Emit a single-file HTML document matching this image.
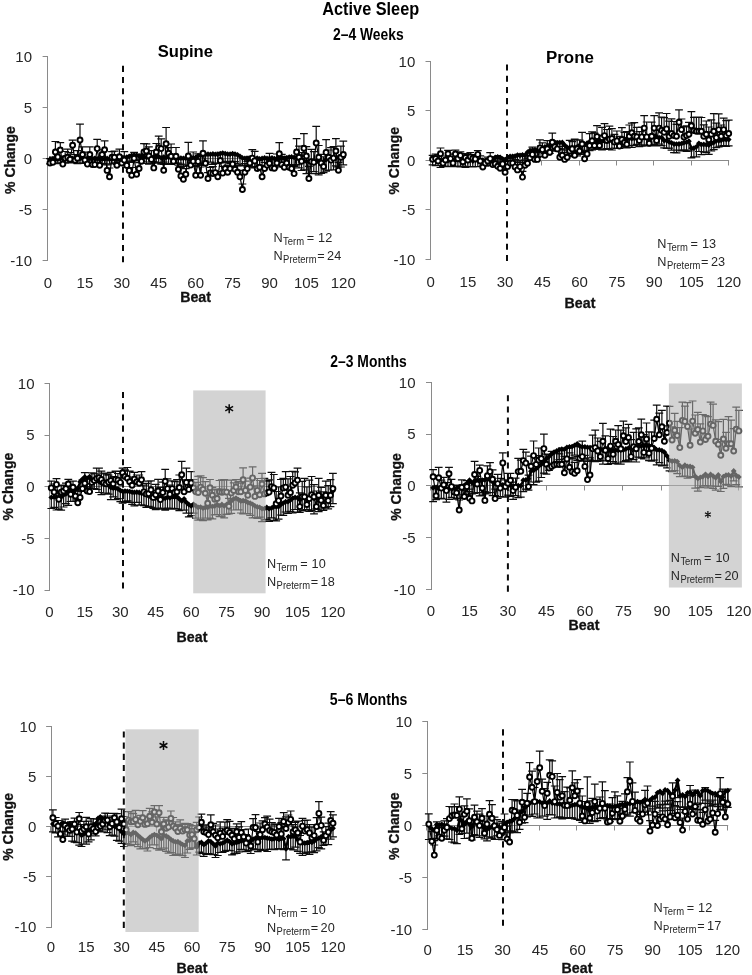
<!DOCTYPE html>
<html><head><meta charset="utf-8"><title>Active Sleep</title>
<style>html,body{margin:0;padding:0;background:#fff;}body{width:752px;height:975px;overflow:hidden;font-family:"Liberation Sans", sans-serif;}</style>
</head><body>
<div style="filter:grayscale(1);width:752px;height:975px">
<svg width="752" height="975" viewBox="0 0 752 975" style="display:block;font-family:'Liberation Sans',sans-serif">
<rect x="0" y="0" width="752" height="975" fill="#fff"/>
<g id="p1">
<path d="M47.5 56.0V261.0" stroke="#8a8a8a" stroke-width="1" fill="none"/>
<path d="M42.6 56.5H48.0" stroke="#8a8a8a" stroke-width="1"/>
<text x="32.0" y="61.5" font-size="15" text-anchor="end" fill="#262626">10</text>
<path d="M42.6 107.5H48.0" stroke="#8a8a8a" stroke-width="1"/>
<text x="32.0" y="112.5" font-size="15" text-anchor="end" fill="#262626">5</text>
<path d="M42.6 158.5H48.0" stroke="#8a8a8a" stroke-width="1"/>
<text x="32.0" y="163.5" font-size="15" text-anchor="end" fill="#262626">0</text>
<path d="M42.6 209.5H48.0" stroke="#8a8a8a" stroke-width="1"/>
<text x="32.0" y="214.5" font-size="15" text-anchor="end" fill="#262626">-5</text>
<path d="M42.6 260.5H48.0" stroke="#8a8a8a" stroke-width="1"/>
<text x="32.0" y="265.5" font-size="15" text-anchor="end" fill="#262626">-10</text>
<path d="M47.6 158.5H343.7" stroke="#8a8a8a" stroke-width="1"/>
<path d="M47.5 158.5v5" stroke="#8a8a8a" stroke-width="1"/>
<text x="48.0" y="288.3" font-size="15" text-anchor="middle" fill="#262626">0</text>
<path d="M84.5 158.5v5" stroke="#8a8a8a" stroke-width="1"/>
<text x="84.9" y="288.3" font-size="15" text-anchor="middle" fill="#262626">15</text>
<path d="M121.5 158.5v5" stroke="#8a8a8a" stroke-width="1"/>
<text x="121.8" y="288.3" font-size="15" text-anchor="middle" fill="#262626">30</text>
<path d="M158.5 158.5v5" stroke="#8a8a8a" stroke-width="1"/>
<text x="158.7" y="288.3" font-size="15" text-anchor="middle" fill="#262626">45</text>
<path d="M195.5 158.5v5" stroke="#8a8a8a" stroke-width="1"/>
<text x="195.7" y="288.3" font-size="15" text-anchor="middle" fill="#262626">60</text>
<path d="M232.5 158.5v5" stroke="#8a8a8a" stroke-width="1"/>
<text x="232.6" y="288.3" font-size="15" text-anchor="middle" fill="#262626">75</text>
<path d="M269.5 158.5v5" stroke="#8a8a8a" stroke-width="1"/>
<text x="269.5" y="288.3" font-size="15" text-anchor="middle" fill="#262626">90</text>
<path d="M306.5 158.5v5" stroke="#8a8a8a" stroke-width="1"/>
<text x="306.4" y="288.3" font-size="15" text-anchor="middle" fill="#262626">105</text>
<path d="M342.5 158.5v5" stroke="#8a8a8a" stroke-width="1"/>
<text x="343.3" y="288.3" font-size="15" text-anchor="middle" fill="#262626">120</text>
<text x="195.6" y="302.4" font-size="14.2" font-weight="bold" text-anchor="middle" fill="#111" stroke="#111" stroke-width="0.3">Beat</text>
<text transform="translate(14.8 160.1) rotate(-90)" font-size="14" font-weight="bold" text-anchor="middle" fill="#111" stroke="#111" stroke-width="0.3">% Change</text>
<path d="M123.0 65.8V263.0" stroke="#0a0a0a" stroke-width="2" stroke-dasharray="6.1 5.1" fill="none"/>
<path d="M50.0 159.3V163.8M46.1 163.8h7.8M52.9 158.8V163.0M49.0 163.0h7.8M55.4 159.7V163.7M51.5 163.7h7.8M57.8 159.0V162.9M53.9 162.9h7.8M60.3 158.8V163.5M56.4 163.5h7.8M62.8 158.2V162.8M58.9 162.8h7.8M65.2 158.8V163.1M61.3 163.1h7.8M67.7 158.4V162.8M63.8 162.8h7.8M70.1 158.1V162.5M66.2 162.5h7.8M72.6 158.3V161.9M68.7 161.9h7.8M75.1 158.2V162.8M71.2 162.8h7.8M77.5 159.0V163.7M73.6 163.7h7.8M80.0 158.6V162.9M76.1 162.9h7.8M82.5 158.3V163.4M78.6 163.4h7.8M84.9 159.1V163.4M81.0 163.4h7.8M87.4 158.1V162.5M83.5 162.5h7.8M89.8 158.3V162.5M85.9 162.5h7.8M92.3 159.1V164.6M88.4 164.6h7.8M94.8 158.4V163.4M90.9 163.4h7.8M97.2 158.8V164.2M93.3 164.2h7.8M99.7 158.9V164.3M95.8 164.3h7.8M102.1 159.2V163.3M98.2 163.3h7.8M104.6 159.1V164.2M100.7 164.2h7.8M107.1 158.5V164.2M103.2 164.2h7.8M109.5 159.3V163.8M105.6 163.8h7.8M112.0 158.6V164.0M108.1 164.0h7.8M114.4 158.5V162.8M110.5 162.8h7.8M116.9 158.7V164.5M113.0 164.5h7.8M119.4 159.1V163.6M115.5 163.6h7.8M121.8 158.8V163.6M117.9 163.6h7.8M124.3 158.2V163.5M120.4 163.5h7.8M126.8 157.2V162.1M122.9 162.1h7.8M129.2 156.3V161.3M125.3 161.3h7.8M131.7 155.5V161.0M127.8 161.0h7.8M134.1 155.2V159.8M130.2 159.8h7.8M136.6 155.2V160.9M132.7 160.9h7.8M139.1 156.2V162.6M135.2 162.6h7.8M141.5 156.0V161.0M137.6 161.0h7.8M144.0 156.9V162.0M140.1 162.0h7.8M146.4 157.3V163.5M142.5 163.5h7.8M148.9 157.8V164.2M145.0 164.2h7.8M151.4 157.4V163.4M147.5 163.4h7.8M153.8 156.7V161.6M149.9 161.6h7.8M156.3 156.7V162.6M152.4 162.6h7.8M158.7 156.7V163.2M154.8 163.2h7.8M161.2 157.8V164.2M157.3 164.2h7.8M163.7 157.1V162.2M159.8 162.2h7.8M166.1 157.7V163.6M162.2 163.6h7.8M168.6 157.2V164.3M164.7 164.3h7.8M171.1 157.3V164.3M167.2 164.3h7.8M173.5 157.0V163.3M169.6 163.3h7.8M176.0 157.2V163.3M172.1 163.3h7.8M178.4 158.4V165.1M174.5 165.1h7.8M180.9 158.1V164.0M177.0 164.0h7.8M183.4 158.3V166.5M179.5 166.5h7.8M185.8 158.2V165.0M181.9 165.0h7.8M188.3 158.2V165.3M184.4 165.3h7.8M190.7 157.3V165.4M186.8 165.4h7.8M193.2 158.0V166.2M189.3 166.2h7.8M195.7 157.3V165.5M191.8 165.5h7.8M198.1 155.7V163.4M194.2 163.4h7.8M200.6 155.5V165.4M196.7 165.4h7.8M203.0 154.2V164.4M199.1 164.4h7.8M205.5 154.5V162.3M201.6 162.3h7.8M208.0 154.2V164.1M204.1 164.1h7.8M210.4 154.4V162.2M206.5 162.2h7.8M212.9 153.9V164.5M209.0 164.5h7.8M215.3 154.3V163.3M211.4 163.3h7.8M217.8 154.4V163.0M213.9 163.0h7.8M220.3 153.7V162.9M216.4 162.9h7.8M222.7 153.1V161.7M218.8 161.7h7.8M225.2 153.6V162.1M221.3 162.1h7.8M227.7 154.2V161.3M223.8 161.3h7.8M230.1 154.2V163.4M226.2 163.4h7.8M232.6 153.7V161.7M228.7 161.7h7.8M235.0 154.1V161.7M231.1 161.7h7.8M237.5 154.8V164.1M233.6 164.1h7.8M240.0 156.3V166.0M236.1 166.0h7.8M242.4 157.9V165.4M238.5 165.4h7.8M244.9 158.3V165.2M241.0 165.2h7.8M247.3 158.9V167.1M243.4 167.1h7.8M249.8 158.5V166.3M245.9 166.3h7.8M252.3 158.0V166.7M248.4 166.7h7.8M254.7 159.0V167.9M250.8 167.9h7.8M257.2 158.1V166.7M253.3 166.7h7.8M259.6 159.0V167.4M255.7 167.4h7.8M262.1 158.5V165.6M258.2 165.6h7.8M264.6 158.0V166.0M260.7 166.0h7.8M267.0 158.5V166.9M263.1 166.9h7.8M269.5 158.3V165.5M265.6 165.5h7.8M272.0 158.0V165.5M268.1 165.5h7.8M274.4 158.7V168.1M270.5 168.1h7.8M276.9 158.4V166.9M273.0 166.9h7.8M279.3 158.1V166.8M275.4 166.8h7.8M281.8 157.8V167.0M277.9 167.0h7.8M284.3 158.3V166.1M280.4 166.1h7.8M286.7 157.8V166.9M282.8 166.9h7.8M289.2 157.1V165.1M285.3 165.1h7.8M291.6 157.0V164.5M287.7 164.5h7.8M294.1 157.3V165.7M290.2 165.7h7.8M296.6 157.4V164.6M292.7 164.6h7.8M299.0 159.2V167.9M295.1 167.9h7.8M301.5 159.4V170.5M297.6 170.5h7.8M303.9 160.9V169.9M300.0 169.9h7.8M306.4 161.4V173.6M302.5 173.6h7.8M308.9 161.4V173.3M305.0 173.3h7.8M311.3 161.3V173.6M307.4 173.6h7.8M313.8 162.0V171.5M309.9 171.5h7.8M316.2 161.5V173.4M312.3 173.4h7.8M318.7 161.8V174.8M314.8 174.8h7.8M321.2 161.8V173.4M317.3 173.4h7.8M323.6 161.4V172.7M319.7 172.7h7.8M326.1 159.7V171.1M322.2 171.1h7.8M328.6 159.2V170.1M324.7 170.1h7.8M331.0 158.3V170.0M327.1 170.0h7.8M333.5 158.8V169.9M329.6 169.9h7.8M335.9 158.2V165.9M332.0 165.9h7.8M338.4 157.2V167.2M334.5 167.2h7.8M340.9 157.2V167.0M337.0 167.0h7.8M343.3 157.3V164.9M339.4 164.9h7.8" stroke="#0c0c0c" stroke-width="1.2" fill="none"/>
<path d="M50.0 163.0V158.7M46.1 158.7h7.8M52.9 162.3V157.2M49.0 157.2h7.8M55.4 152.0V141.5M51.5 141.5h7.8M57.8 156.9V149.4M53.9 149.4h7.8M60.3 150.0V142.6M56.4 142.6h7.8M62.8 164.1V157.8M58.9 157.8h7.8M65.2 158.3V151.5M61.3 151.5h7.8M67.7 157.3V149.1M63.8 149.1h7.8M70.1 159.3V152.6M66.2 152.6h7.8M72.6 145.3V140.1M68.7 140.1h7.8M75.1 160.3V154.5M71.2 154.5h7.8M77.5 158.3V150.7M73.6 150.7h7.8M80.0 140.0V124.2M76.1 124.2h7.8M82.5 154.5V146.9M78.6 146.9h7.8M84.9 160.1V152.2M81.0 152.2h7.8M87.4 164.1V157.7M83.5 157.7h7.8M89.8 154.5V146.8M85.9 146.8h7.8M92.3 164.6V157.0M88.4 157.0h7.8M94.8 164.6V157.8M90.9 157.8h7.8M97.2 148.6V139.3M93.3 139.3h7.8M99.7 165.3V158.2M95.8 158.2h7.8M102.1 154.5V149.8M98.2 149.8h7.8M104.6 149.8V140.8M100.7 140.8h7.8M107.1 170.4V164.8M103.2 164.8h7.8M109.5 176.7V168.0M105.6 168.0h7.8M112.0 157.3V151.7M108.1 151.7h7.8M114.4 157.3V151.2M110.5 151.2h7.8M116.9 165.3V159.4M113.0 159.4h7.8M119.4 156.7V149.2M115.5 149.2h7.8M121.8 163.0V156.2M117.9 156.2h7.8M124.3 160.1V151.7M120.4 151.7h7.8M126.8 165.4V156.6M122.9 156.6h7.8M129.2 170.4V162.5M125.3 162.5h7.8M131.7 175.3V167.5M127.8 167.5h7.8M134.1 158.3V152.3M130.2 152.3h7.8M136.6 174.2V167.5M132.7 167.5h7.8M139.1 168.5V159.8M135.2 159.8h7.8M141.5 161.3V154.0M137.6 154.0h7.8M144.0 152.0V143.7M140.1 143.7h7.8M146.4 151.0V143.9M142.5 143.9h7.8M148.9 156.0V146.9M145.0 146.9h7.8M151.4 159.4V150.6M147.5 150.6h7.8M153.8 167.9V158.7M149.9 158.7h7.8M156.3 152.0V143.5M152.4 143.5h7.8M158.7 147.8V136.2M154.8 136.2h7.8M161.2 148.6V138.9M157.3 138.9h7.8M163.7 170.3V164.3M159.8 164.3h7.8M166.1 143.7V127.5M162.2 127.5h7.8M168.6 153.2V147.7M164.7 147.7h7.8M171.1 156.3V144.0M167.2 144.0h7.8M173.5 161.3V155.1M169.6 155.1h7.8M176.0 156.3V147.5M172.1 147.5h7.8M178.4 169.3V163.2M174.5 163.2h7.8M180.9 175.9V167.7M177.0 167.7h7.8M183.4 179.2V174.1M179.5 174.1h7.8M185.8 174.2V168.6M181.9 168.6h7.8M188.3 156.0V142.3M184.4 142.3h7.8M190.7 165.1V159.6M186.8 159.6h7.8M193.2 161.2V152.0M189.3 152.0h7.8M195.7 175.3V166.4M191.8 166.4h7.8M198.1 161.4V153.9M194.2 153.9h7.8M200.6 175.2V167.0M196.7 167.0h7.8M203.0 153.2V140.8M199.1 140.8h7.8M205.5 163.3V155.4M201.6 155.4h7.8M208.0 178.5V172.6M204.1 172.6h7.8M210.4 172.9V167.3M206.5 167.3h7.8M212.9 173.6V166.6M209.0 166.6h7.8M215.3 172.6V163.6M211.4 163.6h7.8M217.8 176.7V171.7M213.9 171.7h7.8M220.3 160.5V152.4M216.4 152.4h7.8M222.7 173.1V166.4M218.8 166.4h7.8M225.2 168.5V162.5M221.3 162.5h7.8M227.7 172.2V165.1M223.8 165.1h7.8M230.1 168.5V161.6M226.2 161.6h7.8M232.6 164.0V154.9M228.7 154.9h7.8M235.0 169.3V163.4M231.1 163.4h7.8M237.5 172.2V165.6M233.6 165.6h7.8M240.0 176.7V170.4M236.1 170.4h7.8M242.4 189.5V184.0M238.5 184.0h7.8M244.9 172.2V163.5M241.0 163.5h7.8M247.3 168.5V161.3M243.4 161.3h7.8M249.8 163.0V156.3M245.9 156.3h7.8M252.3 158.1V149.6M248.4 149.6h7.8M254.7 160.9V151.4M250.8 151.4h7.8M257.2 168.5V158.8M253.3 158.8h7.8M259.6 167.2V159.8M255.7 159.8h7.8M262.1 176.7V166.5M258.2 166.5h7.8M264.6 168.5V162.4M260.7 162.4h7.8M267.0 165.1V158.7M263.1 158.7h7.8M269.5 163.3V153.4M265.6 153.4h7.8M272.0 167.9V159.2M268.1 159.2h7.8M274.4 168.2V159.1M270.5 159.1h7.8M276.9 163.0V154.0M273.0 154.0h7.8M279.3 153.8V142.6M275.4 142.6h7.8M281.8 164.6V154.4M277.9 154.4h7.8M284.3 167.2V158.9M280.4 158.9h7.8M286.7 163.0V156.4M282.8 156.4h7.8M289.2 167.2V157.7M285.3 157.7h7.8M291.6 168.5V158.1M287.7 158.1h7.8M294.1 173.6V166.3M290.2 166.3h7.8M296.6 152.0V138.6M292.7 138.6h7.8M299.0 157.3V146.2M295.1 146.2h7.8M301.5 161.3V152.6M297.6 152.6h7.8M303.9 148.2V133.7M300.0 133.7h7.8M306.4 156.0V146.6M302.5 146.6h7.8M308.9 178.5V166.3M305.0 166.3h7.8M311.3 161.6V149.3M307.4 149.3h7.8M313.8 162.3V151.6M309.9 151.6h7.8M316.2 143.0V126.4M312.3 126.4h7.8M318.7 157.3V145.5M314.8 145.5h7.8M321.2 163.0V154.4M317.3 154.4h7.8M323.6 166.5V156.8M319.7 156.8h7.8M326.1 152.4V139.7M322.2 139.7h7.8M328.6 157.3V150.0M324.7 150.0h7.8M331.0 160.1V147.7M327.1 147.7h7.8M333.5 158.1V146.7M329.6 146.7h7.8M335.9 151.0V138.6M332.0 138.6h7.8M338.4 170.3V162.4M334.5 162.4h7.8M340.9 157.3V146.2M337.0 146.2h7.8M343.3 154.5V141.2M339.4 141.2h7.8" stroke="#0c0c0c" stroke-width="1.2" fill="none"/>
<polyline points="50.0,159.3 52.9,158.8 55.4,159.7 57.8,159.0 60.3,158.8 62.8,158.2 65.2,158.8 67.7,158.4 70.1,158.1 72.6,158.3 75.1,158.2 77.5,159.0 80.0,158.6 82.5,158.3 84.9,159.1 87.4,158.1 89.8,158.3 92.3,159.1 94.8,158.4 97.2,158.8 99.7,158.9 102.1,159.2 104.6,159.1 107.1,158.5 109.5,159.3 112.0,158.6 114.4,158.5 116.9,158.7 119.4,159.1 121.8,158.8 124.3,158.2 126.8,157.2 129.2,156.3 131.7,155.5 134.1,155.2 136.6,155.2 139.1,156.2 141.5,156.0 144.0,156.9 146.4,157.3 148.9,157.8 151.4,157.4 153.8,156.7 156.3,156.7 158.7,156.7 161.2,157.8 163.7,157.1 166.1,157.7 168.6,157.2 171.1,157.3 173.5,157.0 176.0,157.2 178.4,158.4 180.9,158.1 183.4,158.3 185.8,158.2 188.3,158.2 190.7,157.3 193.2,158.0 195.7,157.3 198.1,155.7 200.6,155.5 203.0,154.2 205.5,154.5 208.0,154.2 210.4,154.4 212.9,153.9 215.3,154.3 217.8,154.4 220.3,153.7 222.7,153.1 225.2,153.6 227.7,154.2 230.1,154.2 232.6,153.7 235.0,154.1 237.5,154.8 240.0,156.3 242.4,157.9 244.9,158.3 247.3,158.9 249.8,158.5 252.3,158.0 254.7,159.0 257.2,158.1 259.6,159.0 262.1,158.5 264.6,158.0 267.0,158.5 269.5,158.3 272.0,158.0 274.4,158.7 276.9,158.4 279.3,158.1 281.8,157.8 284.3,158.3 286.7,157.8 289.2,157.1 291.6,157.0 294.1,157.3 296.6,157.4 299.0,159.2 301.5,159.4 303.9,160.9 306.4,161.4 308.9,161.4 311.3,161.3 313.8,162.0 316.2,161.5 318.7,161.8 321.2,161.8 323.6,161.4 326.1,159.7 328.6,159.2 331.0,158.3 333.5,158.8 335.9,158.2 338.4,157.2 340.9,157.2 343.3,157.3" stroke="#000" stroke-width="2.2" fill="none" stroke-linejoin="round"/>
<path d="M47.1 159.3L50.0 156.4L52.9 159.3L50.0 162.2ZM50.0 158.8L52.9 155.9L55.8 158.8L52.9 161.7ZM52.5 159.7L55.4 156.8L58.3 159.7L55.4 162.6ZM54.9 159.0L57.8 156.1L60.7 159.0L57.8 161.9ZM57.4 158.8L60.3 155.9L63.2 158.8L60.3 161.7ZM59.9 158.2L62.8 155.3L65.7 158.2L62.8 161.1ZM62.3 158.8L65.2 155.9L68.1 158.8L65.2 161.7ZM64.8 158.4L67.7 155.5L70.6 158.4L67.7 161.3ZM67.2 158.1L70.1 155.2L73.0 158.1L70.1 161.0ZM69.7 158.3L72.6 155.4L75.5 158.3L72.6 161.2ZM72.2 158.2L75.1 155.3L78.0 158.2L75.1 161.1ZM74.6 159.0L77.5 156.1L80.4 159.0L77.5 161.9ZM77.1 158.6L80.0 155.7L82.9 158.6L80.0 161.5ZM79.6 158.3L82.5 155.4L85.4 158.3L82.5 161.2ZM82.0 159.1L84.9 156.2L87.8 159.1L84.9 162.0ZM84.5 158.1L87.4 155.2L90.3 158.1L87.4 161.0ZM86.9 158.3L89.8 155.4L92.7 158.3L89.8 161.2ZM89.4 159.1L92.3 156.2L95.2 159.1L92.3 162.0ZM91.9 158.4L94.8 155.5L97.7 158.4L94.8 161.3ZM94.3 158.8L97.2 155.9L100.1 158.8L97.2 161.7ZM96.8 158.9L99.7 156.0L102.6 158.9L99.7 161.8ZM99.2 159.2L102.1 156.3L105.0 159.2L102.1 162.1ZM101.7 159.1L104.6 156.2L107.5 159.1L104.6 162.0ZM104.2 158.5L107.1 155.6L110.0 158.5L107.1 161.4ZM106.6 159.3L109.5 156.4L112.4 159.3L109.5 162.2ZM109.1 158.6L112.0 155.7L114.9 158.6L112.0 161.5ZM111.5 158.5L114.4 155.6L117.3 158.5L114.4 161.4ZM114.0 158.7L116.9 155.8L119.8 158.7L116.9 161.6ZM116.5 159.1L119.4 156.2L122.3 159.1L119.4 162.0ZM118.9 158.8L121.8 155.9L124.7 158.8L121.8 161.7ZM121.4 158.2L124.3 155.3L127.2 158.2L124.3 161.1ZM123.9 157.2L126.8 154.3L129.7 157.2L126.8 160.1ZM126.3 156.3L129.2 153.4L132.1 156.3L129.2 159.2ZM128.8 155.5L131.7 152.6L134.6 155.5L131.7 158.4ZM131.2 155.2L134.1 152.3L137.0 155.2L134.1 158.1ZM133.7 155.2L136.6 152.3L139.5 155.2L136.6 158.1ZM136.2 156.2L139.1 153.3L142.0 156.2L139.1 159.1ZM138.6 156.0L141.5 153.1L144.4 156.0L141.5 158.9ZM141.1 156.9L144.0 154.0L146.9 156.9L144.0 159.8ZM143.5 157.3L146.4 154.4L149.3 157.3L146.4 160.2ZM146.0 157.8L148.9 154.9L151.8 157.8L148.9 160.7ZM148.5 157.4L151.4 154.5L154.3 157.4L151.4 160.3ZM150.9 156.7L153.8 153.8L156.7 156.7L153.8 159.6ZM153.4 156.7L156.3 153.8L159.2 156.7L156.3 159.6ZM155.8 156.7L158.7 153.8L161.6 156.7L158.7 159.6ZM158.3 157.8L161.2 154.9L164.1 157.8L161.2 160.7ZM160.8 157.1L163.7 154.2L166.6 157.1L163.7 160.0ZM163.2 157.7L166.1 154.8L169.0 157.7L166.1 160.6ZM165.7 157.2L168.6 154.3L171.5 157.2L168.6 160.1ZM168.2 157.3L171.1 154.4L174.0 157.3L171.1 160.2ZM170.6 157.0L173.5 154.1L176.4 157.0L173.5 159.9ZM173.1 157.2L176.0 154.3L178.9 157.2L176.0 160.1ZM175.5 158.4L178.4 155.5L181.3 158.4L178.4 161.3ZM178.0 158.1L180.9 155.2L183.8 158.1L180.9 161.0ZM180.5 158.3L183.4 155.4L186.3 158.3L183.4 161.2ZM182.9 158.2L185.8 155.3L188.7 158.2L185.8 161.1ZM185.4 158.2L188.3 155.3L191.2 158.2L188.3 161.1ZM187.8 157.3L190.7 154.4L193.6 157.3L190.7 160.2ZM190.3 158.0L193.2 155.1L196.1 158.0L193.2 160.9ZM192.8 157.3L195.7 154.4L198.6 157.3L195.7 160.2ZM195.2 155.7L198.1 152.8L201.0 155.7L198.1 158.6ZM197.7 155.5L200.6 152.6L203.5 155.5L200.6 158.4ZM200.1 154.2L203.0 151.3L205.9 154.2L203.0 157.1ZM202.6 154.5L205.5 151.6L208.4 154.5L205.5 157.4ZM205.1 154.2L208.0 151.3L210.9 154.2L208.0 157.1ZM207.5 154.4L210.4 151.5L213.3 154.4L210.4 157.3ZM210.0 153.9L212.9 151.0L215.8 153.9L212.9 156.8ZM212.4 154.3L215.3 151.4L218.2 154.3L215.3 157.2ZM214.9 154.4L217.8 151.5L220.7 154.4L217.8 157.3ZM217.4 153.7L220.3 150.8L223.2 153.7L220.3 156.6ZM219.8 153.1L222.7 150.2L225.6 153.1L222.7 156.0ZM222.3 153.6L225.2 150.7L228.1 153.6L225.2 156.5ZM224.8 154.2L227.7 151.3L230.6 154.2L227.7 157.1ZM227.2 154.2L230.1 151.3L233.0 154.2L230.1 157.1ZM229.7 153.7L232.6 150.8L235.5 153.7L232.6 156.6ZM232.1 154.1L235.0 151.2L237.9 154.1L235.0 157.0ZM234.6 154.8L237.5 151.9L240.4 154.8L237.5 157.7ZM237.1 156.3L240.0 153.4L242.9 156.3L240.0 159.2ZM239.5 157.9L242.4 155.0L245.3 157.9L242.4 160.8ZM242.0 158.3L244.9 155.4L247.8 158.3L244.9 161.2ZM244.4 158.9L247.3 156.0L250.2 158.9L247.3 161.8ZM246.9 158.5L249.8 155.6L252.7 158.5L249.8 161.4ZM249.4 158.0L252.3 155.1L255.2 158.0L252.3 160.9ZM251.8 159.0L254.7 156.1L257.6 159.0L254.7 161.9ZM254.3 158.1L257.2 155.2L260.1 158.1L257.2 161.0ZM256.7 159.0L259.6 156.1L262.5 159.0L259.6 161.9ZM259.2 158.5L262.1 155.6L265.0 158.5L262.1 161.4ZM261.7 158.0L264.6 155.1L267.5 158.0L264.6 160.9ZM264.1 158.5L267.0 155.6L269.9 158.5L267.0 161.4ZM266.6 158.3L269.5 155.4L272.4 158.3L269.5 161.2ZM269.1 158.0L272.0 155.1L274.9 158.0L272.0 160.9ZM271.5 158.7L274.4 155.8L277.3 158.7L274.4 161.6ZM274.0 158.4L276.9 155.5L279.8 158.4L276.9 161.3ZM276.4 158.1L279.3 155.2L282.2 158.1L279.3 161.0ZM278.9 157.8L281.8 154.9L284.7 157.8L281.8 160.7ZM281.4 158.3L284.3 155.4L287.2 158.3L284.3 161.2ZM283.8 157.8L286.7 154.9L289.6 157.8L286.7 160.7ZM286.3 157.1L289.2 154.2L292.1 157.1L289.2 160.0ZM288.7 157.0L291.6 154.1L294.5 157.0L291.6 159.9ZM291.2 157.3L294.1 154.4L297.0 157.3L294.1 160.2ZM293.7 157.4L296.6 154.5L299.5 157.4L296.6 160.3ZM296.1 159.2L299.0 156.3L301.9 159.2L299.0 162.1ZM298.6 159.4L301.5 156.5L304.4 159.4L301.5 162.3ZM301.0 160.9L303.9 158.0L306.8 160.9L303.9 163.8ZM303.5 161.4L306.4 158.5L309.3 161.4L306.4 164.3ZM306.0 161.4L308.9 158.5L311.8 161.4L308.9 164.3ZM308.4 161.3L311.3 158.4L314.2 161.3L311.3 164.2ZM310.9 162.0L313.8 159.1L316.7 162.0L313.8 164.9ZM313.3 161.5L316.2 158.6L319.1 161.5L316.2 164.4ZM315.8 161.8L318.7 158.9L321.6 161.8L318.7 164.7ZM318.3 161.8L321.2 158.9L324.1 161.8L321.2 164.7ZM320.7 161.4L323.6 158.5L326.5 161.4L323.6 164.3ZM323.2 159.7L326.1 156.8L329.0 159.7L326.1 162.6ZM325.7 159.2L328.6 156.3L331.5 159.2L328.6 162.1ZM328.1 158.3L331.0 155.4L333.9 158.3L331.0 161.2ZM330.6 158.8L333.5 155.9L336.4 158.8L333.5 161.7ZM333.0 158.2L335.9 155.3L338.8 158.2L335.9 161.1ZM335.5 157.2L338.4 154.3L341.3 157.2L338.4 160.1ZM338.0 157.2L340.9 154.3L343.8 157.2L340.9 160.1ZM340.4 157.3L343.3 154.4L346.2 157.3L343.3 160.2Z" fill="#000"/>
<polyline points="50.0,163.0 52.9,162.3 55.4,152.0 57.8,156.9 60.3,150.0 62.8,164.1 65.2,158.3 67.7,157.3 70.1,159.3 72.6,145.3 75.1,160.3 77.5,158.3 80.0,140.0 82.5,154.5 84.9,160.1 87.4,164.1 89.8,154.5 92.3,164.6 94.8,164.6 97.2,148.6 99.7,165.3 102.1,154.5 104.6,149.8 107.1,170.4 109.5,176.7 112.0,157.3 114.4,157.3 116.9,165.3 119.4,156.7 121.8,163.0 124.3,160.1 126.8,165.4 129.2,170.4 131.7,175.3 134.1,158.3 136.6,174.2 139.1,168.5 141.5,161.3 144.0,152.0 146.4,151.0 148.9,156.0 151.4,159.4 153.8,167.9 156.3,152.0 158.7,147.8 161.2,148.6 163.7,170.3 166.1,143.7 168.6,153.2 171.1,156.3 173.5,161.3 176.0,156.3 178.4,169.3 180.9,175.9 183.4,179.2 185.8,174.2 188.3,156.0 190.7,165.1 193.2,161.2 195.7,175.3 198.1,161.4 200.6,175.2 203.0,153.2 205.5,163.3 208.0,178.5 210.4,172.9 212.9,173.6 215.3,172.6 217.8,176.7 220.3,160.5 222.7,173.1 225.2,168.5 227.7,172.2 230.1,168.5 232.6,164.0 235.0,169.3 237.5,172.2 240.0,176.7 242.4,189.5 244.9,172.2 247.3,168.5 249.8,163.0 252.3,158.1 254.7,160.9 257.2,168.5 259.6,167.2 262.1,176.7 264.6,168.5 267.0,165.1 269.5,163.3 272.0,167.9 274.4,168.2 276.9,163.0 279.3,153.8 281.8,164.6 284.3,167.2 286.7,163.0 289.2,167.2 291.6,168.5 294.1,173.6 296.6,152.0 299.0,157.3 301.5,161.3 303.9,148.2 306.4,156.0 308.9,178.5 311.3,161.6 313.8,162.3 316.2,143.0 318.7,157.3 321.2,163.0 323.6,166.5 326.1,152.4 328.6,157.3 331.0,160.1 333.5,158.1 335.9,151.0 338.4,170.3 340.9,157.3 343.3,154.5" stroke="#000" stroke-width="1.2" fill="none"/>
<circle cx="50.0" cy="163.0" r="2.5" fill="#fff" stroke="#000" stroke-width="1.9"/>
<circle cx="52.9" cy="162.3" r="2.5" fill="#fff" stroke="#000" stroke-width="1.9"/>
<circle cx="55.4" cy="152.0" r="2.5" fill="#fff" stroke="#000" stroke-width="1.9"/>
<circle cx="57.8" cy="156.9" r="2.5" fill="#fff" stroke="#000" stroke-width="1.9"/>
<circle cx="60.3" cy="150.0" r="2.5" fill="#fff" stroke="#000" stroke-width="1.9"/>
<circle cx="62.8" cy="164.1" r="2.5" fill="#fff" stroke="#000" stroke-width="1.9"/>
<circle cx="65.2" cy="158.3" r="2.5" fill="#fff" stroke="#000" stroke-width="1.9"/>
<circle cx="67.7" cy="157.3" r="2.5" fill="#fff" stroke="#000" stroke-width="1.9"/>
<circle cx="70.1" cy="159.3" r="2.5" fill="#fff" stroke="#000" stroke-width="1.9"/>
<circle cx="72.6" cy="145.3" r="2.5" fill="#fff" stroke="#000" stroke-width="1.9"/>
<circle cx="75.1" cy="160.3" r="2.5" fill="#fff" stroke="#000" stroke-width="1.9"/>
<circle cx="77.5" cy="158.3" r="2.5" fill="#fff" stroke="#000" stroke-width="1.9"/>
<circle cx="80.0" cy="140.0" r="2.5" fill="#fff" stroke="#000" stroke-width="1.9"/>
<circle cx="82.5" cy="154.5" r="2.5" fill="#fff" stroke="#000" stroke-width="1.9"/>
<circle cx="84.9" cy="160.1" r="2.5" fill="#fff" stroke="#000" stroke-width="1.9"/>
<circle cx="87.4" cy="164.1" r="2.5" fill="#fff" stroke="#000" stroke-width="1.9"/>
<circle cx="89.8" cy="154.5" r="2.5" fill="#fff" stroke="#000" stroke-width="1.9"/>
<circle cx="92.3" cy="164.6" r="2.5" fill="#fff" stroke="#000" stroke-width="1.9"/>
<circle cx="94.8" cy="164.6" r="2.5" fill="#fff" stroke="#000" stroke-width="1.9"/>
<circle cx="97.2" cy="148.6" r="2.5" fill="#fff" stroke="#000" stroke-width="1.9"/>
<circle cx="99.7" cy="165.3" r="2.5" fill="#fff" stroke="#000" stroke-width="1.9"/>
<circle cx="102.1" cy="154.5" r="2.5" fill="#fff" stroke="#000" stroke-width="1.9"/>
<circle cx="104.6" cy="149.8" r="2.5" fill="#fff" stroke="#000" stroke-width="1.9"/>
<circle cx="107.1" cy="170.4" r="2.5" fill="#fff" stroke="#000" stroke-width="1.9"/>
<circle cx="109.5" cy="176.7" r="2.5" fill="#fff" stroke="#000" stroke-width="1.9"/>
<circle cx="112.0" cy="157.3" r="2.5" fill="#fff" stroke="#000" stroke-width="1.9"/>
<circle cx="114.4" cy="157.3" r="2.5" fill="#fff" stroke="#000" stroke-width="1.9"/>
<circle cx="116.9" cy="165.3" r="2.5" fill="#fff" stroke="#000" stroke-width="1.9"/>
<circle cx="119.4" cy="156.7" r="2.5" fill="#fff" stroke="#000" stroke-width="1.9"/>
<circle cx="121.8" cy="163.0" r="2.5" fill="#fff" stroke="#000" stroke-width="1.9"/>
<circle cx="124.3" cy="160.1" r="2.5" fill="#fff" stroke="#000" stroke-width="1.9"/>
<circle cx="126.8" cy="165.4" r="2.5" fill="#fff" stroke="#000" stroke-width="1.9"/>
<circle cx="129.2" cy="170.4" r="2.5" fill="#fff" stroke="#000" stroke-width="1.9"/>
<circle cx="131.7" cy="175.3" r="2.5" fill="#fff" stroke="#000" stroke-width="1.9"/>
<circle cx="134.1" cy="158.3" r="2.5" fill="#fff" stroke="#000" stroke-width="1.9"/>
<circle cx="136.6" cy="174.2" r="2.5" fill="#fff" stroke="#000" stroke-width="1.9"/>
<circle cx="139.1" cy="168.5" r="2.5" fill="#fff" stroke="#000" stroke-width="1.9"/>
<circle cx="141.5" cy="161.3" r="2.5" fill="#fff" stroke="#000" stroke-width="1.9"/>
<circle cx="144.0" cy="152.0" r="2.5" fill="#fff" stroke="#000" stroke-width="1.9"/>
<circle cx="146.4" cy="151.0" r="2.5" fill="#fff" stroke="#000" stroke-width="1.9"/>
<circle cx="148.9" cy="156.0" r="2.5" fill="#fff" stroke="#000" stroke-width="1.9"/>
<circle cx="151.4" cy="159.4" r="2.5" fill="#fff" stroke="#000" stroke-width="1.9"/>
<circle cx="153.8" cy="167.9" r="2.5" fill="#fff" stroke="#000" stroke-width="1.9"/>
<circle cx="156.3" cy="152.0" r="2.5" fill="#fff" stroke="#000" stroke-width="1.9"/>
<circle cx="158.7" cy="147.8" r="2.5" fill="#fff" stroke="#000" stroke-width="1.9"/>
<circle cx="161.2" cy="148.6" r="2.5" fill="#fff" stroke="#000" stroke-width="1.9"/>
<circle cx="163.7" cy="170.3" r="2.5" fill="#fff" stroke="#000" stroke-width="1.9"/>
<circle cx="166.1" cy="143.7" r="2.5" fill="#fff" stroke="#000" stroke-width="1.9"/>
<circle cx="168.6" cy="153.2" r="2.5" fill="#fff" stroke="#000" stroke-width="1.9"/>
<circle cx="171.1" cy="156.3" r="2.5" fill="#fff" stroke="#000" stroke-width="1.9"/>
<circle cx="173.5" cy="161.3" r="2.5" fill="#fff" stroke="#000" stroke-width="1.9"/>
<circle cx="176.0" cy="156.3" r="2.5" fill="#fff" stroke="#000" stroke-width="1.9"/>
<circle cx="178.4" cy="169.3" r="2.5" fill="#fff" stroke="#000" stroke-width="1.9"/>
<circle cx="180.9" cy="175.9" r="2.5" fill="#fff" stroke="#000" stroke-width="1.9"/>
<circle cx="183.4" cy="179.2" r="2.5" fill="#fff" stroke="#000" stroke-width="1.9"/>
<circle cx="185.8" cy="174.2" r="2.5" fill="#fff" stroke="#000" stroke-width="1.9"/>
<circle cx="188.3" cy="156.0" r="2.5" fill="#fff" stroke="#000" stroke-width="1.9"/>
<circle cx="190.7" cy="165.1" r="2.5" fill="#fff" stroke="#000" stroke-width="1.9"/>
<circle cx="193.2" cy="161.2" r="2.5" fill="#fff" stroke="#000" stroke-width="1.9"/>
<circle cx="195.7" cy="175.3" r="2.5" fill="#fff" stroke="#000" stroke-width="1.9"/>
<circle cx="198.1" cy="161.4" r="2.5" fill="#fff" stroke="#000" stroke-width="1.9"/>
<circle cx="200.6" cy="175.2" r="2.5" fill="#fff" stroke="#000" stroke-width="1.9"/>
<circle cx="203.0" cy="153.2" r="2.5" fill="#fff" stroke="#000" stroke-width="1.9"/>
<circle cx="205.5" cy="163.3" r="2.5" fill="#fff" stroke="#000" stroke-width="1.9"/>
<circle cx="208.0" cy="178.5" r="2.5" fill="#fff" stroke="#000" stroke-width="1.9"/>
<circle cx="210.4" cy="172.9" r="2.5" fill="#fff" stroke="#000" stroke-width="1.9"/>
<circle cx="212.9" cy="173.6" r="2.5" fill="#fff" stroke="#000" stroke-width="1.9"/>
<circle cx="215.3" cy="172.6" r="2.5" fill="#fff" stroke="#000" stroke-width="1.9"/>
<circle cx="217.8" cy="176.7" r="2.5" fill="#fff" stroke="#000" stroke-width="1.9"/>
<circle cx="220.3" cy="160.5" r="2.5" fill="#fff" stroke="#000" stroke-width="1.9"/>
<circle cx="222.7" cy="173.1" r="2.5" fill="#fff" stroke="#000" stroke-width="1.9"/>
<circle cx="225.2" cy="168.5" r="2.5" fill="#fff" stroke="#000" stroke-width="1.9"/>
<circle cx="227.7" cy="172.2" r="2.5" fill="#fff" stroke="#000" stroke-width="1.9"/>
<circle cx="230.1" cy="168.5" r="2.5" fill="#fff" stroke="#000" stroke-width="1.9"/>
<circle cx="232.6" cy="164.0" r="2.5" fill="#fff" stroke="#000" stroke-width="1.9"/>
<circle cx="235.0" cy="169.3" r="2.5" fill="#fff" stroke="#000" stroke-width="1.9"/>
<circle cx="237.5" cy="172.2" r="2.5" fill="#fff" stroke="#000" stroke-width="1.9"/>
<circle cx="240.0" cy="176.7" r="2.5" fill="#fff" stroke="#000" stroke-width="1.9"/>
<circle cx="242.4" cy="189.5" r="2.5" fill="#fff" stroke="#000" stroke-width="1.9"/>
<circle cx="244.9" cy="172.2" r="2.5" fill="#fff" stroke="#000" stroke-width="1.9"/>
<circle cx="247.3" cy="168.5" r="2.5" fill="#fff" stroke="#000" stroke-width="1.9"/>
<circle cx="249.8" cy="163.0" r="2.5" fill="#fff" stroke="#000" stroke-width="1.9"/>
<circle cx="252.3" cy="158.1" r="2.5" fill="#fff" stroke="#000" stroke-width="1.9"/>
<circle cx="254.7" cy="160.9" r="2.5" fill="#fff" stroke="#000" stroke-width="1.9"/>
<circle cx="257.2" cy="168.5" r="2.5" fill="#fff" stroke="#000" stroke-width="1.9"/>
<circle cx="259.6" cy="167.2" r="2.5" fill="#fff" stroke="#000" stroke-width="1.9"/>
<circle cx="262.1" cy="176.7" r="2.5" fill="#fff" stroke="#000" stroke-width="1.9"/>
<circle cx="264.6" cy="168.5" r="2.5" fill="#fff" stroke="#000" stroke-width="1.9"/>
<circle cx="267.0" cy="165.1" r="2.5" fill="#fff" stroke="#000" stroke-width="1.9"/>
<circle cx="269.5" cy="163.3" r="2.5" fill="#fff" stroke="#000" stroke-width="1.9"/>
<circle cx="272.0" cy="167.9" r="2.5" fill="#fff" stroke="#000" stroke-width="1.9"/>
<circle cx="274.4" cy="168.2" r="2.5" fill="#fff" stroke="#000" stroke-width="1.9"/>
<circle cx="276.9" cy="163.0" r="2.5" fill="#fff" stroke="#000" stroke-width="1.9"/>
<circle cx="279.3" cy="153.8" r="2.5" fill="#fff" stroke="#000" stroke-width="1.9"/>
<circle cx="281.8" cy="164.6" r="2.5" fill="#fff" stroke="#000" stroke-width="1.9"/>
<circle cx="284.3" cy="167.2" r="2.5" fill="#fff" stroke="#000" stroke-width="1.9"/>
<circle cx="286.7" cy="163.0" r="2.5" fill="#fff" stroke="#000" stroke-width="1.9"/>
<circle cx="289.2" cy="167.2" r="2.5" fill="#fff" stroke="#000" stroke-width="1.9"/>
<circle cx="291.6" cy="168.5" r="2.5" fill="#fff" stroke="#000" stroke-width="1.9"/>
<circle cx="294.1" cy="173.6" r="2.5" fill="#fff" stroke="#000" stroke-width="1.9"/>
<circle cx="296.6" cy="152.0" r="2.5" fill="#fff" stroke="#000" stroke-width="1.9"/>
<circle cx="299.0" cy="157.3" r="2.5" fill="#fff" stroke="#000" stroke-width="1.9"/>
<circle cx="301.5" cy="161.3" r="2.5" fill="#fff" stroke="#000" stroke-width="1.9"/>
<circle cx="303.9" cy="148.2" r="2.5" fill="#fff" stroke="#000" stroke-width="1.9"/>
<circle cx="306.4" cy="156.0" r="2.5" fill="#fff" stroke="#000" stroke-width="1.9"/>
<circle cx="308.9" cy="178.5" r="2.5" fill="#fff" stroke="#000" stroke-width="1.9"/>
<circle cx="311.3" cy="161.6" r="2.5" fill="#fff" stroke="#000" stroke-width="1.9"/>
<circle cx="313.8" cy="162.3" r="2.5" fill="#fff" stroke="#000" stroke-width="1.9"/>
<circle cx="316.2" cy="143.0" r="2.5" fill="#fff" stroke="#000" stroke-width="1.9"/>
<circle cx="318.7" cy="157.3" r="2.5" fill="#fff" stroke="#000" stroke-width="1.9"/>
<circle cx="321.2" cy="163.0" r="2.5" fill="#fff" stroke="#000" stroke-width="1.9"/>
<circle cx="323.6" cy="166.5" r="2.5" fill="#fff" stroke="#000" stroke-width="1.9"/>
<circle cx="326.1" cy="152.4" r="2.5" fill="#fff" stroke="#000" stroke-width="1.9"/>
<circle cx="328.6" cy="157.3" r="2.5" fill="#fff" stroke="#000" stroke-width="1.9"/>
<circle cx="331.0" cy="160.1" r="2.5" fill="#fff" stroke="#000" stroke-width="1.9"/>
<circle cx="333.5" cy="158.1" r="2.5" fill="#fff" stroke="#000" stroke-width="1.9"/>
<circle cx="335.9" cy="151.0" r="2.5" fill="#fff" stroke="#000" stroke-width="1.9"/>
<circle cx="338.4" cy="170.3" r="2.5" fill="#fff" stroke="#000" stroke-width="1.9"/>
<circle cx="340.9" cy="157.3" r="2.5" fill="#fff" stroke="#000" stroke-width="1.9"/>
<circle cx="343.3" cy="154.5" r="2.5" fill="#fff" stroke="#000" stroke-width="1.9"/>
<text x="273.5" y="241.5" font-size="12.7" fill="#262626">N</text>
<text x="283.1" y="244.5" font-size="10.4" fill="#262626" textLength="21" lengthAdjust="spacingAndGlyphs">Term</text>
<text x="306.8" y="241.5" font-size="12.7" fill="#262626">=</text>
<text x="318.1" y="241.5" font-size="12.7" fill="#262626">12</text>
<text x="273.5" y="259.9" font-size="12.7" fill="#262626">N</text>
<text x="283.1" y="262.9" font-size="10.4" fill="#262626" textLength="33.5" lengthAdjust="spacingAndGlyphs">Preterm</text>
<text x="317.2" y="259.9" font-size="12.7" fill="#262626">=</text>
<text x="327.1" y="259.9" font-size="12.7" fill="#262626">24</text>
</g>
<g id="p2">
<path d="M430.5 61.0V260.0" stroke="#8a8a8a" stroke-width="1" fill="none"/>
<path d="M425.5 61.5H430.9" stroke="#8a8a8a" stroke-width="1"/>
<text x="415.3" y="66.5" font-size="15" text-anchor="end" fill="#262626">10</text>
<path d="M425.5 110.5H430.9" stroke="#8a8a8a" stroke-width="1"/>
<text x="415.3" y="116.0" font-size="15" text-anchor="end" fill="#262626">5</text>
<path d="M425.5 160.5H430.9" stroke="#8a8a8a" stroke-width="1"/>
<text x="415.3" y="165.5" font-size="15" text-anchor="end" fill="#262626">0</text>
<path d="M425.5 209.5H430.9" stroke="#8a8a8a" stroke-width="1"/>
<text x="415.3" y="215.0" font-size="15" text-anchor="end" fill="#262626">-5</text>
<path d="M425.5 259.5H430.9" stroke="#8a8a8a" stroke-width="1"/>
<text x="415.3" y="264.5" font-size="15" text-anchor="end" fill="#262626">-10</text>
<path d="M430.5 160.5H729.1" stroke="#8a8a8a" stroke-width="1"/>
<path d="M430.5 160.5v5" stroke="#8a8a8a" stroke-width="1"/>
<text x="430.6" y="286.8" font-size="15" text-anchor="middle" fill="#262626">0</text>
<path d="M467.5 160.5v5" stroke="#8a8a8a" stroke-width="1"/>
<text x="467.9" y="286.8" font-size="15" text-anchor="middle" fill="#262626">15</text>
<path d="M504.5 160.5v5" stroke="#8a8a8a" stroke-width="1"/>
<text x="505.1" y="286.8" font-size="15" text-anchor="middle" fill="#262626">30</text>
<path d="M541.5 160.5v5" stroke="#8a8a8a" stroke-width="1"/>
<text x="542.4" y="286.8" font-size="15" text-anchor="middle" fill="#262626">45</text>
<path d="M579.5 160.5v5" stroke="#8a8a8a" stroke-width="1"/>
<text x="579.6" y="286.8" font-size="15" text-anchor="middle" fill="#262626">60</text>
<path d="M616.5 160.5v5" stroke="#8a8a8a" stroke-width="1"/>
<text x="616.9" y="286.8" font-size="15" text-anchor="middle" fill="#262626">75</text>
<path d="M653.5 160.5v5" stroke="#8a8a8a" stroke-width="1"/>
<text x="654.2" y="286.8" font-size="15" text-anchor="middle" fill="#262626">90</text>
<path d="M691.5 160.5v5" stroke="#8a8a8a" stroke-width="1"/>
<text x="691.4" y="286.8" font-size="15" text-anchor="middle" fill="#262626">105</text>
<path d="M728.5 160.5v5" stroke="#8a8a8a" stroke-width="1"/>
<text x="728.7" y="286.8" font-size="15" text-anchor="middle" fill="#262626">120</text>
<text x="580.0" y="308.2" font-size="14.2" font-weight="bold" text-anchor="middle" fill="#111" stroke="#111" stroke-width="0.3">Beat</text>
<text transform="translate(398.9 160.7) rotate(-90)" font-size="14" font-weight="bold" text-anchor="middle" fill="#111" stroke="#111" stroke-width="0.3">% Change</text>
<path d="M507.0 64.5V261.6" stroke="#0a0a0a" stroke-width="2" stroke-dasharray="6.1 5.1" fill="none"/>
<path d="M432.6 159.8V164.8M428.7 164.8h7.8M435.6 160.0V165.7M431.7 165.7h7.8M438.1 160.1V165.6M434.2 165.6h7.8M440.5 160.6V167.5M436.6 167.5h7.8M443.0 160.6V166.6M439.1 166.6h7.8M445.5 160.1V166.2M441.6 166.2h7.8M448.0 160.5V166.6M444.1 166.6h7.8M450.5 160.6V166.7M446.6 166.7h7.8M453.0 160.3V166.4M449.1 166.4h7.8M455.4 160.3V166.0M451.5 166.0h7.8M457.9 159.8V166.7M454.0 166.7h7.8M460.4 160.4V167.0M456.5 167.0h7.8M462.9 160.9V166.2M459.0 166.2h7.8M465.4 161.0V167.4M461.5 167.4h7.8M467.9 160.5V166.8M464.0 166.8h7.8M470.3 159.7V166.6M466.4 166.6h7.8M472.8 161.0V166.8M468.9 166.8h7.8M475.3 159.9V166.7M471.4 166.7h7.8M477.8 160.7V166.6M473.9 166.6h7.8M480.3 160.6V166.6M476.4 166.6h7.8M482.8 160.2V166.2M478.9 166.2h7.8M485.2 161.0V166.1M481.3 166.1h7.8M487.7 160.3V165.4M483.8 165.4h7.8M490.2 159.4V165.1M486.3 165.1h7.8M492.7 158.8V165.6M488.8 165.6h7.8M495.2 157.3V163.4M491.3 163.4h7.8M497.7 156.9V162.1M493.8 162.1h7.8M500.2 157.3V163.4M496.3 163.4h7.8M502.6 158.9V165.4M498.7 165.4h7.8M505.1 160.3V165.2M501.2 165.2h7.8M507.6 157.7V164.1M503.7 164.1h7.8M510.1 156.3V161.5M506.2 161.5h7.8M512.6 156.5V162.5M508.7 162.5h7.8M515.1 156.1V161.8M511.2 161.8h7.8M517.5 155.1V162.0M513.6 162.0h7.8M520.0 155.4V162.4M516.1 162.4h7.8M522.5 155.0V162.3M518.6 162.3h7.8M525.0 155.4V162.0M521.1 162.0h7.8M527.5 152.2V158.9M523.6 158.9h7.8M530.0 150.4V157.1M526.1 157.1h7.8M532.4 150.4V157.2M528.5 157.2h7.8M534.9 149.9V155.9M531.0 155.9h7.8M537.4 150.4V157.5M533.5 157.5h7.8M539.9 149.6V156.7M536.0 156.7h7.8M542.4 148.2V156.5M538.5 156.5h7.8M544.9 146.8V153.4M541.0 153.4h7.8M547.3 146.4V155.0M543.4 155.0h7.8M549.8 145.7V153.5M545.9 153.5h7.8M552.3 143.1V151.2M548.4 151.2h7.8M554.8 142.5V150.3M550.9 150.3h7.8M557.3 142.8V150.0M553.4 150.0h7.8M559.8 142.6V149.9M555.9 149.9h7.8M562.3 142.5V149.0M558.4 149.0h7.8M564.7 145.2V152.5M560.8 152.5h7.8M567.2 147.4V155.5M563.3 155.5h7.8M569.7 147.7V156.6M565.8 156.6h7.8M572.2 147.3V155.5M568.3 155.5h7.8M574.7 147.4V154.4M570.8 154.4h7.8M577.2 146.8V155.8M573.3 155.8h7.8M579.6 145.5V154.5M575.7 154.5h7.8M582.1 145.1V154.1M578.2 154.1h7.8M584.6 144.3V152.2M580.7 152.2h7.8M587.1 143.1V150.4M583.2 150.4h7.8M589.6 141.8V150.6M585.7 150.6h7.8M592.1 141.5V149.9M588.2 149.9h7.8M594.5 141.3V149.3M590.6 149.3h7.8M597.0 141.4V148.6M593.1 148.6h7.8M599.5 140.9V149.4M595.6 149.4h7.8M602.0 141.2V149.9M598.1 149.9h7.8M604.5 141.0V149.2M600.6 149.2h7.8M607.0 140.3V148.7M603.1 148.7h7.8M609.4 140.5V149.3M605.5 149.3h7.8M611.9 140.9V150.0M608.0 150.0h7.8M614.4 140.6V148.0M610.5 148.0h7.8M616.9 139.3V148.4M613.0 148.4h7.8M619.4 140.1V148.5M615.5 148.5h7.8M621.9 139.3V146.3M618.0 146.3h7.8M624.4 138.9V147.1M620.5 147.1h7.8M626.8 138.9V147.9M622.9 147.9h7.8M629.3 138.5V145.7M625.4 145.7h7.8M631.8 138.5V147.4M627.9 147.4h7.8M634.3 138.3V145.3M630.4 145.3h7.8M636.8 137.9V144.4M632.9 144.4h7.8M639.3 137.5V146.7M635.4 146.7h7.8M641.7 137.5V146.2M637.8 146.2h7.8M644.2 137.0V144.8M640.3 144.8h7.8M646.7 136.6V144.8M642.8 144.8h7.8M649.2 136.9V145.9M645.3 145.9h7.8M651.7 137.2V144.4M647.8 144.4h7.8M654.2 136.5V144.9M650.3 144.9h7.8M656.6 137.4V145.8M652.7 145.8h7.8M659.1 137.6V144.2M655.2 144.2h7.8M661.6 137.5V145.6M657.7 145.6h7.8M664.1 140.5V147.9M660.2 147.9h7.8M666.6 140.6V148.5M662.7 148.5h7.8M669.1 141.9V148.1M665.2 148.1h7.8M671.5 142.8V150.2M667.6 150.2h7.8M674.0 144.0V152.6M670.1 152.6h7.8M676.5 144.1V152.8M672.6 152.8h7.8M679.0 144.0V150.1M675.1 150.1h7.8M681.5 143.7V150.8M677.6 150.8h7.8M684.0 142.5V149.9M680.1 149.9h7.8M686.5 142.3V151.5M682.6 151.5h7.8M688.9 141.2V150.9M685.0 150.9h7.8M691.4 148.2V157.9M687.5 157.9h7.8M693.9 148.2V156.9M690.0 156.9h7.8M696.4 146.8V156.8M692.5 156.8h7.8M698.9 143.3V151.5M695.0 151.5h7.8M701.4 144.7V154.7M697.5 154.7h7.8M703.8 144.4V151.8M699.9 151.8h7.8M706.3 144.7V152.6M702.4 152.6h7.8M708.8 145.0V154.3M704.9 154.3h7.8M711.3 143.5V151.0M707.4 151.0h7.8M713.8 142.4V149.6M709.9 149.6h7.8M716.3 140.5V147.7M712.4 147.7h7.8M718.7 140.8V147.0M714.8 147.0h7.8M721.2 140.3V146.1M717.3 146.1h7.8M723.7 139.3V145.5M719.8 145.5h7.8M726.2 139.6V146.4M722.3 146.4h7.8M728.7 139.5V145.8M724.8 145.8h7.8" stroke="#0c0c0c" stroke-width="1.2" fill="none"/>
<path d="M432.6 159.2V155.4M428.7 155.4h7.8M435.6 158.6V154.0M431.7 154.0h7.8M438.1 161.0V155.1M434.2 155.1h7.8M440.5 153.7V148.0M436.6 148.0h7.8M443.0 163.1V159.1M439.1 159.1h7.8M445.5 160.0V156.0M441.6 156.0h7.8M448.0 153.7V150.3M444.1 150.3h7.8M450.5 158.6V154.2M446.6 154.2h7.8M453.0 163.1V159.2M449.1 159.2h7.8M455.4 154.0V150.2M451.5 150.2h7.8M457.9 158.6V153.0M454.0 153.0h7.8M460.4 155.4V151.8M456.5 151.8h7.8M462.9 161.7V156.6M459.0 156.6h7.8M465.4 157.5V153.6M461.5 153.6h7.8M467.9 160.0V154.7M464.0 154.7h7.8M470.3 156.8V152.5M466.4 152.5h7.8M472.8 158.3V154.5M468.9 154.5h7.8M475.3 158.9V154.8M471.4 154.8h7.8M477.8 154.4V150.7M473.9 150.7h7.8M480.3 161.0V155.8M476.4 155.8h7.8M482.8 167.0V160.6M478.9 160.6h7.8M485.2 163.1V159.0M481.3 159.0h7.8M487.7 161.0V157.2M483.8 157.2h7.8M490.2 158.6V152.7M486.3 152.7h7.8M492.7 164.6V160.6M488.8 160.6h7.8M495.2 163.9V157.2M491.3 157.2h7.8M497.7 166.2V159.8M493.8 159.8h7.8M500.2 168.3V161.9M496.3 161.9h7.8M502.6 163.9V157.8M498.7 157.8h7.8M505.1 172.2V168.0M501.2 168.0h7.8M507.6 166.6V161.4M503.7 161.4h7.8M510.1 163.1V158.3M506.2 158.3h7.8M512.6 163.1V158.0M508.7 158.0h7.8M515.1 166.9V159.7M511.2 159.7h7.8M517.5 169.9V162.5M513.6 162.5h7.8M520.0 166.6V160.7M516.1 160.7h7.8M522.5 177.1V171.4M518.6 171.4h7.8M525.0 165.2V159.9M521.1 159.9h7.8M527.5 163.3V158.3M523.6 158.3h7.8M530.0 157.8V152.0M526.1 152.0h7.8M532.4 154.4V147.2M528.5 147.2h7.8M534.9 159.4V151.8M531.0 151.8h7.8M537.4 159.4V152.7M533.5 152.7h7.8M539.9 147.9V139.8M536.0 139.8h7.8M542.4 149.6V142.9M538.5 142.9h7.8M544.9 155.3V148.2M541.0 148.2h7.8M547.3 148.9V140.7M543.4 140.7h7.8M549.8 152.2V143.8M545.9 143.8h7.8M552.3 142.3V133.2M548.4 133.2h7.8M554.8 146.8V141.0M550.9 141.0h7.8M557.3 148.9V142.8M553.4 142.8h7.8M559.8 157.3V148.7M555.9 148.7h7.8M562.3 155.3V146.4M558.4 146.4h7.8M564.7 159.4V152.4M560.8 152.4h7.8M567.2 157.3V150.1M563.3 150.1h7.8M569.7 151.0V140.4M565.8 140.4h7.8M572.2 148.9V141.7M568.3 141.7h7.8M574.7 155.3V139.1M570.8 139.1h7.8M577.2 148.9V139.9M573.3 139.9h7.8M579.6 151.0V140.1M575.7 140.1h7.8M582.1 144.0V132.3M578.2 132.3h7.8M584.6 158.7V151.9M580.7 151.9h7.8M587.1 153.9V146.4M583.2 146.4h7.8M589.6 145.6V133.6M585.7 133.6h7.8M592.1 140.8V131.8M588.2 131.8h7.8M594.5 145.5V133.2M590.6 133.2h7.8M597.0 136.6V125.7M593.1 125.7h7.8M599.5 145.5V136.9M595.6 136.9h7.8M602.0 137.6V127.3M598.1 127.3h7.8M604.5 135.6V123.7M600.6 123.7h7.8M607.0 140.5V129.5M603.1 129.5h7.8M609.4 139.1V126.2M605.5 126.2h7.8M611.9 138.5V128.6M608.0 128.6h7.8M614.4 141.9V134.3M610.5 134.3h7.8M616.9 140.9V131.0M613.0 131.0h7.8M619.4 146.1V136.4M615.5 136.4h7.8M621.9 139.5V127.6M618.0 127.6h7.8M624.4 142.5V132.4M620.5 132.4h7.8M626.8 144.3V131.6M622.9 131.6h7.8M629.3 136.2V125.0M625.4 125.0h7.8M631.8 132.8V123.1M627.9 123.1h7.8M634.3 136.2V122.7M630.4 122.7h7.8M636.8 136.9V127.4M632.9 127.4h7.8M639.3 140.5V131.6M635.4 131.6h7.8M641.7 136.9V127.1M637.8 127.1h7.8M644.2 128.1V115.6M640.3 115.6h7.8M646.7 136.9V122.0M642.8 122.0h7.8M649.2 143.3V134.8M645.3 134.8h7.8M651.7 136.2V122.2M647.8 122.2h7.8M654.2 128.1V115.6M650.3 115.6h7.8M656.6 140.5V128.2M652.7 128.2h7.8M659.1 128.1V112.8M655.2 112.8h7.8M661.6 130.3V117.2M657.7 117.2h7.8M664.1 132.3V117.6M660.2 117.6h7.8M666.6 128.9V113.5M662.7 113.5h7.8M669.1 136.2V121.1M665.2 121.1h7.8M671.5 133.5V118.8M667.6 118.8h7.8M674.0 135.6V121.5M670.1 121.5h7.8M676.5 136.2V124.4M672.6 124.4h7.8M679.0 122.2V109.9M675.1 109.9h7.8M681.5 129.6V119.0M677.6 119.0h7.8M684.0 136.9V126.8M680.1 126.8h7.8M686.5 135.6V125.9M682.6 125.9h7.8M688.9 134.2V122.4M685.0 122.4h7.8M691.4 125.7V111.7M687.5 111.7h7.8M693.9 130.6V117.4M690.0 117.4h7.8M696.4 131.3V117.1M692.5 117.1h7.8M698.9 131.3V117.2M695.0 117.2h7.8M701.4 131.3V117.5M697.5 117.5h7.8M703.8 136.2V124.9M699.9 124.9h7.8M706.3 134.2V121.0M702.4 121.0h7.8M708.8 139.8V127.0M704.9 127.0h7.8M711.3 134.2V119.8M707.4 119.8h7.8M713.8 131.3V113.6M709.9 113.6h7.8M716.3 137.6V123.1M712.4 123.1h7.8M718.7 129.6V113.8M714.8 113.8h7.8M721.2 136.2V125.0M717.3 125.0h7.8M723.7 129.6V118.1M719.8 118.1h7.8M726.2 135.6V120.7M722.3 120.7h7.8M728.7 133.5V120.2M724.8 120.2h7.8" stroke="#0c0c0c" stroke-width="1.2" fill="none"/>
<polyline points="432.6,159.8 435.6,160.0 438.1,160.1 440.5,160.6 443.0,160.6 445.5,160.1 448.0,160.5 450.5,160.6 453.0,160.3 455.4,160.3 457.9,159.8 460.4,160.4 462.9,160.9 465.4,161.0 467.9,160.5 470.3,159.7 472.8,161.0 475.3,159.9 477.8,160.7 480.3,160.6 482.8,160.2 485.2,161.0 487.7,160.3 490.2,159.4 492.7,158.8 495.2,157.3 497.7,156.9 500.2,157.3 502.6,158.9 505.1,160.3 507.6,157.7 510.1,156.3 512.6,156.5 515.1,156.1 517.5,155.1 520.0,155.4 522.5,155.0 525.0,155.4 527.5,152.2 530.0,150.4 532.4,150.4 534.9,149.9 537.4,150.4 539.9,149.6 542.4,148.2 544.9,146.8 547.3,146.4 549.8,145.7 552.3,143.1 554.8,142.5 557.3,142.8 559.8,142.6 562.3,142.5 564.7,145.2 567.2,147.4 569.7,147.7 572.2,147.3 574.7,147.4 577.2,146.8 579.6,145.5 582.1,145.1 584.6,144.3 587.1,143.1 589.6,141.8 592.1,141.5 594.5,141.3 597.0,141.4 599.5,140.9 602.0,141.2 604.5,141.0 607.0,140.3 609.4,140.5 611.9,140.9 614.4,140.6 616.9,139.3 619.4,140.1 621.9,139.3 624.4,138.9 626.8,138.9 629.3,138.5 631.8,138.5 634.3,138.3 636.8,137.9 639.3,137.5 641.7,137.5 644.2,137.0 646.7,136.6 649.2,136.9 651.7,137.2 654.2,136.5 656.6,137.4 659.1,137.6 661.6,137.5 664.1,140.5 666.6,140.6 669.1,141.9 671.5,142.8 674.0,144.0 676.5,144.1 679.0,144.0 681.5,143.7 684.0,142.5 686.5,142.3 688.9,141.2 691.4,148.2 693.9,148.2 696.4,146.8 698.9,143.3 701.4,144.7 703.8,144.4 706.3,144.7 708.8,145.0 711.3,143.5 713.8,142.4 716.3,140.5 718.7,140.8 721.2,140.3 723.7,139.3 726.2,139.6 728.7,139.5" stroke="#000" stroke-width="2.2" fill="none" stroke-linejoin="round"/>
<path d="M429.7 159.8L432.6 156.9L435.5 159.8L432.6 162.7ZM432.7 160.0L435.6 157.1L438.5 160.0L435.6 162.9ZM435.2 160.1L438.1 157.2L441.0 160.1L438.1 163.0ZM437.6 160.6L440.5 157.7L443.4 160.6L440.5 163.5ZM440.1 160.6L443.0 157.7L445.9 160.6L443.0 163.5ZM442.6 160.1L445.5 157.2L448.4 160.1L445.5 163.0ZM445.1 160.5L448.0 157.6L450.9 160.5L448.0 163.4ZM447.6 160.6L450.5 157.7L453.4 160.6L450.5 163.5ZM450.1 160.3L453.0 157.4L455.9 160.3L453.0 163.2ZM452.5 160.3L455.4 157.4L458.3 160.3L455.4 163.2ZM455.0 159.8L457.9 156.9L460.8 159.8L457.9 162.7ZM457.5 160.4L460.4 157.5L463.3 160.4L460.4 163.3ZM460.0 160.9L462.9 158.0L465.8 160.9L462.9 163.8ZM462.5 161.0L465.4 158.1L468.3 161.0L465.4 163.9ZM465.0 160.5L467.9 157.6L470.8 160.5L467.9 163.4ZM467.4 159.7L470.3 156.8L473.2 159.7L470.3 162.6ZM469.9 161.0L472.8 158.1L475.7 161.0L472.8 163.9ZM472.4 159.9L475.3 157.0L478.2 159.9L475.3 162.8ZM474.9 160.7L477.8 157.8L480.7 160.7L477.8 163.6ZM477.4 160.6L480.3 157.7L483.2 160.6L480.3 163.5ZM479.9 160.2L482.8 157.3L485.7 160.2L482.8 163.1ZM482.3 161.0L485.2 158.1L488.1 161.0L485.2 163.9ZM484.8 160.3L487.7 157.4L490.6 160.3L487.7 163.2ZM487.3 159.4L490.2 156.5L493.1 159.4L490.2 162.3ZM489.8 158.8L492.7 155.9L495.6 158.8L492.7 161.7ZM492.3 157.3L495.2 154.4L498.1 157.3L495.2 160.2ZM494.8 156.9L497.7 154.0L500.6 156.9L497.7 159.8ZM497.3 157.3L500.2 154.4L503.1 157.3L500.2 160.2ZM499.7 158.9L502.6 156.0L505.5 158.9L502.6 161.8ZM502.2 160.3L505.1 157.4L508.0 160.3L505.1 163.2ZM504.7 157.7L507.6 154.8L510.5 157.7L507.6 160.6ZM507.2 156.3L510.1 153.4L513.0 156.3L510.1 159.2ZM509.7 156.5L512.6 153.6L515.5 156.5L512.6 159.4ZM512.2 156.1L515.1 153.2L518.0 156.1L515.1 159.0ZM514.6 155.1L517.5 152.2L520.4 155.1L517.5 158.0ZM517.1 155.4L520.0 152.5L522.9 155.4L520.0 158.3ZM519.6 155.0L522.5 152.1L525.4 155.0L522.5 157.9ZM522.1 155.4L525.0 152.5L527.9 155.4L525.0 158.3ZM524.6 152.2L527.5 149.3L530.4 152.2L527.5 155.1ZM527.1 150.4L530.0 147.5L532.9 150.4L530.0 153.3ZM529.5 150.4L532.4 147.5L535.3 150.4L532.4 153.3ZM532.0 149.9L534.9 147.0L537.8 149.9L534.9 152.8ZM534.5 150.4L537.4 147.5L540.3 150.4L537.4 153.3ZM537.0 149.6L539.9 146.7L542.8 149.6L539.9 152.5ZM539.5 148.2L542.4 145.3L545.3 148.2L542.4 151.1ZM542.0 146.8L544.9 143.9L547.8 146.8L544.9 149.7ZM544.4 146.4L547.3 143.5L550.2 146.4L547.3 149.3ZM546.9 145.7L549.8 142.8L552.7 145.7L549.8 148.6ZM549.4 143.1L552.3 140.2L555.2 143.1L552.3 146.0ZM551.9 142.5L554.8 139.6L557.7 142.5L554.8 145.4ZM554.4 142.8L557.3 139.9L560.2 142.8L557.3 145.7ZM556.9 142.6L559.8 139.7L562.7 142.6L559.8 145.5ZM559.4 142.5L562.3 139.6L565.2 142.5L562.3 145.4ZM561.8 145.2L564.7 142.3L567.6 145.2L564.7 148.1ZM564.3 147.4L567.2 144.5L570.1 147.4L567.2 150.3ZM566.8 147.7L569.7 144.8L572.6 147.7L569.7 150.6ZM569.3 147.3L572.2 144.4L575.1 147.3L572.2 150.2ZM571.8 147.4L574.7 144.5L577.6 147.4L574.7 150.3ZM574.3 146.8L577.2 143.9L580.1 146.8L577.2 149.7ZM576.7 145.5L579.6 142.6L582.5 145.5L579.6 148.4ZM579.2 145.1L582.1 142.2L585.0 145.1L582.1 148.0ZM581.7 144.3L584.6 141.4L587.5 144.3L584.6 147.2ZM584.2 143.1L587.1 140.2L590.0 143.1L587.1 146.0ZM586.7 141.8L589.6 138.9L592.5 141.8L589.6 144.7ZM589.2 141.5L592.1 138.6L595.0 141.5L592.1 144.4ZM591.6 141.3L594.5 138.4L597.4 141.3L594.5 144.2ZM594.1 141.4L597.0 138.5L599.9 141.4L597.0 144.3ZM596.6 140.9L599.5 138.0L602.4 140.9L599.5 143.8ZM599.1 141.2L602.0 138.3L604.9 141.2L602.0 144.1ZM601.6 141.0L604.5 138.1L607.4 141.0L604.5 143.9ZM604.1 140.3L607.0 137.4L609.9 140.3L607.0 143.2ZM606.5 140.5L609.4 137.6L612.3 140.5L609.4 143.4ZM609.0 140.9L611.9 138.0L614.8 140.9L611.9 143.8ZM611.5 140.6L614.4 137.7L617.3 140.6L614.4 143.5ZM614.0 139.3L616.9 136.4L619.8 139.3L616.9 142.2ZM616.5 140.1L619.4 137.2L622.3 140.1L619.4 143.0ZM619.0 139.3L621.9 136.4L624.8 139.3L621.9 142.2ZM621.5 138.9L624.4 136.0L627.3 138.9L624.4 141.8ZM623.9 138.9L626.8 136.0L629.7 138.9L626.8 141.8ZM626.4 138.5L629.3 135.6L632.2 138.5L629.3 141.4ZM628.9 138.5L631.8 135.6L634.7 138.5L631.8 141.4ZM631.4 138.3L634.3 135.4L637.2 138.3L634.3 141.2ZM633.9 137.9L636.8 135.0L639.7 137.9L636.8 140.8ZM636.4 137.5L639.3 134.6L642.2 137.5L639.3 140.4ZM638.8 137.5L641.7 134.6L644.6 137.5L641.7 140.4ZM641.3 137.0L644.2 134.1L647.1 137.0L644.2 139.9ZM643.8 136.6L646.7 133.7L649.6 136.6L646.7 139.5ZM646.3 136.9L649.2 134.0L652.1 136.9L649.2 139.8ZM648.8 137.2L651.7 134.3L654.6 137.2L651.7 140.1ZM651.3 136.5L654.2 133.6L657.1 136.5L654.2 139.4ZM653.7 137.4L656.6 134.5L659.5 137.4L656.6 140.3ZM656.2 137.6L659.1 134.7L662.0 137.6L659.1 140.5ZM658.7 137.5L661.6 134.6L664.5 137.5L661.6 140.4ZM661.2 140.5L664.1 137.6L667.0 140.5L664.1 143.4ZM663.7 140.6L666.6 137.7L669.5 140.6L666.6 143.5ZM666.2 141.9L669.1 139.0L672.0 141.9L669.1 144.8ZM668.6 142.8L671.5 139.9L674.4 142.8L671.5 145.7ZM671.1 144.0L674.0 141.1L676.9 144.0L674.0 146.9ZM673.6 144.1L676.5 141.2L679.4 144.1L676.5 147.0ZM676.1 144.0L679.0 141.1L681.9 144.0L679.0 146.9ZM678.6 143.7L681.5 140.8L684.4 143.7L681.5 146.6ZM681.1 142.5L684.0 139.6L686.9 142.5L684.0 145.4ZM683.6 142.3L686.5 139.4L689.4 142.3L686.5 145.2ZM686.0 141.2L688.9 138.3L691.8 141.2L688.9 144.1ZM688.5 148.2L691.4 145.3L694.3 148.2L691.4 151.1ZM691.0 148.2L693.9 145.3L696.8 148.2L693.9 151.1ZM693.5 146.8L696.4 143.9L699.3 146.8L696.4 149.7ZM696.0 143.3L698.9 140.4L701.8 143.3L698.9 146.2ZM698.5 144.7L701.4 141.8L704.3 144.7L701.4 147.6ZM700.9 144.4L703.8 141.5L706.7 144.4L703.8 147.3ZM703.4 144.7L706.3 141.8L709.2 144.7L706.3 147.6ZM705.9 145.0L708.8 142.1L711.7 145.0L708.8 147.9ZM708.4 143.5L711.3 140.6L714.2 143.5L711.3 146.4ZM710.9 142.4L713.8 139.5L716.7 142.4L713.8 145.3ZM713.4 140.5L716.3 137.6L719.2 140.5L716.3 143.4ZM715.8 140.8L718.7 137.9L721.6 140.8L718.7 143.7ZM718.3 140.3L721.2 137.4L724.1 140.3L721.2 143.2ZM720.8 139.3L723.7 136.4L726.6 139.3L723.7 142.2ZM723.3 139.6L726.2 136.7L729.1 139.6L726.2 142.5ZM725.8 139.5L728.7 136.6L731.6 139.5L728.7 142.4Z" fill="#000"/>
<polyline points="432.6,159.2 435.6,158.6 438.1,161.0 440.5,153.7 443.0,163.1 445.5,160.0 448.0,153.7 450.5,158.6 453.0,163.1 455.4,154.0 457.9,158.6 460.4,155.4 462.9,161.7 465.4,157.5 467.9,160.0 470.3,156.8 472.8,158.3 475.3,158.9 477.8,154.4 480.3,161.0 482.8,167.0 485.2,163.1 487.7,161.0 490.2,158.6 492.7,164.6 495.2,163.9 497.7,166.2 500.2,168.3 502.6,163.9 505.1,172.2 507.6,166.6 510.1,163.1 512.6,163.1 515.1,166.9 517.5,169.9 520.0,166.6 522.5,177.1 525.0,165.2 527.5,163.3 530.0,157.8 532.4,154.4 534.9,159.4 537.4,159.4 539.9,147.9 542.4,149.6 544.9,155.3 547.3,148.9 549.8,152.2 552.3,142.3 554.8,146.8 557.3,148.9 559.8,157.3 562.3,155.3 564.7,159.4 567.2,157.3 569.7,151.0 572.2,148.9 574.7,155.3 577.2,148.9 579.6,151.0 582.1,144.0 584.6,158.7 587.1,153.9 589.6,145.6 592.1,140.8 594.5,145.5 597.0,136.6 599.5,145.5 602.0,137.6 604.5,135.6 607.0,140.5 609.4,139.1 611.9,138.5 614.4,141.9 616.9,140.9 619.4,146.1 621.9,139.5 624.4,142.5 626.8,144.3 629.3,136.2 631.8,132.8 634.3,136.2 636.8,136.9 639.3,140.5 641.7,136.9 644.2,128.1 646.7,136.9 649.2,143.3 651.7,136.2 654.2,128.1 656.6,140.5 659.1,128.1 661.6,130.3 664.1,132.3 666.6,128.9 669.1,136.2 671.5,133.5 674.0,135.6 676.5,136.2 679.0,122.2 681.5,129.6 684.0,136.9 686.5,135.6 688.9,134.2 691.4,125.7 693.9,130.6 696.4,131.3 698.9,131.3 701.4,131.3 703.8,136.2 706.3,134.2 708.8,139.8 711.3,134.2 713.8,131.3 716.3,137.6 718.7,129.6 721.2,136.2 723.7,129.6 726.2,135.6 728.7,133.5" stroke="#000" stroke-width="1.2" fill="none"/>
<circle cx="432.6" cy="159.2" r="2.5" fill="#fff" stroke="#000" stroke-width="1.9"/>
<circle cx="435.6" cy="158.6" r="2.5" fill="#fff" stroke="#000" stroke-width="1.9"/>
<circle cx="438.1" cy="161.0" r="2.5" fill="#fff" stroke="#000" stroke-width="1.9"/>
<circle cx="440.5" cy="153.7" r="2.5" fill="#fff" stroke="#000" stroke-width="1.9"/>
<circle cx="443.0" cy="163.1" r="2.5" fill="#fff" stroke="#000" stroke-width="1.9"/>
<circle cx="445.5" cy="160.0" r="2.5" fill="#fff" stroke="#000" stroke-width="1.9"/>
<circle cx="448.0" cy="153.7" r="2.5" fill="#fff" stroke="#000" stroke-width="1.9"/>
<circle cx="450.5" cy="158.6" r="2.5" fill="#fff" stroke="#000" stroke-width="1.9"/>
<circle cx="453.0" cy="163.1" r="2.5" fill="#fff" stroke="#000" stroke-width="1.9"/>
<circle cx="455.4" cy="154.0" r="2.5" fill="#fff" stroke="#000" stroke-width="1.9"/>
<circle cx="457.9" cy="158.6" r="2.5" fill="#fff" stroke="#000" stroke-width="1.9"/>
<circle cx="460.4" cy="155.4" r="2.5" fill="#fff" stroke="#000" stroke-width="1.9"/>
<circle cx="462.9" cy="161.7" r="2.5" fill="#fff" stroke="#000" stroke-width="1.9"/>
<circle cx="465.4" cy="157.5" r="2.5" fill="#fff" stroke="#000" stroke-width="1.9"/>
<circle cx="467.9" cy="160.0" r="2.5" fill="#fff" stroke="#000" stroke-width="1.9"/>
<circle cx="470.3" cy="156.8" r="2.5" fill="#fff" stroke="#000" stroke-width="1.9"/>
<circle cx="472.8" cy="158.3" r="2.5" fill="#fff" stroke="#000" stroke-width="1.9"/>
<circle cx="475.3" cy="158.9" r="2.5" fill="#fff" stroke="#000" stroke-width="1.9"/>
<circle cx="477.8" cy="154.4" r="2.5" fill="#fff" stroke="#000" stroke-width="1.9"/>
<circle cx="480.3" cy="161.0" r="2.5" fill="#fff" stroke="#000" stroke-width="1.9"/>
<circle cx="482.8" cy="167.0" r="2.5" fill="#fff" stroke="#000" stroke-width="1.9"/>
<circle cx="485.2" cy="163.1" r="2.5" fill="#fff" stroke="#000" stroke-width="1.9"/>
<circle cx="487.7" cy="161.0" r="2.5" fill="#fff" stroke="#000" stroke-width="1.9"/>
<circle cx="490.2" cy="158.6" r="2.5" fill="#fff" stroke="#000" stroke-width="1.9"/>
<circle cx="492.7" cy="164.6" r="2.5" fill="#fff" stroke="#000" stroke-width="1.9"/>
<circle cx="495.2" cy="163.9" r="2.5" fill="#fff" stroke="#000" stroke-width="1.9"/>
<circle cx="497.7" cy="166.2" r="2.5" fill="#fff" stroke="#000" stroke-width="1.9"/>
<circle cx="500.2" cy="168.3" r="2.5" fill="#fff" stroke="#000" stroke-width="1.9"/>
<circle cx="502.6" cy="163.9" r="2.5" fill="#fff" stroke="#000" stroke-width="1.9"/>
<circle cx="505.1" cy="172.2" r="2.5" fill="#fff" stroke="#000" stroke-width="1.9"/>
<circle cx="507.6" cy="166.6" r="2.5" fill="#fff" stroke="#000" stroke-width="1.9"/>
<circle cx="510.1" cy="163.1" r="2.5" fill="#fff" stroke="#000" stroke-width="1.9"/>
<circle cx="512.6" cy="163.1" r="2.5" fill="#fff" stroke="#000" stroke-width="1.9"/>
<circle cx="515.1" cy="166.9" r="2.5" fill="#fff" stroke="#000" stroke-width="1.9"/>
<circle cx="517.5" cy="169.9" r="2.5" fill="#fff" stroke="#000" stroke-width="1.9"/>
<circle cx="520.0" cy="166.6" r="2.5" fill="#fff" stroke="#000" stroke-width="1.9"/>
<circle cx="522.5" cy="177.1" r="2.5" fill="#fff" stroke="#000" stroke-width="1.9"/>
<circle cx="525.0" cy="165.2" r="2.5" fill="#fff" stroke="#000" stroke-width="1.9"/>
<circle cx="527.5" cy="163.3" r="2.5" fill="#fff" stroke="#000" stroke-width="1.9"/>
<circle cx="530.0" cy="157.8" r="2.5" fill="#fff" stroke="#000" stroke-width="1.9"/>
<circle cx="532.4" cy="154.4" r="2.5" fill="#fff" stroke="#000" stroke-width="1.9"/>
<circle cx="534.9" cy="159.4" r="2.5" fill="#fff" stroke="#000" stroke-width="1.9"/>
<circle cx="537.4" cy="159.4" r="2.5" fill="#fff" stroke="#000" stroke-width="1.9"/>
<circle cx="539.9" cy="147.9" r="2.5" fill="#fff" stroke="#000" stroke-width="1.9"/>
<circle cx="542.4" cy="149.6" r="2.5" fill="#fff" stroke="#000" stroke-width="1.9"/>
<circle cx="544.9" cy="155.3" r="2.5" fill="#fff" stroke="#000" stroke-width="1.9"/>
<circle cx="547.3" cy="148.9" r="2.5" fill="#fff" stroke="#000" stroke-width="1.9"/>
<circle cx="549.8" cy="152.2" r="2.5" fill="#fff" stroke="#000" stroke-width="1.9"/>
<circle cx="552.3" cy="142.3" r="2.5" fill="#fff" stroke="#000" stroke-width="1.9"/>
<circle cx="554.8" cy="146.8" r="2.5" fill="#fff" stroke="#000" stroke-width="1.9"/>
<circle cx="557.3" cy="148.9" r="2.5" fill="#fff" stroke="#000" stroke-width="1.9"/>
<circle cx="559.8" cy="157.3" r="2.5" fill="#fff" stroke="#000" stroke-width="1.9"/>
<circle cx="562.3" cy="155.3" r="2.5" fill="#fff" stroke="#000" stroke-width="1.9"/>
<circle cx="564.7" cy="159.4" r="2.5" fill="#fff" stroke="#000" stroke-width="1.9"/>
<circle cx="567.2" cy="157.3" r="2.5" fill="#fff" stroke="#000" stroke-width="1.9"/>
<circle cx="569.7" cy="151.0" r="2.5" fill="#fff" stroke="#000" stroke-width="1.9"/>
<circle cx="572.2" cy="148.9" r="2.5" fill="#fff" stroke="#000" stroke-width="1.9"/>
<circle cx="574.7" cy="155.3" r="2.5" fill="#fff" stroke="#000" stroke-width="1.9"/>
<circle cx="577.2" cy="148.9" r="2.5" fill="#fff" stroke="#000" stroke-width="1.9"/>
<circle cx="579.6" cy="151.0" r="2.5" fill="#fff" stroke="#000" stroke-width="1.9"/>
<circle cx="582.1" cy="144.0" r="2.5" fill="#fff" stroke="#000" stroke-width="1.9"/>
<circle cx="584.6" cy="158.7" r="2.5" fill="#fff" stroke="#000" stroke-width="1.9"/>
<circle cx="587.1" cy="153.9" r="2.5" fill="#fff" stroke="#000" stroke-width="1.9"/>
<circle cx="589.6" cy="145.6" r="2.5" fill="#fff" stroke="#000" stroke-width="1.9"/>
<circle cx="592.1" cy="140.8" r="2.5" fill="#fff" stroke="#000" stroke-width="1.9"/>
<circle cx="594.5" cy="145.5" r="2.5" fill="#fff" stroke="#000" stroke-width="1.9"/>
<circle cx="597.0" cy="136.6" r="2.5" fill="#fff" stroke="#000" stroke-width="1.9"/>
<circle cx="599.5" cy="145.5" r="2.5" fill="#fff" stroke="#000" stroke-width="1.9"/>
<circle cx="602.0" cy="137.6" r="2.5" fill="#fff" stroke="#000" stroke-width="1.9"/>
<circle cx="604.5" cy="135.6" r="2.5" fill="#fff" stroke="#000" stroke-width="1.9"/>
<circle cx="607.0" cy="140.5" r="2.5" fill="#fff" stroke="#000" stroke-width="1.9"/>
<circle cx="609.4" cy="139.1" r="2.5" fill="#fff" stroke="#000" stroke-width="1.9"/>
<circle cx="611.9" cy="138.5" r="2.5" fill="#fff" stroke="#000" stroke-width="1.9"/>
<circle cx="614.4" cy="141.9" r="2.5" fill="#fff" stroke="#000" stroke-width="1.9"/>
<circle cx="616.9" cy="140.9" r="2.5" fill="#fff" stroke="#000" stroke-width="1.9"/>
<circle cx="619.4" cy="146.1" r="2.5" fill="#fff" stroke="#000" stroke-width="1.9"/>
<circle cx="621.9" cy="139.5" r="2.5" fill="#fff" stroke="#000" stroke-width="1.9"/>
<circle cx="624.4" cy="142.5" r="2.5" fill="#fff" stroke="#000" stroke-width="1.9"/>
<circle cx="626.8" cy="144.3" r="2.5" fill="#fff" stroke="#000" stroke-width="1.9"/>
<circle cx="629.3" cy="136.2" r="2.5" fill="#fff" stroke="#000" stroke-width="1.9"/>
<circle cx="631.8" cy="132.8" r="2.5" fill="#fff" stroke="#000" stroke-width="1.9"/>
<circle cx="634.3" cy="136.2" r="2.5" fill="#fff" stroke="#000" stroke-width="1.9"/>
<circle cx="636.8" cy="136.9" r="2.5" fill="#fff" stroke="#000" stroke-width="1.9"/>
<circle cx="639.3" cy="140.5" r="2.5" fill="#fff" stroke="#000" stroke-width="1.9"/>
<circle cx="641.7" cy="136.9" r="2.5" fill="#fff" stroke="#000" stroke-width="1.9"/>
<circle cx="644.2" cy="128.1" r="2.5" fill="#fff" stroke="#000" stroke-width="1.9"/>
<circle cx="646.7" cy="136.9" r="2.5" fill="#fff" stroke="#000" stroke-width="1.9"/>
<circle cx="649.2" cy="143.3" r="2.5" fill="#fff" stroke="#000" stroke-width="1.9"/>
<circle cx="651.7" cy="136.2" r="2.5" fill="#fff" stroke="#000" stroke-width="1.9"/>
<circle cx="654.2" cy="128.1" r="2.5" fill="#fff" stroke="#000" stroke-width="1.9"/>
<circle cx="656.6" cy="140.5" r="2.5" fill="#fff" stroke="#000" stroke-width="1.9"/>
<circle cx="659.1" cy="128.1" r="2.5" fill="#fff" stroke="#000" stroke-width="1.9"/>
<circle cx="661.6" cy="130.3" r="2.5" fill="#fff" stroke="#000" stroke-width="1.9"/>
<circle cx="664.1" cy="132.3" r="2.5" fill="#fff" stroke="#000" stroke-width="1.9"/>
<circle cx="666.6" cy="128.9" r="2.5" fill="#fff" stroke="#000" stroke-width="1.9"/>
<circle cx="669.1" cy="136.2" r="2.5" fill="#fff" stroke="#000" stroke-width="1.9"/>
<circle cx="671.5" cy="133.5" r="2.5" fill="#fff" stroke="#000" stroke-width="1.9"/>
<circle cx="674.0" cy="135.6" r="2.5" fill="#fff" stroke="#000" stroke-width="1.9"/>
<circle cx="676.5" cy="136.2" r="2.5" fill="#fff" stroke="#000" stroke-width="1.9"/>
<circle cx="679.0" cy="122.2" r="2.5" fill="#fff" stroke="#000" stroke-width="1.9"/>
<circle cx="681.5" cy="129.6" r="2.5" fill="#fff" stroke="#000" stroke-width="1.9"/>
<circle cx="684.0" cy="136.9" r="2.5" fill="#fff" stroke="#000" stroke-width="1.9"/>
<circle cx="686.5" cy="135.6" r="2.5" fill="#fff" stroke="#000" stroke-width="1.9"/>
<circle cx="688.9" cy="134.2" r="2.5" fill="#fff" stroke="#000" stroke-width="1.9"/>
<circle cx="691.4" cy="125.7" r="2.5" fill="#fff" stroke="#000" stroke-width="1.9"/>
<circle cx="693.9" cy="130.6" r="2.5" fill="#fff" stroke="#000" stroke-width="1.9"/>
<circle cx="696.4" cy="131.3" r="2.5" fill="#fff" stroke="#000" stroke-width="1.9"/>
<circle cx="698.9" cy="131.3" r="2.5" fill="#fff" stroke="#000" stroke-width="1.9"/>
<circle cx="701.4" cy="131.3" r="2.5" fill="#fff" stroke="#000" stroke-width="1.9"/>
<circle cx="703.8" cy="136.2" r="2.5" fill="#fff" stroke="#000" stroke-width="1.9"/>
<circle cx="706.3" cy="134.2" r="2.5" fill="#fff" stroke="#000" stroke-width="1.9"/>
<circle cx="708.8" cy="139.8" r="2.5" fill="#fff" stroke="#000" stroke-width="1.9"/>
<circle cx="711.3" cy="134.2" r="2.5" fill="#fff" stroke="#000" stroke-width="1.9"/>
<circle cx="713.8" cy="131.3" r="2.5" fill="#fff" stroke="#000" stroke-width="1.9"/>
<circle cx="716.3" cy="137.6" r="2.5" fill="#fff" stroke="#000" stroke-width="1.9"/>
<circle cx="718.7" cy="129.6" r="2.5" fill="#fff" stroke="#000" stroke-width="1.9"/>
<circle cx="721.2" cy="136.2" r="2.5" fill="#fff" stroke="#000" stroke-width="1.9"/>
<circle cx="723.7" cy="129.6" r="2.5" fill="#fff" stroke="#000" stroke-width="1.9"/>
<circle cx="726.2" cy="135.6" r="2.5" fill="#fff" stroke="#000" stroke-width="1.9"/>
<circle cx="728.7" cy="133.5" r="2.5" fill="#fff" stroke="#000" stroke-width="1.9"/>
<text x="657.3" y="247.7" font-size="12.7" fill="#262626">N</text>
<text x="666.9" y="250.7" font-size="10.4" fill="#262626" textLength="21" lengthAdjust="spacingAndGlyphs">Term</text>
<text x="690.6" y="247.7" font-size="12.7" fill="#262626">=</text>
<text x="701.9" y="247.7" font-size="12.7" fill="#262626">13</text>
<text x="657.3" y="266.3" font-size="12.7" fill="#262626">N</text>
<text x="666.9" y="269.3" font-size="10.4" fill="#262626" textLength="33.5" lengthAdjust="spacingAndGlyphs">Preterm</text>
<text x="701.0" y="266.3" font-size="12.7" fill="#262626">=</text>
<text x="710.9" y="266.3" font-size="12.7" fill="#262626">23</text>
</g>
<g id="p3">
<path d="M49.5 383.0V591.0" stroke="#8a8a8a" stroke-width="1" fill="none"/>
<path d="M44.5 383.5H49.9" stroke="#8a8a8a" stroke-width="1"/>
<text x="34.5" y="388.6" font-size="15" text-anchor="end" fill="#262626">10</text>
<path d="M44.5 435.5H49.9" stroke="#8a8a8a" stroke-width="1"/>
<text x="34.5" y="440.2" font-size="15" text-anchor="end" fill="#262626">5</text>
<path d="M44.5 486.5H49.9" stroke="#8a8a8a" stroke-width="1"/>
<text x="34.5" y="491.9" font-size="15" text-anchor="end" fill="#262626">0</text>
<path d="M44.5 538.5H49.9" stroke="#8a8a8a" stroke-width="1"/>
<text x="34.5" y="543.6" font-size="15" text-anchor="end" fill="#262626">-5</text>
<path d="M44.5 590.5H49.9" stroke="#8a8a8a" stroke-width="1"/>
<text x="34.5" y="595.2" font-size="15" text-anchor="end" fill="#262626">-10</text>
<path d="M49.5 486.5H333.3" stroke="#8a8a8a" stroke-width="1"/>
<path d="M49.5 486.5v5" stroke="#8a8a8a" stroke-width="1"/>
<text x="49.4" y="617.0" font-size="15" text-anchor="middle" fill="#262626">0</text>
<path d="M84.5 486.5v5" stroke="#8a8a8a" stroke-width="1"/>
<text x="84.8" y="617.0" font-size="15" text-anchor="middle" fill="#262626">15</text>
<path d="M119.5 486.5v5" stroke="#8a8a8a" stroke-width="1"/>
<text x="120.3" y="617.0" font-size="15" text-anchor="middle" fill="#262626">30</text>
<path d="M155.5 486.5v5" stroke="#8a8a8a" stroke-width="1"/>
<text x="155.7" y="617.0" font-size="15" text-anchor="middle" fill="#262626">45</text>
<path d="M190.5 486.5v5" stroke="#8a8a8a" stroke-width="1"/>
<text x="191.2" y="617.0" font-size="15" text-anchor="middle" fill="#262626">60</text>
<path d="M226.5 486.5v5" stroke="#8a8a8a" stroke-width="1"/>
<text x="226.6" y="617.0" font-size="15" text-anchor="middle" fill="#262626">75</text>
<path d="M261.5 486.5v5" stroke="#8a8a8a" stroke-width="1"/>
<text x="262.0" y="617.0" font-size="15" text-anchor="middle" fill="#262626">90</text>
<path d="M297.5 486.5v5" stroke="#8a8a8a" stroke-width="1"/>
<text x="297.5" y="617.0" font-size="15" text-anchor="middle" fill="#262626">105</text>
<path d="M332.5 486.5v5" stroke="#8a8a8a" stroke-width="1"/>
<text x="332.9" y="617.0" font-size="15" text-anchor="middle" fill="#262626">120</text>
<text x="192.0" y="641.6" font-size="14.2" font-weight="bold" text-anchor="middle" fill="#111" stroke="#111" stroke-width="0.3">Beat</text>
<text transform="translate(12.5 486.6) rotate(-90)" font-size="14" font-weight="bold" text-anchor="middle" fill="#111" stroke="#111" stroke-width="0.3">% Change</text>
<path d="M123.0 392.0V589.6" stroke="#0a0a0a" stroke-width="2" stroke-dasharray="6.1 5.1" fill="none"/>
<path d="M51.3 497.4V508.5M47.4 508.5h7.8M54.1 496.9V507.4M50.2 507.4h7.8M56.5 497.0V510.0M52.6 510.0h7.8M58.8 497.4V509.2M54.9 509.2h7.8M61.2 497.0V510.1M57.3 510.1h7.8M63.6 494.9V507.0M59.7 507.0h7.8M65.9 493.9V503.7M62.0 503.7h7.8M68.3 492.6V505.4M64.4 505.4h7.8M70.7 492.0V501.5M66.8 501.5h7.8M73.0 490.8V501.3M69.1 501.3h7.8M75.4 489.0V501.3M71.5 501.3h7.8M77.8 488.2V499.9M73.8 499.9h7.8M80.1 481.8V491.4M76.2 491.4h7.8M82.5 479.1V488.3M78.6 488.3h7.8M84.8 477.0V486.7M80.9 486.7h7.8M87.2 478.4V489.1M83.3 489.1h7.8M89.6 476.7V487.1M85.7 487.1h7.8M91.9 479.8V489.0M88.0 489.0h7.8M94.3 480.0V488.6M90.4 488.6h7.8M96.7 480.5V489.5M92.8 489.5h7.8M99.0 481.7V492.5M95.1 492.5h7.8M101.4 483.3V494.7M97.5 494.7h7.8M103.7 483.8V493.0M99.8 493.0h7.8M106.1 484.0V493.1M102.2 493.1h7.8M108.5 485.3V494.1M104.6 494.1h7.8M110.8 487.5V499.7M106.9 499.7h7.8M113.2 488.1V496.8M109.3 496.8h7.8M115.5 488.2V499.7M111.6 499.7h7.8M117.9 488.8V498.7M114.0 498.7h7.8M120.3 490.4V501.7M116.4 501.7h7.8M122.6 491.4V503.2M118.7 503.2h7.8M125.0 491.1V501.9M121.1 501.9h7.8M127.4 491.3V500.8M123.5 500.8h7.8M129.7 491.6V502.3M125.8 502.3h7.8M132.1 492.1V504.3M128.2 504.3h7.8M134.4 492.5V505.9M130.5 505.9h7.8M136.8 492.1V502.3M132.9 502.3h7.8M139.2 492.5V505.2M135.3 505.2h7.8M141.5 493.3V504.9M137.6 504.9h7.8M143.9 493.9V505.7M140.0 505.7h7.8M146.3 494.3V507.4M142.4 507.4h7.8M148.6 496.0V506.3M144.7 506.3h7.8M151.0 497.2V507.3M147.1 507.3h7.8M153.3 497.4V508.3M149.4 508.3h7.8M155.7 498.1V509.6M151.8 509.6h7.8M158.1 497.2V508.2M154.2 508.2h7.8M160.4 497.5V508.7M156.5 508.7h7.8M162.8 498.1V509.2M158.9 509.2h7.8M165.2 498.3V510.2M161.3 510.2h7.8M167.5 497.4V508.0M163.6 508.0h7.8M169.9 497.8V509.1M166.0 509.1h7.8M172.2 496.7V508.3M168.3 508.3h7.8M174.6 497.1V508.5M170.7 508.5h7.8M177.0 496.7V509.1M173.1 509.1h7.8M179.3 498.9V510.6M175.4 510.6h7.8M181.7 501.0V510.2M177.8 510.2h7.8M184.1 498.9V510.0M180.2 510.0h7.8M186.4 502.4V513.1M182.5 513.1h7.8M188.8 504.5V516.8M184.9 516.8h7.8M191.2 505.9V515.7M187.2 515.7h7.8M193.5 504.3V513.1M189.6 513.1h7.8M195.9 505.9V518.2M192.0 518.2h7.8M198.2 507.4V520.1M194.3 520.1h7.8M200.6 507.1V519.7M196.7 519.7h7.8M203.0 508.1V520.6M199.1 520.6h7.8M205.3 507.5V518.1M201.4 518.1h7.8M207.7 507.4V519.9M203.8 519.9h7.8M210.0 505.9V518.0M206.1 518.0h7.8M212.4 506.6V518.8M208.5 518.8h7.8M214.8 505.9V514.9M210.9 514.9h7.8M217.1 504.5V514.5M213.2 514.5h7.8M219.5 505.9V516.6M215.6 516.6h7.8M221.9 504.5V516.2M218.0 516.2h7.8M224.2 505.9V517.9M220.3 517.9h7.8M226.6 504.5V514.4M222.7 514.4h7.8M228.9 503.1V514.0M225.0 514.0h7.8M231.3 501.0V513.3M227.4 513.3h7.8M233.7 498.9V510.0M229.8 510.0h7.8M236.0 498.1V510.0M232.1 510.0h7.8M238.4 499.6V509.9M234.5 509.9h7.8M240.8 501.0V513.0M236.9 513.0h7.8M243.1 500.6V514.0M239.2 514.0h7.8M245.5 501.0V513.5M241.6 513.5h7.8M247.8 502.5V513.7M243.9 513.7h7.8M250.2 503.1V515.4M246.3 515.4h7.8M252.6 504.3V517.9M248.7 517.9h7.8M254.9 505.9V517.5M251.0 517.5h7.8M257.3 506.9V518.3M253.4 518.3h7.8M259.7 507.4V517.1M255.8 517.1h7.8M262.0 508.7V521.7M258.1 521.7h7.8M264.4 508.7V519.8M260.5 519.8h7.8M266.8 507.4V519.3M262.9 519.3h7.8M269.1 508.7V521.3M265.2 521.3h7.8M271.5 508.1V517.9M267.6 517.9h7.8M273.8 506.6V520.3M269.9 520.3h7.8M276.2 506.6V520.8M272.3 520.8h7.8M278.6 506.6V519.2M274.7 519.2h7.8M280.9 504.5V515.0M277.0 515.0h7.8M283.3 503.1V515.4M279.4 515.4h7.8M285.6 501.7V512.0M281.8 512.0h7.8M288.0 501.7V513.4M284.1 513.4h7.8M290.4 500.2V511.3M286.5 511.3h7.8M292.7 498.2V512.8M288.8 512.8h7.8M295.1 497.4V509.5M291.2 509.5h7.8M297.5 497.9V512.0M293.6 512.0h7.8M299.8 499.6V512.5M295.9 512.5h7.8M302.2 497.4V510.9M298.3 510.9h7.8M304.5 497.5V510.0M300.6 510.0h7.8M306.9 497.5V509.6M303.0 509.6h7.8M309.3 498.1V511.4M305.4 511.4h7.8M311.6 498.1V510.3M307.7 510.3h7.8M314.0 498.4V513.9M310.1 513.9h7.8M316.4 497.7V508.8M312.5 508.8h7.8M318.7 498.1V511.6M314.8 511.6h7.8M321.1 496.6V510.0M317.2 510.0h7.8M323.4 496.0V510.3M319.5 510.3h7.8M325.8 495.9V507.5M321.9 507.5h7.8M328.2 495.1V508.9M324.3 508.9h7.8M330.5 493.9V506.7M326.6 506.7h7.8M332.9 491.0V503.7M329.0 503.7h7.8" stroke="#0c0c0c" stroke-width="1.2" fill="none"/>
<path d="M51.3 487.9V481.2M47.4 481.2h7.8M54.1 492.1V484.0M50.2 484.0h7.8M56.5 484.4V478.7M52.6 478.7h7.8M58.8 499.3V493.1M54.9 493.1h7.8M61.2 492.1V485.4M57.3 485.4h7.8M63.6 491.0V485.2M59.7 485.2h7.8M65.9 488.6V483.1M62.0 483.1h7.8M68.3 484.0V479.4M64.4 479.4h7.8M70.7 494.3V488.7M66.8 488.7h7.8M73.0 487.2V481.2M69.1 481.2h7.8M75.4 496.0V490.3M71.5 490.3h7.8M77.8 502.7V496.2M73.8 496.2h7.8M80.1 497.4V490.9M76.2 490.9h7.8M82.5 488.6V479.8M78.6 479.8h7.8M84.8 483.3V472.6M80.9 472.6h7.8M87.2 491.0V484.1M83.3 484.1h7.8M89.6 491.6V483.6M85.7 483.6h7.8M91.9 482.4V472.8M88.0 472.8h7.8M94.3 480.5V473.8M90.4 473.8h7.8M96.7 478.4V468.1M92.8 468.1h7.8M99.0 477.6V468.1M95.1 468.1h7.8M101.4 479.5V471.2M97.5 471.2h7.8M103.7 482.6V473.1M99.8 473.1h7.8M106.1 483.7V473.9M102.2 473.9h7.8M108.5 482.1V475.1M104.6 475.1h7.8M110.8 480.5V472.3M106.9 472.3h7.8M113.2 483.7V476.6M109.3 476.6h7.8M115.5 479.4V471.2M111.6 471.2h7.8M117.9 480.1V473.5M114.0 473.5h7.8M120.3 482.4V471.3M116.4 471.3h7.8M122.6 472.8V468.1M118.7 468.1h7.8M125.0 476.4V469.8M121.1 469.8h7.8M127.4 478.3V467.5M123.5 467.5h7.8M129.7 481.8V471.2M125.8 471.2h7.8M132.1 485.2V477.0M128.2 477.0h7.8M134.4 479.1V472.4M130.5 472.4h7.8M136.8 481.8V475.0M132.9 475.0h7.8M139.2 483.3V475.0M135.3 475.0h7.8M141.5 479.8V471.6M137.6 471.6h7.8M143.9 491.9V485.1M140.0 485.1h7.8M146.3 493.9V483.4M142.4 483.4h7.8M148.6 493.6V481.2M144.7 481.2h7.8M151.0 489.7V480.8M147.1 480.8h7.8M153.3 497.4V490.3M149.4 490.3h7.8M155.7 494.7V484.4M151.8 484.4h7.8M158.1 491.0V479.3M154.2 479.3h7.8M160.4 499.6V487.4M156.5 487.4h7.8M162.8 492.5V482.1M158.9 482.1h7.8M165.2 481.2V469.4M161.3 469.4h7.8M167.5 488.6V478.8M163.6 478.8h7.8M169.9 494.3V485.0M166.0 485.0h7.8M172.2 488.6V480.9M168.3 480.9h7.8M174.6 492.5V481.7M170.7 481.7h7.8M177.0 491.8V479.5M173.1 479.5h7.8M179.3 487.5V475.0M175.4 475.0h7.8M181.7 474.8V461.4M177.8 461.4h7.8M184.1 491.8V479.8M180.2 479.8h7.8M186.4 482.4V468.1M182.5 468.1h7.8M188.8 489.4V479.7M184.9 479.7h7.8M191.2 482.9V471.6M187.2 471.6h7.8M193.5 487.9V479.5M189.6 479.5h7.8M195.9 491.8V482.3M192.0 482.3h7.8M198.2 492.5V476.4M194.3 476.4h7.8M200.6 487.1V475.8M196.7 475.8h7.8M203.0 489.4V477.7M199.1 477.7h7.8M205.3 493.2V481.7M201.4 481.7h7.8M207.7 503.3V495.3M203.8 495.3h7.8M210.0 487.8V479.5M206.1 479.5h7.8M212.4 495.3V487.3M208.5 487.3h7.8M214.8 499.3V490.0M210.9 490.0h7.8M217.1 498.5V489.2M213.2 489.2h7.8M219.5 491.8V480.5M215.6 480.5h7.8M221.9 492.2V479.8M218.0 479.8h7.8M224.2 491.9V479.5M220.3 479.5h7.8M226.6 492.1V480.1M222.7 480.1h7.8M228.9 506.3V498.4M225.0 498.4h7.8M231.3 492.9V480.1M227.4 480.1h7.8M233.7 490.4V482.9M229.8 482.9h7.8M236.0 487.1V479.6M232.1 479.6h7.8M238.4 491.8V481.6M234.5 481.6h7.8M240.8 491.8V483.1M236.9 483.1h7.8M243.1 479.8V467.8M239.2 467.8h7.8M245.5 490.4V481.2M241.6 481.2h7.8M247.8 495.3V487.2M243.9 487.2h7.8M250.2 487.1V478.2M246.3 478.2h7.8M252.6 477.9V466.8M248.7 466.8h7.8M254.9 496.4V485.8M251.0 485.8h7.8M257.3 490.4V478.5M253.4 478.5h7.8M259.7 494.7V480.5M255.8 480.5h7.8M262.0 484.0V473.4M258.1 473.4h7.8M264.4 493.9V478.4M260.5 478.4h7.8M266.8 492.9V481.2M262.9 481.2h7.8M269.1 492.1V479.8M265.2 479.8h7.8M271.5 486.6V472.4M267.6 472.4h7.8M273.8 487.9V474.5M269.9 474.5h7.8M276.2 503.8V491.5M272.3 491.5h7.8M278.6 500.6V487.0M274.7 487.0h7.8M280.9 496.0V479.5M277.0 479.5h7.8M283.3 487.9V478.3M279.4 478.3h7.8M285.6 487.1V471.6M281.8 471.6h7.8M288.0 495.3V478.8M284.1 478.8h7.8M290.4 492.5V476.5M286.5 476.5h7.8M292.7 485.2V471.3M288.8 471.3h7.8M295.1 482.9V471.9M291.2 471.9h7.8M297.5 480.1V468.1M293.6 468.1h7.8M299.8 506.6V492.8M295.9 492.8h7.8M302.2 496.7V481.3M298.3 481.3h7.8M304.5 496.7V478.3M300.6 478.3h7.8M306.9 504.5V487.0M303.0 487.0h7.8M309.3 498.6V480.1M305.4 480.1h7.8M311.6 494.7V476.5M307.7 476.5h7.8M314.0 496.7V484.6M310.1 484.6h7.8M316.4 506.6V491.0M312.5 491.0h7.8M318.7 495.3V478.4M314.8 478.4h7.8M321.1 500.2V487.4M317.2 487.4h7.8M323.4 505.5V491.9M319.5 491.9h7.8M325.8 495.3V481.2M321.9 481.2h7.8M328.2 500.6V485.5M324.3 485.5h7.8M330.5 495.3V479.6M326.6 479.6h7.8M332.9 488.6V473.4M329.0 473.4h7.8" stroke="#0c0c0c" stroke-width="1.2" fill="none"/>
<polyline points="51.3,497.4 54.1,496.9 56.5,497.0 58.8,497.4 61.2,497.0 63.6,494.9 65.9,493.9 68.3,492.6 70.7,492.0 73.0,490.8 75.4,489.0 77.8,488.2 80.1,481.8 82.5,479.1 84.8,477.0 87.2,478.4 89.6,476.7 91.9,479.8 94.3,480.0 96.7,480.5 99.0,481.7 101.4,483.3 103.7,483.8 106.1,484.0 108.5,485.3 110.8,487.5 113.2,488.1 115.5,488.2 117.9,488.8 120.3,490.4 122.6,491.4 125.0,491.1 127.4,491.3 129.7,491.6 132.1,492.1 134.4,492.5 136.8,492.1 139.2,492.5 141.5,493.3 143.9,493.9 146.3,494.3 148.6,496.0 151.0,497.2 153.3,497.4 155.7,498.1 158.1,497.2 160.4,497.5 162.8,498.1 165.2,498.3 167.5,497.4 169.9,497.8 172.2,496.7 174.6,497.1 177.0,496.7 179.3,498.9 181.7,501.0 184.1,498.9 186.4,502.4 188.8,504.5 191.2,505.9 193.5,504.3 195.9,505.9 198.2,507.4 200.6,507.1 203.0,508.1 205.3,507.5 207.7,507.4 210.0,505.9 212.4,506.6 214.8,505.9 217.1,504.5 219.5,505.9 221.9,504.5 224.2,505.9 226.6,504.5 228.9,503.1 231.3,501.0 233.7,498.9 236.0,498.1 238.4,499.6 240.8,501.0 243.1,500.6 245.5,501.0 247.8,502.5 250.2,503.1 252.6,504.3 254.9,505.9 257.3,506.9 259.7,507.4 262.0,508.7 264.4,508.7 266.8,507.4 269.1,508.7 271.5,508.1 273.8,506.6 276.2,506.6 278.6,506.6 280.9,504.5 283.3,503.1 285.6,501.7 288.0,501.7 290.4,500.2 292.7,498.2 295.1,497.4 297.5,497.9 299.8,499.6 302.2,497.4 304.5,497.5 306.9,497.5 309.3,498.1 311.6,498.1 314.0,498.4 316.4,497.7 318.7,498.1 321.1,496.6 323.4,496.0 325.8,495.9 328.2,495.1 330.5,493.9 332.9,491.0" stroke="#000" stroke-width="2.2" fill="none" stroke-linejoin="round"/>
<path d="M48.4 497.4L51.3 494.5L54.2 497.4L51.3 500.3ZM51.2 496.9L54.1 494.0L57.0 496.9L54.1 499.8ZM53.6 497.0L56.5 494.1L59.4 497.0L56.5 499.9ZM55.9 497.4L58.8 494.5L61.7 497.4L58.8 500.3ZM58.3 497.0L61.2 494.1L64.1 497.0L61.2 499.9ZM60.7 494.9L63.6 492.0L66.5 494.9L63.6 497.8ZM63.0 493.9L65.9 491.0L68.8 493.9L65.9 496.8ZM65.4 492.6L68.3 489.7L71.2 492.6L68.3 495.5ZM67.8 492.0L70.7 489.1L73.6 492.0L70.7 494.9ZM70.1 490.8L73.0 487.9L75.9 490.8L73.0 493.7ZM72.5 489.0L75.4 486.1L78.3 489.0L75.4 491.9ZM74.8 488.2L77.8 485.3L80.7 488.2L77.8 491.1ZM77.2 481.8L80.1 478.9L83.0 481.8L80.1 484.7ZM79.6 479.1L82.5 476.2L85.4 479.1L82.5 482.0ZM81.9 477.0L84.8 474.1L87.7 477.0L84.8 479.9ZM84.3 478.4L87.2 475.5L90.1 478.4L87.2 481.3ZM86.7 476.7L89.6 473.8L92.5 476.7L89.6 479.6ZM89.0 479.8L91.9 476.9L94.8 479.8L91.9 482.7ZM91.4 480.0L94.3 477.1L97.2 480.0L94.3 482.9ZM93.8 480.5L96.7 477.6L99.6 480.5L96.7 483.4ZM96.1 481.7L99.0 478.8L101.9 481.7L99.0 484.6ZM98.5 483.3L101.4 480.4L104.3 483.3L101.4 486.2ZM100.8 483.8L103.7 480.9L106.6 483.8L103.7 486.7ZM103.2 484.0L106.1 481.1L109.0 484.0L106.1 486.9ZM105.6 485.3L108.5 482.4L111.4 485.3L108.5 488.2ZM107.9 487.5L110.8 484.6L113.7 487.5L110.8 490.4ZM110.3 488.1L113.2 485.2L116.1 488.1L113.2 491.0ZM112.6 488.2L115.5 485.3L118.4 488.2L115.5 491.1ZM115.0 488.8L117.9 485.9L120.8 488.8L117.9 491.7ZM117.4 490.4L120.3 487.5L123.2 490.4L120.3 493.3ZM119.7 491.4L122.6 488.5L125.5 491.4L122.6 494.3ZM122.1 491.1L125.0 488.2L127.9 491.1L125.0 494.0ZM124.5 491.3L127.4 488.4L130.3 491.3L127.4 494.2ZM126.8 491.6L129.7 488.7L132.6 491.6L129.7 494.5ZM129.2 492.1L132.1 489.2L135.0 492.1L132.1 495.0ZM131.5 492.5L134.4 489.6L137.3 492.5L134.4 495.4ZM133.9 492.1L136.8 489.2L139.7 492.1L136.8 495.0ZM136.3 492.5L139.2 489.6L142.1 492.5L139.2 495.4ZM138.6 493.3L141.5 490.4L144.4 493.3L141.5 496.2ZM141.0 493.9L143.9 491.0L146.8 493.9L143.9 496.8ZM143.4 494.3L146.3 491.4L149.2 494.3L146.3 497.2ZM145.7 496.0L148.6 493.1L151.5 496.0L148.6 498.9ZM148.1 497.2L151.0 494.3L153.9 497.2L151.0 500.1ZM150.4 497.4L153.3 494.5L156.2 497.4L153.3 500.3ZM152.8 498.1L155.7 495.2L158.6 498.1L155.7 501.0ZM155.2 497.2L158.1 494.3L161.0 497.2L158.1 500.1ZM157.5 497.5L160.4 494.6L163.3 497.5L160.4 500.4ZM159.9 498.1L162.8 495.2L165.7 498.1L162.8 501.0ZM162.3 498.3L165.2 495.4L168.1 498.3L165.2 501.2ZM164.6 497.4L167.5 494.5L170.4 497.4L167.5 500.3ZM167.0 497.8L169.9 494.9L172.8 497.8L169.9 500.7ZM169.3 496.7L172.2 493.8L175.2 496.7L172.2 499.6ZM171.7 497.1L174.6 494.2L177.5 497.1L174.6 500.0ZM174.1 496.7L177.0 493.8L179.9 496.7L177.0 499.6ZM176.4 498.9L179.3 496.0L182.2 498.9L179.3 501.8ZM178.8 501.0L181.7 498.1L184.6 501.0L181.7 503.9ZM181.2 498.9L184.1 496.0L187.0 498.9L184.1 501.8ZM183.5 502.4L186.4 499.5L189.3 502.4L186.4 505.3ZM185.9 504.5L188.8 501.6L191.7 504.5L188.8 507.4ZM188.2 505.9L191.2 503.0L194.1 505.9L191.2 508.8ZM190.6 504.3L193.5 501.4L196.4 504.3L193.5 507.2ZM193.0 505.9L195.9 503.0L198.8 505.9L195.9 508.8ZM195.3 507.4L198.2 504.5L201.1 507.4L198.2 510.3ZM197.7 507.1L200.6 504.2L203.5 507.1L200.6 510.0ZM200.1 508.1L203.0 505.2L205.9 508.1L203.0 511.0ZM202.4 507.5L205.3 504.6L208.2 507.5L205.3 510.4ZM204.8 507.4L207.7 504.5L210.6 507.4L207.7 510.3ZM207.1 505.9L210.0 503.0L212.9 505.9L210.0 508.8ZM209.5 506.6L212.4 503.7L215.3 506.6L212.4 509.5ZM211.9 505.9L214.8 503.0L217.7 505.9L214.8 508.8ZM214.2 504.5L217.1 501.6L220.0 504.5L217.1 507.4ZM216.6 505.9L219.5 503.0L222.4 505.9L219.5 508.8ZM219.0 504.5L221.9 501.6L224.8 504.5L221.9 507.4ZM221.3 505.9L224.2 503.0L227.1 505.9L224.2 508.8ZM223.7 504.5L226.6 501.6L229.5 504.5L226.6 507.4ZM226.0 503.1L228.9 500.2L231.8 503.1L228.9 506.0ZM228.4 501.0L231.3 498.1L234.2 501.0L231.3 503.9ZM230.8 498.9L233.7 496.0L236.6 498.9L233.7 501.8ZM233.1 498.1L236.0 495.2L238.9 498.1L236.0 501.0ZM235.5 499.6L238.4 496.7L241.3 499.6L238.4 502.5ZM237.9 501.0L240.8 498.1L243.7 501.0L240.8 503.9ZM240.2 500.6L243.1 497.7L246.0 500.6L243.1 503.5ZM242.6 501.0L245.5 498.1L248.4 501.0L245.5 503.9ZM244.9 502.5L247.8 499.6L250.8 502.5L247.8 505.4ZM247.3 503.1L250.2 500.2L253.1 503.1L250.2 506.0ZM249.7 504.3L252.6 501.4L255.5 504.3L252.6 507.2ZM252.0 505.9L254.9 503.0L257.8 505.9L254.9 508.8ZM254.4 506.9L257.3 504.0L260.2 506.9L257.3 509.8ZM256.8 507.4L259.7 504.5L262.6 507.4L259.7 510.3ZM259.1 508.7L262.0 505.8L264.9 508.7L262.0 511.6ZM261.5 508.7L264.4 505.8L267.3 508.7L264.4 511.6ZM263.9 507.4L266.8 504.5L269.6 507.4L266.8 510.3ZM266.2 508.7L269.1 505.8L272.0 508.7L269.1 511.6ZM268.6 508.1L271.5 505.2L274.4 508.1L271.5 511.0ZM270.9 506.6L273.8 503.7L276.7 506.6L273.8 509.5ZM273.3 506.6L276.2 503.7L279.1 506.6L276.2 509.5ZM275.7 506.6L278.6 503.7L281.5 506.6L278.6 509.5ZM278.0 504.5L280.9 501.6L283.8 504.5L280.9 507.4ZM280.4 503.1L283.3 500.2L286.2 503.1L283.3 506.0ZM282.8 501.7L285.6 498.8L288.5 501.7L285.6 504.6ZM285.1 501.7L288.0 498.8L290.9 501.7L288.0 504.6ZM287.5 500.2L290.4 497.3L293.3 500.2L290.4 503.1ZM289.8 498.2L292.7 495.3L295.6 498.2L292.7 501.1ZM292.2 497.4L295.1 494.5L298.0 497.4L295.1 500.3ZM294.6 497.9L297.5 495.0L300.4 497.9L297.5 500.8ZM296.9 499.6L299.8 496.7L302.7 499.6L299.8 502.5ZM299.3 497.4L302.2 494.5L305.1 497.4L302.2 500.3ZM301.6 497.5L304.5 494.6L307.4 497.5L304.5 500.4ZM304.0 497.5L306.9 494.6L309.8 497.5L306.9 500.4ZM306.4 498.1L309.3 495.2L312.2 498.1L309.3 501.0ZM308.7 498.1L311.6 495.2L314.5 498.1L311.6 501.0ZM311.1 498.4L314.0 495.5L316.9 498.4L314.0 501.3ZM313.5 497.7L316.4 494.8L319.3 497.7L316.4 500.6ZM315.8 498.1L318.7 495.2L321.6 498.1L318.7 501.0ZM318.2 496.6L321.1 493.7L324.0 496.6L321.1 499.5ZM320.5 496.0L323.4 493.1L326.3 496.0L323.4 498.9ZM322.9 495.9L325.8 493.0L328.7 495.9L325.8 498.8ZM325.3 495.1L328.2 492.2L331.1 495.1L328.2 498.0ZM327.6 493.9L330.5 491.0L333.4 493.9L330.5 496.8ZM330.0 491.0L332.9 488.1L335.8 491.0L332.9 493.9Z" fill="#000"/>
<polyline points="51.3,487.9 54.1,492.1 56.5,484.4 58.8,499.3 61.2,492.1 63.6,491.0 65.9,488.6 68.3,484.0 70.7,494.3 73.0,487.2 75.4,496.0 77.8,502.7 80.1,497.4 82.5,488.6 84.8,483.3 87.2,491.0 89.6,491.6 91.9,482.4 94.3,480.5 96.7,478.4 99.0,477.6 101.4,479.5 103.7,482.6 106.1,483.7 108.5,482.1 110.8,480.5 113.2,483.7 115.5,479.4 117.9,480.1 120.3,482.4 122.6,472.8 125.0,476.4 127.4,478.3 129.7,481.8 132.1,485.2 134.4,479.1 136.8,481.8 139.2,483.3 141.5,479.8 143.9,491.9 146.3,493.9 148.6,493.6 151.0,489.7 153.3,497.4 155.7,494.7 158.1,491.0 160.4,499.6 162.8,492.5 165.2,481.2 167.5,488.6 169.9,494.3 172.2,488.6 174.6,492.5 177.0,491.8 179.3,487.5 181.7,474.8 184.1,491.8 186.4,482.4 188.8,489.4 191.2,482.9 193.5,487.9 195.9,491.8 198.2,492.5 200.6,487.1 203.0,489.4 205.3,493.2 207.7,503.3 210.0,487.8 212.4,495.3 214.8,499.3 217.1,498.5 219.5,491.8 221.9,492.2 224.2,491.9 226.6,492.1 228.9,506.3 231.3,492.9 233.7,490.4 236.0,487.1 238.4,491.8 240.8,491.8 243.1,479.8 245.5,490.4 247.8,495.3 250.2,487.1 252.6,477.9 254.9,496.4 257.3,490.4 259.7,494.7 262.0,484.0 264.4,493.9 266.8,492.9 269.1,492.1 271.5,486.6 273.8,487.9 276.2,503.8 278.6,500.6 280.9,496.0 283.3,487.9 285.6,487.1 288.0,495.3 290.4,492.5 292.7,485.2 295.1,482.9 297.5,480.1 299.8,506.6 302.2,496.7 304.5,496.7 306.9,504.5 309.3,498.6 311.6,494.7 314.0,496.7 316.4,506.6 318.7,495.3 321.1,500.2 323.4,505.5 325.8,495.3 328.2,500.6 330.5,495.3 332.9,488.6" stroke="#000" stroke-width="1.2" fill="none"/>
<circle cx="51.3" cy="487.9" r="2.5" fill="#fff" stroke="#000" stroke-width="1.9"/>
<circle cx="54.1" cy="492.1" r="2.5" fill="#fff" stroke="#000" stroke-width="1.9"/>
<circle cx="56.5" cy="484.4" r="2.5" fill="#fff" stroke="#000" stroke-width="1.9"/>
<circle cx="58.8" cy="499.3" r="2.5" fill="#fff" stroke="#000" stroke-width="1.9"/>
<circle cx="61.2" cy="492.1" r="2.5" fill="#fff" stroke="#000" stroke-width="1.9"/>
<circle cx="63.6" cy="491.0" r="2.5" fill="#fff" stroke="#000" stroke-width="1.9"/>
<circle cx="65.9" cy="488.6" r="2.5" fill="#fff" stroke="#000" stroke-width="1.9"/>
<circle cx="68.3" cy="484.0" r="2.5" fill="#fff" stroke="#000" stroke-width="1.9"/>
<circle cx="70.7" cy="494.3" r="2.5" fill="#fff" stroke="#000" stroke-width="1.9"/>
<circle cx="73.0" cy="487.2" r="2.5" fill="#fff" stroke="#000" stroke-width="1.9"/>
<circle cx="75.4" cy="496.0" r="2.5" fill="#fff" stroke="#000" stroke-width="1.9"/>
<circle cx="77.8" cy="502.7" r="2.5" fill="#fff" stroke="#000" stroke-width="1.9"/>
<circle cx="80.1" cy="497.4" r="2.5" fill="#fff" stroke="#000" stroke-width="1.9"/>
<circle cx="82.5" cy="488.6" r="2.5" fill="#fff" stroke="#000" stroke-width="1.9"/>
<circle cx="84.8" cy="483.3" r="2.5" fill="#fff" stroke="#000" stroke-width="1.9"/>
<circle cx="87.2" cy="491.0" r="2.5" fill="#fff" stroke="#000" stroke-width="1.9"/>
<circle cx="89.6" cy="491.6" r="2.5" fill="#fff" stroke="#000" stroke-width="1.9"/>
<circle cx="91.9" cy="482.4" r="2.5" fill="#fff" stroke="#000" stroke-width="1.9"/>
<circle cx="94.3" cy="480.5" r="2.5" fill="#fff" stroke="#000" stroke-width="1.9"/>
<circle cx="96.7" cy="478.4" r="2.5" fill="#fff" stroke="#000" stroke-width="1.9"/>
<circle cx="99.0" cy="477.6" r="2.5" fill="#fff" stroke="#000" stroke-width="1.9"/>
<circle cx="101.4" cy="479.5" r="2.5" fill="#fff" stroke="#000" stroke-width="1.9"/>
<circle cx="103.7" cy="482.6" r="2.5" fill="#fff" stroke="#000" stroke-width="1.9"/>
<circle cx="106.1" cy="483.7" r="2.5" fill="#fff" stroke="#000" stroke-width="1.9"/>
<circle cx="108.5" cy="482.1" r="2.5" fill="#fff" stroke="#000" stroke-width="1.9"/>
<circle cx="110.8" cy="480.5" r="2.5" fill="#fff" stroke="#000" stroke-width="1.9"/>
<circle cx="113.2" cy="483.7" r="2.5" fill="#fff" stroke="#000" stroke-width="1.9"/>
<circle cx="115.5" cy="479.4" r="2.5" fill="#fff" stroke="#000" stroke-width="1.9"/>
<circle cx="117.9" cy="480.1" r="2.5" fill="#fff" stroke="#000" stroke-width="1.9"/>
<circle cx="120.3" cy="482.4" r="2.5" fill="#fff" stroke="#000" stroke-width="1.9"/>
<circle cx="122.6" cy="472.8" r="2.5" fill="#fff" stroke="#000" stroke-width="1.9"/>
<circle cx="125.0" cy="476.4" r="2.5" fill="#fff" stroke="#000" stroke-width="1.9"/>
<circle cx="127.4" cy="478.3" r="2.5" fill="#fff" stroke="#000" stroke-width="1.9"/>
<circle cx="129.7" cy="481.8" r="2.5" fill="#fff" stroke="#000" stroke-width="1.9"/>
<circle cx="132.1" cy="485.2" r="2.5" fill="#fff" stroke="#000" stroke-width="1.9"/>
<circle cx="134.4" cy="479.1" r="2.5" fill="#fff" stroke="#000" stroke-width="1.9"/>
<circle cx="136.8" cy="481.8" r="2.5" fill="#fff" stroke="#000" stroke-width="1.9"/>
<circle cx="139.2" cy="483.3" r="2.5" fill="#fff" stroke="#000" stroke-width="1.9"/>
<circle cx="141.5" cy="479.8" r="2.5" fill="#fff" stroke="#000" stroke-width="1.9"/>
<circle cx="143.9" cy="491.9" r="2.5" fill="#fff" stroke="#000" stroke-width="1.9"/>
<circle cx="146.3" cy="493.9" r="2.5" fill="#fff" stroke="#000" stroke-width="1.9"/>
<circle cx="148.6" cy="493.6" r="2.5" fill="#fff" stroke="#000" stroke-width="1.9"/>
<circle cx="151.0" cy="489.7" r="2.5" fill="#fff" stroke="#000" stroke-width="1.9"/>
<circle cx="153.3" cy="497.4" r="2.5" fill="#fff" stroke="#000" stroke-width="1.9"/>
<circle cx="155.7" cy="494.7" r="2.5" fill="#fff" stroke="#000" stroke-width="1.9"/>
<circle cx="158.1" cy="491.0" r="2.5" fill="#fff" stroke="#000" stroke-width="1.9"/>
<circle cx="160.4" cy="499.6" r="2.5" fill="#fff" stroke="#000" stroke-width="1.9"/>
<circle cx="162.8" cy="492.5" r="2.5" fill="#fff" stroke="#000" stroke-width="1.9"/>
<circle cx="165.2" cy="481.2" r="2.5" fill="#fff" stroke="#000" stroke-width="1.9"/>
<circle cx="167.5" cy="488.6" r="2.5" fill="#fff" stroke="#000" stroke-width="1.9"/>
<circle cx="169.9" cy="494.3" r="2.5" fill="#fff" stroke="#000" stroke-width="1.9"/>
<circle cx="172.2" cy="488.6" r="2.5" fill="#fff" stroke="#000" stroke-width="1.9"/>
<circle cx="174.6" cy="492.5" r="2.5" fill="#fff" stroke="#000" stroke-width="1.9"/>
<circle cx="177.0" cy="491.8" r="2.5" fill="#fff" stroke="#000" stroke-width="1.9"/>
<circle cx="179.3" cy="487.5" r="2.5" fill="#fff" stroke="#000" stroke-width="1.9"/>
<circle cx="181.7" cy="474.8" r="2.5" fill="#fff" stroke="#000" stroke-width="1.9"/>
<circle cx="184.1" cy="491.8" r="2.5" fill="#fff" stroke="#000" stroke-width="1.9"/>
<circle cx="186.4" cy="482.4" r="2.5" fill="#fff" stroke="#000" stroke-width="1.9"/>
<circle cx="188.8" cy="489.4" r="2.5" fill="#fff" stroke="#000" stroke-width="1.9"/>
<circle cx="191.2" cy="482.9" r="2.5" fill="#fff" stroke="#000" stroke-width="1.9"/>
<circle cx="193.5" cy="487.9" r="2.5" fill="#fff" stroke="#000" stroke-width="1.9"/>
<circle cx="195.9" cy="491.8" r="2.5" fill="#fff" stroke="#000" stroke-width="1.9"/>
<circle cx="198.2" cy="492.5" r="2.5" fill="#fff" stroke="#000" stroke-width="1.9"/>
<circle cx="200.6" cy="487.1" r="2.5" fill="#fff" stroke="#000" stroke-width="1.9"/>
<circle cx="203.0" cy="489.4" r="2.5" fill="#fff" stroke="#000" stroke-width="1.9"/>
<circle cx="205.3" cy="493.2" r="2.5" fill="#fff" stroke="#000" stroke-width="1.9"/>
<circle cx="207.7" cy="503.3" r="2.5" fill="#fff" stroke="#000" stroke-width="1.9"/>
<circle cx="210.0" cy="487.8" r="2.5" fill="#fff" stroke="#000" stroke-width="1.9"/>
<circle cx="212.4" cy="495.3" r="2.5" fill="#fff" stroke="#000" stroke-width="1.9"/>
<circle cx="214.8" cy="499.3" r="2.5" fill="#fff" stroke="#000" stroke-width="1.9"/>
<circle cx="217.1" cy="498.5" r="2.5" fill="#fff" stroke="#000" stroke-width="1.9"/>
<circle cx="219.5" cy="491.8" r="2.5" fill="#fff" stroke="#000" stroke-width="1.9"/>
<circle cx="221.9" cy="492.2" r="2.5" fill="#fff" stroke="#000" stroke-width="1.9"/>
<circle cx="224.2" cy="491.9" r="2.5" fill="#fff" stroke="#000" stroke-width="1.9"/>
<circle cx="226.6" cy="492.1" r="2.5" fill="#fff" stroke="#000" stroke-width="1.9"/>
<circle cx="228.9" cy="506.3" r="2.5" fill="#fff" stroke="#000" stroke-width="1.9"/>
<circle cx="231.3" cy="492.9" r="2.5" fill="#fff" stroke="#000" stroke-width="1.9"/>
<circle cx="233.7" cy="490.4" r="2.5" fill="#fff" stroke="#000" stroke-width="1.9"/>
<circle cx="236.0" cy="487.1" r="2.5" fill="#fff" stroke="#000" stroke-width="1.9"/>
<circle cx="238.4" cy="491.8" r="2.5" fill="#fff" stroke="#000" stroke-width="1.9"/>
<circle cx="240.8" cy="491.8" r="2.5" fill="#fff" stroke="#000" stroke-width="1.9"/>
<circle cx="243.1" cy="479.8" r="2.5" fill="#fff" stroke="#000" stroke-width="1.9"/>
<circle cx="245.5" cy="490.4" r="2.5" fill="#fff" stroke="#000" stroke-width="1.9"/>
<circle cx="247.8" cy="495.3" r="2.5" fill="#fff" stroke="#000" stroke-width="1.9"/>
<circle cx="250.2" cy="487.1" r="2.5" fill="#fff" stroke="#000" stroke-width="1.9"/>
<circle cx="252.6" cy="477.9" r="2.5" fill="#fff" stroke="#000" stroke-width="1.9"/>
<circle cx="254.9" cy="496.4" r="2.5" fill="#fff" stroke="#000" stroke-width="1.9"/>
<circle cx="257.3" cy="490.4" r="2.5" fill="#fff" stroke="#000" stroke-width="1.9"/>
<circle cx="259.7" cy="494.7" r="2.5" fill="#fff" stroke="#000" stroke-width="1.9"/>
<circle cx="262.0" cy="484.0" r="2.5" fill="#fff" stroke="#000" stroke-width="1.9"/>
<circle cx="264.4" cy="493.9" r="2.5" fill="#fff" stroke="#000" stroke-width="1.9"/>
<circle cx="266.8" cy="492.9" r="2.5" fill="#fff" stroke="#000" stroke-width="1.9"/>
<circle cx="269.1" cy="492.1" r="2.5" fill="#fff" stroke="#000" stroke-width="1.9"/>
<circle cx="271.5" cy="486.6" r="2.5" fill="#fff" stroke="#000" stroke-width="1.9"/>
<circle cx="273.8" cy="487.9" r="2.5" fill="#fff" stroke="#000" stroke-width="1.9"/>
<circle cx="276.2" cy="503.8" r="2.5" fill="#fff" stroke="#000" stroke-width="1.9"/>
<circle cx="278.6" cy="500.6" r="2.5" fill="#fff" stroke="#000" stroke-width="1.9"/>
<circle cx="280.9" cy="496.0" r="2.5" fill="#fff" stroke="#000" stroke-width="1.9"/>
<circle cx="283.3" cy="487.9" r="2.5" fill="#fff" stroke="#000" stroke-width="1.9"/>
<circle cx="285.6" cy="487.1" r="2.5" fill="#fff" stroke="#000" stroke-width="1.9"/>
<circle cx="288.0" cy="495.3" r="2.5" fill="#fff" stroke="#000" stroke-width="1.9"/>
<circle cx="290.4" cy="492.5" r="2.5" fill="#fff" stroke="#000" stroke-width="1.9"/>
<circle cx="292.7" cy="485.2" r="2.5" fill="#fff" stroke="#000" stroke-width="1.9"/>
<circle cx="295.1" cy="482.9" r="2.5" fill="#fff" stroke="#000" stroke-width="1.9"/>
<circle cx="297.5" cy="480.1" r="2.5" fill="#fff" stroke="#000" stroke-width="1.9"/>
<circle cx="299.8" cy="506.6" r="2.5" fill="#fff" stroke="#000" stroke-width="1.9"/>
<circle cx="302.2" cy="496.7" r="2.5" fill="#fff" stroke="#000" stroke-width="1.9"/>
<circle cx="304.5" cy="496.7" r="2.5" fill="#fff" stroke="#000" stroke-width="1.9"/>
<circle cx="306.9" cy="504.5" r="2.5" fill="#fff" stroke="#000" stroke-width="1.9"/>
<circle cx="309.3" cy="498.6" r="2.5" fill="#fff" stroke="#000" stroke-width="1.9"/>
<circle cx="311.6" cy="494.7" r="2.5" fill="#fff" stroke="#000" stroke-width="1.9"/>
<circle cx="314.0" cy="496.7" r="2.5" fill="#fff" stroke="#000" stroke-width="1.9"/>
<circle cx="316.4" cy="506.6" r="2.5" fill="#fff" stroke="#000" stroke-width="1.9"/>
<circle cx="318.7" cy="495.3" r="2.5" fill="#fff" stroke="#000" stroke-width="1.9"/>
<circle cx="321.1" cy="500.2" r="2.5" fill="#fff" stroke="#000" stroke-width="1.9"/>
<circle cx="323.4" cy="505.5" r="2.5" fill="#fff" stroke="#000" stroke-width="1.9"/>
<circle cx="325.8" cy="495.3" r="2.5" fill="#fff" stroke="#000" stroke-width="1.9"/>
<circle cx="328.2" cy="500.6" r="2.5" fill="#fff" stroke="#000" stroke-width="1.9"/>
<circle cx="330.5" cy="495.3" r="2.5" fill="#fff" stroke="#000" stroke-width="1.9"/>
<circle cx="332.9" cy="488.6" r="2.5" fill="#fff" stroke="#000" stroke-width="1.9"/>
<rect x="193.2" y="390.4" width="72.4" height="202.9" fill="#b2b2b2" fill-opacity="0.57"/>
<path d="M229.20 404.20L229.20 413.20M225.30 406.45L233.10 410.95M233.10 406.45L225.30 410.95" stroke="#0a0a0a" stroke-width="1.53" fill="none"/>
<text x="267.0" y="567.8" font-size="12.7" fill="#262626">N</text>
<text x="276.6" y="570.8" font-size="10.4" fill="#262626" textLength="21" lengthAdjust="spacingAndGlyphs">Term</text>
<text x="300.3" y="567.8" font-size="12.7" fill="#262626">=</text>
<text x="311.6" y="567.8" font-size="12.7" fill="#262626">10</text>
<text x="267.0" y="586.0" font-size="12.7" fill="#262626">N</text>
<text x="276.6" y="589.0" font-size="10.4" fill="#262626" textLength="33.5" lengthAdjust="spacingAndGlyphs">Preterm</text>
<text x="310.7" y="586.0" font-size="12.7" fill="#262626">=</text>
<text x="320.6" y="586.0" font-size="12.7" fill="#262626">18</text>
</g>
<g id="p4">
<path d="M431.5 382.0V590.0" stroke="#8a8a8a" stroke-width="1" fill="none"/>
<path d="M426.0 382.5H431.4" stroke="#8a8a8a" stroke-width="1"/>
<text x="415.5" y="387.6" font-size="15" text-anchor="end" fill="#262626">10</text>
<path d="M426.0 434.5H431.4" stroke="#8a8a8a" stroke-width="1"/>
<text x="415.5" y="439.3" font-size="15" text-anchor="end" fill="#262626">5</text>
<path d="M426.0 485.5H431.4" stroke="#8a8a8a" stroke-width="1"/>
<text x="415.5" y="491.1" font-size="15" text-anchor="end" fill="#262626">0</text>
<path d="M426.0 537.5H431.4" stroke="#8a8a8a" stroke-width="1"/>
<text x="415.5" y="542.9" font-size="15" text-anchor="end" fill="#262626">-5</text>
<path d="M426.0 589.5H431.4" stroke="#8a8a8a" stroke-width="1"/>
<text x="415.5" y="594.6" font-size="15" text-anchor="end" fill="#262626">-10</text>
<path d="M431.0 485.5H739.2" stroke="#8a8a8a" stroke-width="1"/>
<path d="M430.5 485.5v5" stroke="#8a8a8a" stroke-width="1"/>
<text x="431.0" y="616.4" font-size="15" text-anchor="middle" fill="#262626">0</text>
<path d="M469.5 485.5v5" stroke="#8a8a8a" stroke-width="1"/>
<text x="469.5" y="616.4" font-size="15" text-anchor="middle" fill="#262626">15</text>
<path d="M507.5 485.5v5" stroke="#8a8a8a" stroke-width="1"/>
<text x="507.9" y="616.4" font-size="15" text-anchor="middle" fill="#262626">30</text>
<path d="M546.5 485.5v5" stroke="#8a8a8a" stroke-width="1"/>
<text x="546.4" y="616.4" font-size="15" text-anchor="middle" fill="#262626">45</text>
<path d="M584.5 485.5v5" stroke="#8a8a8a" stroke-width="1"/>
<text x="584.9" y="616.4" font-size="15" text-anchor="middle" fill="#262626">60</text>
<path d="M622.5 485.5v5" stroke="#8a8a8a" stroke-width="1"/>
<text x="623.4" y="616.4" font-size="15" text-anchor="middle" fill="#262626">75</text>
<path d="M661.5 485.5v5" stroke="#8a8a8a" stroke-width="1"/>
<text x="661.9" y="616.4" font-size="15" text-anchor="middle" fill="#262626">90</text>
<path d="M699.5 485.5v5" stroke="#8a8a8a" stroke-width="1"/>
<text x="700.3" y="616.4" font-size="15" text-anchor="middle" fill="#262626">105</text>
<path d="M738.5 485.5v5" stroke="#8a8a8a" stroke-width="1"/>
<text x="738.8" y="616.4" font-size="15" text-anchor="middle" fill="#262626">120</text>
<text x="584.0" y="630.0" font-size="14.2" font-weight="bold" text-anchor="middle" fill="#111" stroke="#111" stroke-width="0.3">Beat</text>
<text transform="translate(401.0 487.0) rotate(-90)" font-size="14" font-weight="bold" text-anchor="middle" fill="#111" stroke="#111" stroke-width="0.3">% Change</text>
<path d="M507.9 395.2V591.8" stroke="#0a0a0a" stroke-width="2" stroke-dasharray="6.1 5.1" fill="none"/>
<path d="M433.1 487.8V501.6M429.2 501.6h7.8M436.1 487.3V499.7M432.2 499.7h7.8M438.7 488.7V498.7M434.8 498.7h7.8M441.3 488.4V498.4M437.4 498.4h7.8M443.8 488.5V499.0M439.9 499.0h7.8M446.4 489.0V502.2M442.5 502.2h7.8M449.0 488.8V499.5M445.1 499.5h7.8M451.5 488.5V497.4M447.6 497.4h7.8M454.1 488.6V499.2M450.2 499.2h7.8M456.6 488.0V498.6M452.8 498.6h7.8M459.2 486.8V498.3M455.3 498.3h7.8M461.8 486.9V498.4M457.9 498.4h7.8M464.3 485.3V494.7M460.4 494.7h7.8M466.9 483.3V494.6M463.0 494.6h7.8M469.5 480.2V491.5M465.6 491.5h7.8M472.0 482.8V493.9M468.1 493.9h7.8M474.6 481.0V493.4M470.7 493.4h7.8M477.2 480.5V492.6M473.3 492.6h7.8M479.7 480.7V495.8M475.8 495.8h7.8M482.3 480.2V495.2M478.4 495.2h7.8M484.9 479.8V492.7M481.0 492.7h7.8M487.4 478.8V493.9M483.5 493.9h7.8M490.0 480.0V492.5M486.1 492.5h7.8M492.6 481.8V495.7M488.7 495.7h7.8M495.1 483.5V495.7M491.2 495.7h7.8M497.7 484.0V498.3M493.8 498.3h7.8M500.3 484.9V496.5M496.4 496.5h7.8M502.8 484.8V496.8M498.9 496.8h7.8M505.4 485.3V497.2M501.5 497.2h7.8M507.9 484.9V495.2M504.1 495.2h7.8M510.5 485.5V496.4M506.6 496.4h7.8M513.1 486.3V499.3M509.2 499.3h7.8M515.6 486.6V495.6M511.7 495.6h7.8M518.2 485.6V497.7M514.3 497.7h7.8M520.8 485.9V497.1M516.9 497.1h7.8M523.3 480.2V491.6M519.4 491.6h7.8M525.9 479.8V489.2M522.0 489.2h7.8M528.5 478.8V490.2M524.6 490.2h7.8M531.0 471.2V482.0M527.1 482.0h7.8M533.6 470.4V484.6M529.7 484.6h7.8M536.2 468.7V482.1M532.3 482.1h7.8M538.7 466.2V481.1M534.8 481.1h7.8M541.3 464.4V477.5M537.4 477.5h7.8M543.9 461.2V473.2M540.0 473.2h7.8M546.4 458.9V474.1M542.5 474.1h7.8M549.0 456.6V470.4M545.1 470.4h7.8M551.6 454.0V467.4M547.7 467.4h7.8M554.1 452.1V463.2M550.2 463.2h7.8M556.7 451.0V461.6M552.8 461.6h7.8M559.2 449.8V459.7M555.4 459.7h7.8M561.8 449.2V461.7M557.9 461.7h7.8M564.4 449.4V459.0M560.5 459.0h7.8M566.9 447.4V458.2M563.0 458.2h7.8M569.5 446.8V457.7M565.6 457.7h7.8M572.1 446.6V458.8M568.2 458.8h7.8M574.6 445.3V455.2M570.7 455.2h7.8M577.2 443.8V456.7M573.3 456.7h7.8M579.8 446.1V459.7M575.9 459.7h7.8M582.3 446.9V461.2M578.4 461.2h7.8M584.9 446.8V458.9M581.0 458.9h7.8M587.5 447.3V461.3M583.6 461.3h7.8M590.0 447.6V457.9M586.1 457.9h7.8M592.6 447.9V460.7M588.7 460.7h7.8M595.2 447.6V461.6M591.3 461.6h7.8M597.7 448.8V461.4M593.8 461.4h7.8M600.3 449.1V460.4M596.4 460.4h7.8M602.9 450.0V464.1M599.0 464.1h7.8M605.4 449.8V460.9M601.5 460.9h7.8M608.0 450.3V464.3M604.1 464.3h7.8M610.5 450.6V463.6M606.6 463.6h7.8M613.1 450.7V461.6M609.2 461.6h7.8M615.7 450.1V463.0M611.8 463.0h7.8M618.2 450.3V464.2M614.3 464.2h7.8M620.8 450.2V464.1M616.9 464.1h7.8M623.4 450.0V461.8M619.5 461.8h7.8M625.9 448.9V460.6M622.0 460.6h7.8M628.5 448.1V459.8M624.6 459.8h7.8M631.1 448.3V461.8M627.2 461.8h7.8M633.6 447.9V459.6M629.7 459.6h7.8M636.2 446.8V462.0M632.3 462.0h7.8M638.8 446.1V457.2M634.9 457.2h7.8M641.3 446.1V458.2M637.4 458.2h7.8M643.9 445.5V459.0M640.0 459.0h7.8M646.5 445.5V457.2M642.6 457.2h7.8M649.0 445.7V460.7M645.1 460.7h7.8M651.6 446.1V461.2M647.7 461.2h7.8M654.2 447.6V460.0M650.3 460.0h7.8M656.7 449.9V464.8M652.8 464.8h7.8M659.3 449.9V462.7M655.4 462.7h7.8M661.9 450.6V466.0M658.0 466.0h7.8M664.4 452.2V465.2M660.5 465.2h7.8M667.0 455.9V467.8M663.1 467.8h7.8M669.5 460.4V470.9M665.6 470.9h7.8M672.1 461.2V471.7M668.2 471.7h7.8M674.7 461.0V470.6M670.8 470.6h7.8M677.2 461.6V473.6M673.3 473.6h7.8M679.8 465.7V476.6M675.9 476.6h7.8M682.4 467.3V476.5M678.5 476.5h7.8M684.9 465.2V476.1M681.0 476.1h7.8M687.5 466.5V478.1M683.6 478.1h7.8M690.1 466.4V477.5M686.2 477.5h7.8M692.6 467.3V476.6M688.7 476.6h7.8M695.2 476.3V488.1M691.3 488.1h7.8M697.8 478.6V491.1M693.9 491.1h7.8M700.3 477.4V487.7M696.4 487.7h7.8M702.9 476.6V486.1M699.0 486.1h7.8M705.5 474.3V485.6M701.6 485.6h7.8M708.0 476.6V487.8M704.1 487.8h7.8M710.6 474.5V486.1M706.7 486.1h7.8M713.1 476.1V488.3M709.2 488.3h7.8M715.7 477.8V490.2M711.8 490.2h7.8M718.3 475.0V486.5M714.4 486.5h7.8M720.8 481.6V491.5M716.9 491.5h7.8M723.4 476.6V488.4M719.5 488.4h7.8M726.0 475.2V484.3M722.1 484.3h7.8M728.5 475.0V485.1M724.6 485.1h7.8M731.1 476.1V486.7M727.2 486.7h7.8M733.7 471.0V480.9M729.8 480.9h7.8M736.2 475.5V484.7M732.3 484.7h7.8M738.8 477.0V486.9M734.9 486.9h7.8" stroke="#0c0c0c" stroke-width="1.2" fill="none"/>
<path d="M433.1 476.8V469.7M429.2 469.7h7.8M436.1 495.8V486.8M432.2 486.8h7.8M438.7 477.7V467.4M434.8 467.4h7.8M441.3 488.1V480.1M437.4 480.1h7.8M443.8 484.8V477.3M439.9 477.3h7.8M446.4 490.6V482.7M442.5 482.7h7.8M449.0 473.8V467.4M445.1 467.4h7.8M451.5 486.6V479.3M447.6 479.3h7.8M454.1 492.0V485.3M450.2 485.3h7.8M456.6 492.8V485.0M452.8 485.0h7.8M459.2 510.0V500.0M455.3 500.0h7.8M461.8 487.3V479.8M457.9 479.8h7.8M464.3 496.5V490.3M460.4 490.3h7.8M466.9 486.6V480.7M463.0 480.7h7.8M469.5 498.3V489.1M465.6 489.1h7.8M472.0 500.9V493.1M468.1 493.1h7.8M474.6 474.5V461.4M470.7 461.4h7.8M477.2 484.0V476.4M473.3 476.4h7.8M479.7 470.4V465.2M475.8 465.2h7.8M482.3 488.1V478.9M478.4 478.9h7.8M484.9 500.4V491.6M481.0 491.6h7.8M487.4 475.8V465.8M483.5 465.8h7.8M490.0 471.6V462.6M486.1 462.6h7.8M492.6 479.2V469.8M488.7 469.8h7.8M495.1 498.6V489.2M491.2 489.2h7.8M497.7 483.6V474.4M493.8 474.4h7.8M500.3 488.1V478.4M496.4 478.4h7.8M502.8 462.9V452.8M498.9 452.8h7.8M505.4 486.6V479.8M501.5 479.8h7.8M507.9 483.3V473.4M504.1 473.4h7.8M510.5 480.2V473.4M506.6 473.4h7.8M513.1 490.6V482.1M509.2 482.1h7.8M515.6 487.3V478.1M511.7 478.1h7.8M518.2 471.6V458.4M514.3 458.4h7.8M520.8 471.2V460.2M516.9 460.2h7.8M523.3 460.6V449.3M519.4 449.3h7.8M525.9 463.1V452.2M522.0 452.2h7.8M528.5 486.6V475.1M524.6 475.1h7.8M531.0 466.3V456.2M527.1 456.2h7.8M533.6 455.6V441.0M529.7 441.0h7.8M536.2 464.4V455.7M532.3 455.7h7.8M538.7 460.0V448.0M534.8 448.0h7.8M541.3 458.5V448.0M537.4 448.0h7.8M543.9 448.6V434.1M540.0 434.1h7.8M546.4 464.2V454.1M542.5 454.1h7.8M549.0 468.0V454.7M545.1 454.7h7.8M551.6 466.4V451.3M547.7 451.3h7.8M554.1 464.9V452.7M550.2 452.7h7.8M556.7 464.2V453.0M552.8 453.0h7.8M559.2 464.5V453.8M555.4 453.8h7.8M561.8 464.2V448.2M557.9 448.2h7.8M564.4 472.8V456.3M560.5 456.3h7.8M566.9 458.9V448.5M563.0 448.5h7.8M569.5 467.2V452.8M565.6 452.8h7.8M572.1 471.7V457.8M568.2 457.8h7.8M574.6 473.3V462.4M570.7 462.4h7.8M577.2 470.7V460.4M573.3 460.4h7.8M579.8 458.2V446.6M575.9 446.6h7.8M582.3 456.6V441.1M578.4 441.1h7.8M584.9 466.4V455.4M581.0 455.4h7.8M587.5 479.6V461.4M583.6 461.4h7.8M590.0 475.0V459.9M586.1 459.9h7.8M592.6 448.7V435.2M588.7 435.2h7.8M595.2 447.6V430.2M591.3 430.2h7.8M597.7 450.9V438.0M593.8 438.0h7.8M600.3 456.6V441.4M596.4 441.4h7.8M602.9 441.2V423.4M599.0 423.4h7.8M605.4 450.3V435.8M601.5 435.8h7.8M608.0 458.5V446.8M604.1 446.8h7.8M610.5 446.1V429.2M606.6 429.2h7.8M613.1 454.3V436.5M609.2 436.5h7.8M615.7 441.2V430.0M611.8 430.0h7.8M618.2 444.5V425.6M614.3 425.6h7.8M620.8 448.7V430.1M616.9 430.1h7.8M623.4 435.8V421.1M619.5 421.1h7.8M625.9 441.5V427.8M622.0 427.8h7.8M628.5 437.5V424.4M624.6 424.4h7.8M631.1 456.6V439.7M627.2 439.7h7.8M633.6 446.8V432.3M629.7 432.3h7.8M636.2 448.7V428.9M632.3 428.9h7.8M638.8 441.5V427.9M634.9 427.9h7.8M641.3 434.7V419.1M637.4 419.1h7.8M643.9 452.4V434.6M640.0 434.6h7.8M646.5 439.0V423.0M642.6 423.0h7.8M649.0 453.2V431.9M645.1 431.9h7.8M651.6 448.3V432.2M647.7 432.2h7.8M654.2 438.5V420.2M650.3 420.2h7.8M656.7 419.3V405.2M652.8 405.2h7.8M659.3 434.8V413.1M655.4 413.1h7.8M661.9 426.7V410.3M658.0 410.3h7.8M664.4 441.2V425.9M660.5 425.9h7.8M667.0 432.5V406.2M663.1 406.2h7.8M669.5 423.1V406.3M665.6 406.3h7.8M672.1 440.0V426.8M668.2 426.8h7.8M674.7 430.2V413.4M670.8 413.4h7.8M677.2 435.5V421.3M673.3 421.3h7.8M679.8 447.6V427.6M675.9 427.6h7.8M682.4 420.4V402.1M678.5 402.1h7.8M684.9 421.4V406.2M681.0 406.2h7.8M687.5 426.4V402.7M683.6 402.7h7.8M690.1 445.3V429.0M686.2 429.0h7.8M692.6 421.1V401.0M688.7 401.0h7.8M695.2 433.2V415.0M691.3 415.0h7.8M697.8 429.5V412.4M693.9 412.4h7.8M700.3 442.0V423.8M696.4 423.8h7.8M702.9 430.9V414.5M699.0 414.5h7.8M705.5 439.5V415.7M701.6 415.7h7.8M708.0 436.2V416.7M704.1 416.7h7.8M710.6 424.1V402.1M706.7 402.1h7.8M713.1 425.4V404.1M709.2 404.1h7.8M715.7 441.2V419.9M711.8 419.9h7.8M718.3 444.3V421.7M714.4 421.7h7.8M720.8 455.2V439.3M716.9 439.3h7.8M723.4 439.0V419.4M719.5 419.4h7.8M726.0 448.3V432.3M722.1 432.3h7.8M728.5 443.8V416.6M724.6 416.6h7.8M731.1 443.8V420.2M727.2 420.2h7.8M733.7 451.0V428.6M729.8 428.6h7.8M736.2 429.2V407.2M732.3 407.2h7.8M738.8 430.9V410.3M734.9 410.3h7.8" stroke="#0c0c0c" stroke-width="1.2" fill="none"/>
<polyline points="433.1,487.8 436.1,487.3 438.7,488.7 441.3,488.4 443.8,488.5 446.4,489.0 449.0,488.8 451.5,488.5 454.1,488.6 456.6,488.0 459.2,486.8 461.8,486.9 464.3,485.3 466.9,483.3 469.5,480.2 472.0,482.8 474.6,481.0 477.2,480.5 479.7,480.7 482.3,480.2 484.9,479.8 487.4,478.8 490.0,480.0 492.6,481.8 495.1,483.5 497.7,484.0 500.3,484.9 502.8,484.8 505.4,485.3 507.9,484.9 510.5,485.5 513.1,486.3 515.6,486.6 518.2,485.6 520.8,485.9 523.3,480.2 525.9,479.8 528.5,478.8 531.0,471.2 533.6,470.4 536.2,468.7 538.7,466.2 541.3,464.4 543.9,461.2 546.4,458.9 549.0,456.6 551.6,454.0 554.1,452.1 556.7,451.0 559.2,449.8 561.8,449.2 564.4,449.4 566.9,447.4 569.5,446.8 572.1,446.6 574.6,445.3 577.2,443.8 579.8,446.1 582.3,446.9 584.9,446.8 587.5,447.3 590.0,447.6 592.6,447.9 595.2,447.6 597.7,448.8 600.3,449.1 602.9,450.0 605.4,449.8 608.0,450.3 610.5,450.6 613.1,450.7 615.7,450.1 618.2,450.3 620.8,450.2 623.4,450.0 625.9,448.9 628.5,448.1 631.1,448.3 633.6,447.9 636.2,446.8 638.8,446.1 641.3,446.1 643.9,445.5 646.5,445.5 649.0,445.7 651.6,446.1 654.2,447.6 656.7,449.9 659.3,449.9 661.9,450.6 664.4,452.2 667.0,455.9 669.5,460.4 672.1,461.2 674.7,461.0 677.2,461.6 679.8,465.7 682.4,467.3 684.9,465.2 687.5,466.5 690.1,466.4 692.6,467.3 695.2,476.3 697.8,478.6 700.3,477.4 702.9,476.6 705.5,474.3 708.0,476.6 710.6,474.5 713.1,476.1 715.7,477.8 718.3,475.0 720.8,481.6 723.4,476.6 726.0,475.2 728.5,475.0 731.1,476.1 733.7,471.0 736.2,475.5 738.8,477.0" stroke="#000" stroke-width="2.2" fill="none" stroke-linejoin="round"/>
<path d="M430.2 487.8L433.1 484.9L436.0 487.8L433.1 490.7ZM433.2 487.3L436.1 484.4L439.0 487.3L436.1 490.2ZM435.8 488.7L438.7 485.8L441.6 488.7L438.7 491.6ZM438.4 488.4L441.3 485.5L444.2 488.4L441.3 491.3ZM440.9 488.5L443.8 485.6L446.7 488.5L443.8 491.4ZM443.5 489.0L446.4 486.1L449.3 489.0L446.4 491.9ZM446.1 488.8L449.0 485.9L451.9 488.8L449.0 491.7ZM448.6 488.5L451.5 485.6L454.4 488.5L451.5 491.4ZM451.2 488.6L454.1 485.7L457.0 488.6L454.1 491.5ZM453.8 488.0L456.6 485.1L459.5 488.0L456.6 490.9ZM456.3 486.8L459.2 483.9L462.1 486.8L459.2 489.7ZM458.9 486.9L461.8 484.0L464.7 486.9L461.8 489.8ZM461.4 485.3L464.3 482.4L467.2 485.3L464.3 488.2ZM464.0 483.3L466.9 480.4L469.8 483.3L466.9 486.2ZM466.6 480.2L469.5 477.3L472.4 480.2L469.5 483.1ZM469.1 482.8L472.0 479.9L474.9 482.8L472.0 485.7ZM471.7 481.0L474.6 478.1L477.5 481.0L474.6 483.9ZM474.3 480.5L477.2 477.6L480.1 480.5L477.2 483.4ZM476.8 480.7L479.7 477.8L482.6 480.7L479.7 483.6ZM479.4 480.2L482.3 477.3L485.2 480.2L482.3 483.1ZM482.0 479.8L484.9 476.9L487.8 479.8L484.9 482.7ZM484.5 478.8L487.4 475.9L490.3 478.8L487.4 481.7ZM487.1 480.0L490.0 477.1L492.9 480.0L490.0 482.9ZM489.7 481.8L492.6 478.9L495.5 481.8L492.6 484.7ZM492.2 483.5L495.1 480.6L498.0 483.5L495.1 486.4ZM494.8 484.0L497.7 481.1L500.6 484.0L497.7 486.9ZM497.4 484.9L500.3 482.0L503.2 484.9L500.3 487.8ZM499.9 484.8L502.8 481.9L505.7 484.8L502.8 487.7ZM502.5 485.3L505.4 482.4L508.3 485.3L505.4 488.2ZM505.1 484.9L507.9 482.0L510.8 484.9L507.9 487.8ZM507.6 485.5L510.5 482.6L513.4 485.5L510.5 488.4ZM510.2 486.3L513.1 483.4L516.0 486.3L513.1 489.2ZM512.7 486.6L515.6 483.7L518.5 486.6L515.6 489.5ZM515.3 485.6L518.2 482.7L521.1 485.6L518.2 488.5ZM517.9 485.9L520.8 483.0L523.7 485.9L520.8 488.8ZM520.4 480.2L523.3 477.3L526.2 480.2L523.3 483.1ZM523.0 479.8L525.9 476.9L528.8 479.8L525.9 482.7ZM525.6 478.8L528.5 475.9L531.4 478.8L528.5 481.7ZM528.1 471.2L531.0 468.3L533.9 471.2L531.0 474.1ZM530.7 470.4L533.6 467.5L536.5 470.4L533.6 473.3ZM533.3 468.7L536.2 465.8L539.1 468.7L536.2 471.6ZM535.8 466.2L538.7 463.3L541.6 466.2L538.7 469.1ZM538.4 464.4L541.3 461.5L544.2 464.4L541.3 467.3ZM541.0 461.2L543.9 458.3L546.8 461.2L543.9 464.1ZM543.5 458.9L546.4 456.0L549.3 458.9L546.4 461.8ZM546.1 456.6L549.0 453.7L551.9 456.6L549.0 459.5ZM548.7 454.0L551.6 451.1L554.5 454.0L551.6 456.9ZM551.2 452.1L554.1 449.2L557.0 452.1L554.1 455.0ZM553.8 451.0L556.7 448.1L559.6 451.0L556.7 453.9ZM556.4 449.8L559.2 446.9L562.1 449.8L559.2 452.7ZM558.9 449.2L561.8 446.3L564.7 449.2L561.8 452.1ZM561.5 449.4L564.4 446.5L567.3 449.4L564.4 452.3ZM564.0 447.4L566.9 444.5L569.8 447.4L566.9 450.3ZM566.6 446.8L569.5 443.9L572.4 446.8L569.5 449.7ZM569.2 446.6L572.1 443.7L575.0 446.6L572.1 449.5ZM571.7 445.3L574.6 442.4L577.5 445.3L574.6 448.2ZM574.3 443.8L577.2 440.9L580.1 443.8L577.2 446.7ZM576.9 446.1L579.8 443.2L582.7 446.1L579.8 449.0ZM579.4 446.9L582.3 444.0L585.2 446.9L582.3 449.8ZM582.0 446.8L584.9 443.9L587.8 446.8L584.9 449.7ZM584.6 447.3L587.5 444.4L590.4 447.3L587.5 450.2ZM587.1 447.6L590.0 444.7L592.9 447.6L590.0 450.5ZM589.7 447.9L592.6 445.0L595.5 447.9L592.6 450.8ZM592.3 447.6L595.2 444.7L598.1 447.6L595.2 450.5ZM594.8 448.8L597.7 445.9L600.6 448.8L597.7 451.7ZM597.4 449.1L600.3 446.2L603.2 449.1L600.3 452.0ZM600.0 450.0L602.9 447.1L605.8 450.0L602.9 452.9ZM602.5 449.8L605.4 446.9L608.3 449.8L605.4 452.7ZM605.1 450.3L608.0 447.4L610.9 450.3L608.0 453.2ZM607.6 450.6L610.5 447.7L613.4 450.6L610.5 453.5ZM610.2 450.7L613.1 447.8L616.0 450.7L613.1 453.6ZM612.8 450.1L615.7 447.2L618.6 450.1L615.7 453.0ZM615.3 450.3L618.2 447.4L621.1 450.3L618.2 453.2ZM617.9 450.2L620.8 447.3L623.7 450.2L620.8 453.1ZM620.5 450.0L623.4 447.1L626.3 450.0L623.4 452.9ZM623.0 448.9L625.9 446.0L628.8 448.9L625.9 451.8ZM625.6 448.1L628.5 445.2L631.4 448.1L628.5 451.0ZM628.2 448.3L631.1 445.4L634.0 448.3L631.1 451.2ZM630.7 447.9L633.6 445.0L636.5 447.9L633.6 450.8ZM633.3 446.8L636.2 443.9L639.1 446.8L636.2 449.7ZM635.9 446.1L638.8 443.2L641.7 446.1L638.8 449.0ZM638.4 446.1L641.3 443.2L644.2 446.1L641.3 449.0ZM641.0 445.5L643.9 442.6L646.8 445.5L643.9 448.4ZM643.6 445.5L646.5 442.6L649.4 445.5L646.5 448.4ZM646.1 445.7L649.0 442.8L651.9 445.7L649.0 448.6ZM648.7 446.1L651.6 443.2L654.5 446.1L651.6 449.0ZM651.3 447.6L654.2 444.7L657.1 447.6L654.2 450.5ZM653.8 449.9L656.7 447.0L659.6 449.9L656.7 452.8ZM656.4 449.9L659.3 447.0L662.2 449.9L659.3 452.8ZM659.0 450.6L661.9 447.7L664.8 450.6L661.9 453.5ZM661.5 452.2L664.4 449.3L667.3 452.2L664.4 455.1ZM664.1 455.9L667.0 453.0L669.9 455.9L667.0 458.8ZM666.6 460.4L669.5 457.5L672.4 460.4L669.5 463.3ZM669.2 461.2L672.1 458.3L675.0 461.2L672.1 464.1ZM671.8 461.0L674.7 458.1L677.6 461.0L674.7 463.9ZM674.3 461.6L677.2 458.7L680.1 461.6L677.2 464.5ZM676.9 465.7L679.8 462.8L682.7 465.7L679.8 468.6ZM679.5 467.3L682.4 464.4L685.3 467.3L682.4 470.2ZM682.0 465.2L684.9 462.3L687.8 465.2L684.9 468.1ZM684.6 466.5L687.5 463.6L690.4 466.5L687.5 469.4ZM687.2 466.4L690.1 463.5L693.0 466.4L690.1 469.3ZM689.7 467.3L692.6 464.4L695.5 467.3L692.6 470.2ZM692.3 476.3L695.2 473.4L698.1 476.3L695.2 479.2ZM694.9 478.6L697.8 475.7L700.7 478.6L697.8 481.5ZM697.4 477.4L700.3 474.5L703.2 477.4L700.3 480.3ZM700.0 476.6L702.9 473.7L705.8 476.6L702.9 479.5ZM702.6 474.3L705.5 471.4L708.4 474.3L705.5 477.2ZM705.1 476.6L708.0 473.7L710.9 476.6L708.0 479.5ZM707.7 474.5L710.6 471.6L713.5 474.5L710.6 477.4ZM710.2 476.1L713.1 473.2L716.0 476.1L713.1 479.0ZM712.8 477.8L715.7 474.9L718.6 477.8L715.7 480.7ZM715.4 475.0L718.3 472.1L721.2 475.0L718.3 477.9ZM717.9 481.6L720.8 478.7L723.7 481.6L720.8 484.5ZM720.5 476.6L723.4 473.7L726.3 476.6L723.4 479.5ZM723.1 475.2L726.0 472.3L728.9 475.2L726.0 478.1ZM725.6 475.0L728.5 472.1L731.4 475.0L728.5 477.9ZM728.2 476.1L731.1 473.2L734.0 476.1L731.1 479.0ZM730.8 471.0L733.7 468.1L736.6 471.0L733.7 473.9ZM733.3 475.5L736.2 472.6L739.1 475.5L736.2 478.4ZM735.9 477.0L738.8 474.1L741.7 477.0L738.8 479.9Z" fill="#000"/>
<polyline points="433.1,476.8 436.1,495.8 438.7,477.7 441.3,488.1 443.8,484.8 446.4,490.6 449.0,473.8 451.5,486.6 454.1,492.0 456.6,492.8 459.2,510.0 461.8,487.3 464.3,496.5 466.9,486.6 469.5,498.3 472.0,500.9 474.6,474.5 477.2,484.0 479.7,470.4 482.3,488.1 484.9,500.4 487.4,475.8 490.0,471.6 492.6,479.2 495.1,498.6 497.7,483.6 500.3,488.1 502.8,462.9 505.4,486.6 507.9,483.3 510.5,480.2 513.1,490.6 515.6,487.3 518.2,471.6 520.8,471.2 523.3,460.6 525.9,463.1 528.5,486.6 531.0,466.3 533.6,455.6 536.2,464.4 538.7,460.0 541.3,458.5 543.9,448.6 546.4,464.2 549.0,468.0 551.6,466.4 554.1,464.9 556.7,464.2 559.2,464.5 561.8,464.2 564.4,472.8 566.9,458.9 569.5,467.2 572.1,471.7 574.6,473.3 577.2,470.7 579.8,458.2 582.3,456.6 584.9,466.4 587.5,479.6 590.0,475.0 592.6,448.7 595.2,447.6 597.7,450.9 600.3,456.6 602.9,441.2 605.4,450.3 608.0,458.5 610.5,446.1 613.1,454.3 615.7,441.2 618.2,444.5 620.8,448.7 623.4,435.8 625.9,441.5 628.5,437.5 631.1,456.6 633.6,446.8 636.2,448.7 638.8,441.5 641.3,434.7 643.9,452.4 646.5,439.0 649.0,453.2 651.6,448.3 654.2,438.5 656.7,419.3 659.3,434.8 661.9,426.7 664.4,441.2 667.0,432.5 669.5,423.1 672.1,440.0 674.7,430.2 677.2,435.5 679.8,447.6 682.4,420.4 684.9,421.4 687.5,426.4 690.1,445.3 692.6,421.1 695.2,433.2 697.8,429.5 700.3,442.0 702.9,430.9 705.5,439.5 708.0,436.2 710.6,424.1 713.1,425.4 715.7,441.2 718.3,444.3 720.8,455.2 723.4,439.0 726.0,448.3 728.5,443.8 731.1,443.8 733.7,451.0 736.2,429.2 738.8,430.9" stroke="#000" stroke-width="1.2" fill="none"/>
<circle cx="433.1" cy="476.8" r="2.5" fill="#fff" stroke="#000" stroke-width="1.9"/>
<circle cx="436.1" cy="495.8" r="2.5" fill="#fff" stroke="#000" stroke-width="1.9"/>
<circle cx="438.7" cy="477.7" r="2.5" fill="#fff" stroke="#000" stroke-width="1.9"/>
<circle cx="441.3" cy="488.1" r="2.5" fill="#fff" stroke="#000" stroke-width="1.9"/>
<circle cx="443.8" cy="484.8" r="2.5" fill="#fff" stroke="#000" stroke-width="1.9"/>
<circle cx="446.4" cy="490.6" r="2.5" fill="#fff" stroke="#000" stroke-width="1.9"/>
<circle cx="449.0" cy="473.8" r="2.5" fill="#fff" stroke="#000" stroke-width="1.9"/>
<circle cx="451.5" cy="486.6" r="2.5" fill="#fff" stroke="#000" stroke-width="1.9"/>
<circle cx="454.1" cy="492.0" r="2.5" fill="#fff" stroke="#000" stroke-width="1.9"/>
<circle cx="456.6" cy="492.8" r="2.5" fill="#fff" stroke="#000" stroke-width="1.9"/>
<circle cx="459.2" cy="510.0" r="2.5" fill="#fff" stroke="#000" stroke-width="1.9"/>
<circle cx="461.8" cy="487.3" r="2.5" fill="#fff" stroke="#000" stroke-width="1.9"/>
<circle cx="464.3" cy="496.5" r="2.5" fill="#fff" stroke="#000" stroke-width="1.9"/>
<circle cx="466.9" cy="486.6" r="2.5" fill="#fff" stroke="#000" stroke-width="1.9"/>
<circle cx="469.5" cy="498.3" r="2.5" fill="#fff" stroke="#000" stroke-width="1.9"/>
<circle cx="472.0" cy="500.9" r="2.5" fill="#fff" stroke="#000" stroke-width="1.9"/>
<circle cx="474.6" cy="474.5" r="2.5" fill="#fff" stroke="#000" stroke-width="1.9"/>
<circle cx="477.2" cy="484.0" r="2.5" fill="#fff" stroke="#000" stroke-width="1.9"/>
<circle cx="479.7" cy="470.4" r="2.5" fill="#fff" stroke="#000" stroke-width="1.9"/>
<circle cx="482.3" cy="488.1" r="2.5" fill="#fff" stroke="#000" stroke-width="1.9"/>
<circle cx="484.9" cy="500.4" r="2.5" fill="#fff" stroke="#000" stroke-width="1.9"/>
<circle cx="487.4" cy="475.8" r="2.5" fill="#fff" stroke="#000" stroke-width="1.9"/>
<circle cx="490.0" cy="471.6" r="2.5" fill="#fff" stroke="#000" stroke-width="1.9"/>
<circle cx="492.6" cy="479.2" r="2.5" fill="#fff" stroke="#000" stroke-width="1.9"/>
<circle cx="495.1" cy="498.6" r="2.5" fill="#fff" stroke="#000" stroke-width="1.9"/>
<circle cx="497.7" cy="483.6" r="2.5" fill="#fff" stroke="#000" stroke-width="1.9"/>
<circle cx="500.3" cy="488.1" r="2.5" fill="#fff" stroke="#000" stroke-width="1.9"/>
<circle cx="502.8" cy="462.9" r="2.5" fill="#fff" stroke="#000" stroke-width="1.9"/>
<circle cx="505.4" cy="486.6" r="2.5" fill="#fff" stroke="#000" stroke-width="1.9"/>
<circle cx="507.9" cy="483.3" r="2.5" fill="#fff" stroke="#000" stroke-width="1.9"/>
<circle cx="510.5" cy="480.2" r="2.5" fill="#fff" stroke="#000" stroke-width="1.9"/>
<circle cx="513.1" cy="490.6" r="2.5" fill="#fff" stroke="#000" stroke-width="1.9"/>
<circle cx="515.6" cy="487.3" r="2.5" fill="#fff" stroke="#000" stroke-width="1.9"/>
<circle cx="518.2" cy="471.6" r="2.5" fill="#fff" stroke="#000" stroke-width="1.9"/>
<circle cx="520.8" cy="471.2" r="2.5" fill="#fff" stroke="#000" stroke-width="1.9"/>
<circle cx="523.3" cy="460.6" r="2.5" fill="#fff" stroke="#000" stroke-width="1.9"/>
<circle cx="525.9" cy="463.1" r="2.5" fill="#fff" stroke="#000" stroke-width="1.9"/>
<circle cx="528.5" cy="486.6" r="2.5" fill="#fff" stroke="#000" stroke-width="1.9"/>
<circle cx="531.0" cy="466.3" r="2.5" fill="#fff" stroke="#000" stroke-width="1.9"/>
<circle cx="533.6" cy="455.6" r="2.5" fill="#fff" stroke="#000" stroke-width="1.9"/>
<circle cx="536.2" cy="464.4" r="2.5" fill="#fff" stroke="#000" stroke-width="1.9"/>
<circle cx="538.7" cy="460.0" r="2.5" fill="#fff" stroke="#000" stroke-width="1.9"/>
<circle cx="541.3" cy="458.5" r="2.5" fill="#fff" stroke="#000" stroke-width="1.9"/>
<circle cx="543.9" cy="448.6" r="2.5" fill="#fff" stroke="#000" stroke-width="1.9"/>
<circle cx="546.4" cy="464.2" r="2.5" fill="#fff" stroke="#000" stroke-width="1.9"/>
<circle cx="549.0" cy="468.0" r="2.5" fill="#fff" stroke="#000" stroke-width="1.9"/>
<circle cx="551.6" cy="466.4" r="2.5" fill="#fff" stroke="#000" stroke-width="1.9"/>
<circle cx="554.1" cy="464.9" r="2.5" fill="#fff" stroke="#000" stroke-width="1.9"/>
<circle cx="556.7" cy="464.2" r="2.5" fill="#fff" stroke="#000" stroke-width="1.9"/>
<circle cx="559.2" cy="464.5" r="2.5" fill="#fff" stroke="#000" stroke-width="1.9"/>
<circle cx="561.8" cy="464.2" r="2.5" fill="#fff" stroke="#000" stroke-width="1.9"/>
<circle cx="564.4" cy="472.8" r="2.5" fill="#fff" stroke="#000" stroke-width="1.9"/>
<circle cx="566.9" cy="458.9" r="2.5" fill="#fff" stroke="#000" stroke-width="1.9"/>
<circle cx="569.5" cy="467.2" r="2.5" fill="#fff" stroke="#000" stroke-width="1.9"/>
<circle cx="572.1" cy="471.7" r="2.5" fill="#fff" stroke="#000" stroke-width="1.9"/>
<circle cx="574.6" cy="473.3" r="2.5" fill="#fff" stroke="#000" stroke-width="1.9"/>
<circle cx="577.2" cy="470.7" r="2.5" fill="#fff" stroke="#000" stroke-width="1.9"/>
<circle cx="579.8" cy="458.2" r="2.5" fill="#fff" stroke="#000" stroke-width="1.9"/>
<circle cx="582.3" cy="456.6" r="2.5" fill="#fff" stroke="#000" stroke-width="1.9"/>
<circle cx="584.9" cy="466.4" r="2.5" fill="#fff" stroke="#000" stroke-width="1.9"/>
<circle cx="587.5" cy="479.6" r="2.5" fill="#fff" stroke="#000" stroke-width="1.9"/>
<circle cx="590.0" cy="475.0" r="2.5" fill="#fff" stroke="#000" stroke-width="1.9"/>
<circle cx="592.6" cy="448.7" r="2.5" fill="#fff" stroke="#000" stroke-width="1.9"/>
<circle cx="595.2" cy="447.6" r="2.5" fill="#fff" stroke="#000" stroke-width="1.9"/>
<circle cx="597.7" cy="450.9" r="2.5" fill="#fff" stroke="#000" stroke-width="1.9"/>
<circle cx="600.3" cy="456.6" r="2.5" fill="#fff" stroke="#000" stroke-width="1.9"/>
<circle cx="602.9" cy="441.2" r="2.5" fill="#fff" stroke="#000" stroke-width="1.9"/>
<circle cx="605.4" cy="450.3" r="2.5" fill="#fff" stroke="#000" stroke-width="1.9"/>
<circle cx="608.0" cy="458.5" r="2.5" fill="#fff" stroke="#000" stroke-width="1.9"/>
<circle cx="610.5" cy="446.1" r="2.5" fill="#fff" stroke="#000" stroke-width="1.9"/>
<circle cx="613.1" cy="454.3" r="2.5" fill="#fff" stroke="#000" stroke-width="1.9"/>
<circle cx="615.7" cy="441.2" r="2.5" fill="#fff" stroke="#000" stroke-width="1.9"/>
<circle cx="618.2" cy="444.5" r="2.5" fill="#fff" stroke="#000" stroke-width="1.9"/>
<circle cx="620.8" cy="448.7" r="2.5" fill="#fff" stroke="#000" stroke-width="1.9"/>
<circle cx="623.4" cy="435.8" r="2.5" fill="#fff" stroke="#000" stroke-width="1.9"/>
<circle cx="625.9" cy="441.5" r="2.5" fill="#fff" stroke="#000" stroke-width="1.9"/>
<circle cx="628.5" cy="437.5" r="2.5" fill="#fff" stroke="#000" stroke-width="1.9"/>
<circle cx="631.1" cy="456.6" r="2.5" fill="#fff" stroke="#000" stroke-width="1.9"/>
<circle cx="633.6" cy="446.8" r="2.5" fill="#fff" stroke="#000" stroke-width="1.9"/>
<circle cx="636.2" cy="448.7" r="2.5" fill="#fff" stroke="#000" stroke-width="1.9"/>
<circle cx="638.8" cy="441.5" r="2.5" fill="#fff" stroke="#000" stroke-width="1.9"/>
<circle cx="641.3" cy="434.7" r="2.5" fill="#fff" stroke="#000" stroke-width="1.9"/>
<circle cx="643.9" cy="452.4" r="2.5" fill="#fff" stroke="#000" stroke-width="1.9"/>
<circle cx="646.5" cy="439.0" r="2.5" fill="#fff" stroke="#000" stroke-width="1.9"/>
<circle cx="649.0" cy="453.2" r="2.5" fill="#fff" stroke="#000" stroke-width="1.9"/>
<circle cx="651.6" cy="448.3" r="2.5" fill="#fff" stroke="#000" stroke-width="1.9"/>
<circle cx="654.2" cy="438.5" r="2.5" fill="#fff" stroke="#000" stroke-width="1.9"/>
<circle cx="656.7" cy="419.3" r="2.5" fill="#fff" stroke="#000" stroke-width="1.9"/>
<circle cx="659.3" cy="434.8" r="2.5" fill="#fff" stroke="#000" stroke-width="1.9"/>
<circle cx="661.9" cy="426.7" r="2.5" fill="#fff" stroke="#000" stroke-width="1.9"/>
<circle cx="664.4" cy="441.2" r="2.5" fill="#fff" stroke="#000" stroke-width="1.9"/>
<circle cx="667.0" cy="432.5" r="2.5" fill="#fff" stroke="#000" stroke-width="1.9"/>
<circle cx="669.5" cy="423.1" r="2.5" fill="#fff" stroke="#000" stroke-width="1.9"/>
<circle cx="672.1" cy="440.0" r="2.5" fill="#fff" stroke="#000" stroke-width="1.9"/>
<circle cx="674.7" cy="430.2" r="2.5" fill="#fff" stroke="#000" stroke-width="1.9"/>
<circle cx="677.2" cy="435.5" r="2.5" fill="#fff" stroke="#000" stroke-width="1.9"/>
<circle cx="679.8" cy="447.6" r="2.5" fill="#fff" stroke="#000" stroke-width="1.9"/>
<circle cx="682.4" cy="420.4" r="2.5" fill="#fff" stroke="#000" stroke-width="1.9"/>
<circle cx="684.9" cy="421.4" r="2.5" fill="#fff" stroke="#000" stroke-width="1.9"/>
<circle cx="687.5" cy="426.4" r="2.5" fill="#fff" stroke="#000" stroke-width="1.9"/>
<circle cx="690.1" cy="445.3" r="2.5" fill="#fff" stroke="#000" stroke-width="1.9"/>
<circle cx="692.6" cy="421.1" r="2.5" fill="#fff" stroke="#000" stroke-width="1.9"/>
<circle cx="695.2" cy="433.2" r="2.5" fill="#fff" stroke="#000" stroke-width="1.9"/>
<circle cx="697.8" cy="429.5" r="2.5" fill="#fff" stroke="#000" stroke-width="1.9"/>
<circle cx="700.3" cy="442.0" r="2.5" fill="#fff" stroke="#000" stroke-width="1.9"/>
<circle cx="702.9" cy="430.9" r="2.5" fill="#fff" stroke="#000" stroke-width="1.9"/>
<circle cx="705.5" cy="439.5" r="2.5" fill="#fff" stroke="#000" stroke-width="1.9"/>
<circle cx="708.0" cy="436.2" r="2.5" fill="#fff" stroke="#000" stroke-width="1.9"/>
<circle cx="710.6" cy="424.1" r="2.5" fill="#fff" stroke="#000" stroke-width="1.9"/>
<circle cx="713.1" cy="425.4" r="2.5" fill="#fff" stroke="#000" stroke-width="1.9"/>
<circle cx="715.7" cy="441.2" r="2.5" fill="#fff" stroke="#000" stroke-width="1.9"/>
<circle cx="718.3" cy="444.3" r="2.5" fill="#fff" stroke="#000" stroke-width="1.9"/>
<circle cx="720.8" cy="455.2" r="2.5" fill="#fff" stroke="#000" stroke-width="1.9"/>
<circle cx="723.4" cy="439.0" r="2.5" fill="#fff" stroke="#000" stroke-width="1.9"/>
<circle cx="726.0" cy="448.3" r="2.5" fill="#fff" stroke="#000" stroke-width="1.9"/>
<circle cx="728.5" cy="443.8" r="2.5" fill="#fff" stroke="#000" stroke-width="1.9"/>
<circle cx="731.1" cy="443.8" r="2.5" fill="#fff" stroke="#000" stroke-width="1.9"/>
<circle cx="733.7" cy="451.0" r="2.5" fill="#fff" stroke="#000" stroke-width="1.9"/>
<circle cx="736.2" cy="429.2" r="2.5" fill="#fff" stroke="#000" stroke-width="1.9"/>
<circle cx="738.8" cy="430.9" r="2.5" fill="#fff" stroke="#000" stroke-width="1.9"/>
<rect x="668.9" y="383.5" width="73.0" height="204.0" fill="#b2b2b2" fill-opacity="0.57"/>
<path d="M707.90 511.10L707.90 517.90M704.96 512.80L710.84 516.20M710.84 512.80L704.96 516.20" stroke="#0a0a0a" stroke-width="1.16" fill="none"/>
<text x="670.8" y="561.5" font-size="12.7" fill="#262626">N</text>
<text x="680.4" y="564.5" font-size="10.4" fill="#262626" textLength="21" lengthAdjust="spacingAndGlyphs">Term</text>
<text x="704.1" y="561.5" font-size="12.7" fill="#262626">=</text>
<text x="715.4" y="561.5" font-size="12.7" fill="#262626">10</text>
<text x="670.8" y="580.1" font-size="12.7" fill="#262626">N</text>
<text x="680.4" y="583.1" font-size="10.4" fill="#262626" textLength="33.5" lengthAdjust="spacingAndGlyphs">Preterm</text>
<text x="714.5" y="580.1" font-size="12.7" fill="#262626">=</text>
<text x="724.4" y="580.1" font-size="12.7" fill="#262626">20</text>
</g>
<g id="p5">
<path d="M51.5 726.0V928.0" stroke="#8a8a8a" stroke-width="1" fill="none"/>
<path d="M46.1 726.5H51.5" stroke="#8a8a8a" stroke-width="1"/>
<text x="36.3" y="731.6" font-size="15" text-anchor="end" fill="#262626">10</text>
<path d="M46.1 776.5H51.5" stroke="#8a8a8a" stroke-width="1"/>
<text x="36.3" y="781.8" font-size="15" text-anchor="end" fill="#262626">5</text>
<path d="M46.1 826.5H51.5" stroke="#8a8a8a" stroke-width="1"/>
<text x="36.3" y="831.9" font-size="15" text-anchor="end" fill="#262626">0</text>
<path d="M46.1 876.5H51.5" stroke="#8a8a8a" stroke-width="1"/>
<text x="36.3" y="882.1" font-size="15" text-anchor="end" fill="#262626">-5</text>
<path d="M46.1 927.5H51.5" stroke="#8a8a8a" stroke-width="1"/>
<text x="36.3" y="932.2" font-size="15" text-anchor="end" fill="#262626">-10</text>
<path d="M51.1 826.5H333.4" stroke="#8a8a8a" stroke-width="1"/>
<path d="M50.5 826.5v5" stroke="#8a8a8a" stroke-width="1"/>
<text x="51.0" y="952.0" font-size="15" text-anchor="middle" fill="#262626">0</text>
<path d="M85.5 826.5v5" stroke="#8a8a8a" stroke-width="1"/>
<text x="86.2" y="952.0" font-size="15" text-anchor="middle" fill="#262626">15</text>
<path d="M121.5 826.5v5" stroke="#8a8a8a" stroke-width="1"/>
<text x="121.5" y="952.0" font-size="15" text-anchor="middle" fill="#262626">30</text>
<path d="M156.5 826.5v5" stroke="#8a8a8a" stroke-width="1"/>
<text x="156.8" y="952.0" font-size="15" text-anchor="middle" fill="#262626">45</text>
<path d="M191.5 826.5v5" stroke="#8a8a8a" stroke-width="1"/>
<text x="192.0" y="952.0" font-size="15" text-anchor="middle" fill="#262626">60</text>
<path d="M226.5 826.5v5" stroke="#8a8a8a" stroke-width="1"/>
<text x="227.2" y="952.0" font-size="15" text-anchor="middle" fill="#262626">75</text>
<path d="M262.5 826.5v5" stroke="#8a8a8a" stroke-width="1"/>
<text x="262.5" y="952.0" font-size="15" text-anchor="middle" fill="#262626">90</text>
<path d="M297.5 826.5v5" stroke="#8a8a8a" stroke-width="1"/>
<text x="297.8" y="952.0" font-size="15" text-anchor="middle" fill="#262626">105</text>
<path d="M332.5 826.5v5" stroke="#8a8a8a" stroke-width="1"/>
<text x="333.0" y="952.0" font-size="15" text-anchor="middle" fill="#262626">120</text>
<text x="192.0" y="973.0" font-size="14.2" font-weight="bold" text-anchor="middle" fill="#111" stroke="#111" stroke-width="0.3">Beat</text>
<text transform="translate(12.5 826.9) rotate(-90)" font-size="14" font-weight="bold" text-anchor="middle" fill="#111" stroke="#111" stroke-width="0.3">% Change</text>
<path d="M123.8 731.4V929.0" stroke="#0a0a0a" stroke-width="2" stroke-dasharray="6.1 5.1" fill="none"/>
<path d="M52.9 824.0V831.9M49.0 831.9h7.8M55.7 825.0V833.0M51.8 833.0h7.8M58.0 826.1V836.8M54.1 836.8h7.8M60.4 824.7V833.5M56.5 833.5h7.8M62.8 822.6V831.6M58.9 831.6h7.8M65.1 823.9V835.0M61.2 835.0h7.8M67.5 824.0V836.4M63.6 836.4h7.8M69.8 824.7V836.4M65.9 836.4h7.8M72.2 828.3V841.2M68.2 841.2h7.8M74.5 829.7V842.2M70.6 842.2h7.8M76.8 831.5V842.7M72.9 842.7h7.8M79.2 832.5V845.2M75.3 845.2h7.8M81.5 835.3V846.5M77.6 846.5h7.8M83.9 833.9V844.1M80.0 844.1h7.8M86.2 832.8V844.1M82.3 844.1h7.8M88.6 831.2V841.8M84.7 841.8h7.8M91.0 829.7V839.8M87.0 839.8h7.8M93.3 825.4V833.8M89.4 833.8h7.8M95.7 824.0V835.8M91.8 835.8h7.8M98.0 818.4V830.6M94.1 830.6h7.8M100.3 817.0V828.2M96.4 828.2h7.8M102.7 819.8V831.9M98.8 831.9h7.8M105.1 818.4V829.9M101.2 829.9h7.8M107.4 820.5V832.6M103.5 832.6h7.8M109.8 823.3V835.6M105.8 835.6h7.8M112.1 824.7V835.0M108.2 835.0h7.8M114.5 826.3V836.1M110.5 836.1h7.8M116.8 827.5V840.3M112.9 840.3h7.8M119.2 828.2V841.2M115.2 841.2h7.8M121.5 831.7V843.4M117.6 843.4h7.8M123.9 833.9V846.5M120.0 846.5h7.8M126.2 832.5V843.6M122.3 843.6h7.8M128.6 833.2V844.5M124.7 844.5h7.8M130.9 834.6V845.6M127.0 845.6h7.8M133.2 832.5V841.8M129.3 841.8h7.8M135.6 833.2V844.4M131.7 844.4h7.8M137.9 835.3V846.6M134.0 846.6h7.8M140.3 837.4V848.8M136.4 848.8h7.8M142.7 839.5V848.4M138.8 848.4h7.8M145.0 840.9V848.9M141.1 848.9h7.8M147.4 839.7V851.0M143.5 851.0h7.8M149.7 837.4V847.7M145.8 847.7h7.8M152.1 835.7V845.0M148.2 845.0h7.8M154.4 834.6V844.8M150.5 844.8h7.8M156.8 835.3V848.7M152.8 848.7h7.8M159.1 836.7V850.1M155.2 850.1h7.8M161.4 838.8V849.6M157.5 849.6h7.8M163.8 835.3V848.2M159.9 848.2h7.8M166.2 836.0V851.3M162.2 851.3h7.8M168.5 837.4V853.1M164.6 853.1h7.8M170.9 839.5V852.5M167.0 852.5h7.8M173.2 840.9V855.5M169.3 855.5h7.8M175.6 842.0V854.7M171.7 854.7h7.8M177.9 841.7V854.0M174.0 854.0h7.8M180.2 843.1V855.3M176.3 855.3h7.8M182.6 844.6V855.7M178.7 855.7h7.8M185.0 845.3V857.5M181.1 857.5h7.8M187.3 840.9V853.0M183.4 853.0h7.8M189.7 840.2V849.4M185.8 849.4h7.8M192.0 838.1V847.9M188.1 847.9h7.8M194.3 838.8V848.1M190.4 848.1h7.8M196.7 846.8V855.0M192.8 855.0h7.8M199.1 843.1V852.2M195.2 852.2h7.8M201.4 842.4V853.4M197.5 853.4h7.8M203.8 844.6V856.4M199.8 856.4h7.8M206.1 843.1V854.4M202.2 854.4h7.8M208.5 840.9V853.5M204.6 853.5h7.8M210.8 841.7V854.3M206.9 854.3h7.8M213.2 843.8V854.6M209.2 854.6h7.8M215.5 846.0V857.5M211.6 857.5h7.8M217.8 843.1V855.5M213.9 855.5h7.8M220.2 843.8V852.5M216.3 852.5h7.8M222.6 843.1V852.3M218.7 852.3h7.8M224.9 841.7V851.5M221.0 851.5h7.8M227.2 840.2V850.4M223.3 850.4h7.8M229.6 841.7V850.6M225.7 850.6h7.8M232.0 843.8V854.9M228.1 854.9h7.8M234.3 843.1V853.6M230.4 853.6h7.8M236.7 842.4V853.3M232.8 853.3h7.8M239.0 841.7V851.9M235.1 851.9h7.8M241.3 840.9V849.4M237.4 849.4h7.8M243.7 840.9V849.8M239.8 849.8h7.8M246.1 841.0V851.7M242.2 851.7h7.8M248.4 841.1V850.7M244.5 850.7h7.8M250.8 840.7V853.5M246.8 853.5h7.8M253.1 839.2V848.9M249.2 848.9h7.8M255.5 838.2V850.0M251.6 850.0h7.8M257.8 837.7V851.6M253.9 851.6h7.8M260.1 838.2V849.3M256.2 849.3h7.8M262.5 837.7V850.3M258.6 850.3h7.8M264.9 837.7V850.2M261.0 850.2h7.8M267.2 838.1V851.5M263.3 851.5h7.8M269.6 838.7V849.4M265.7 849.4h7.8M271.9 839.1V849.1M268.0 849.1h7.8M274.2 838.8V849.7M270.4 849.7h7.8M276.6 838.3V849.0M272.7 849.0h7.8M279.0 839.4V848.6M275.1 848.6h7.8M281.3 838.7V849.2M277.4 849.2h7.8M283.6 838.7V849.6M279.8 849.6h7.8M286.0 848.8V859.9M282.1 859.9h7.8M288.4 836.7V848.7M284.5 848.7h7.8M290.7 836.7V848.9M286.8 848.9h7.8M293.1 836.2V849.8M289.2 849.8h7.8M295.4 836.7V847.1M291.5 847.1h7.8M297.8 839.9V851.3M293.9 851.3h7.8M300.1 842.7V853.3M296.2 853.3h7.8M302.5 843.1V855.3M298.6 855.3h7.8M304.8 843.2V853.3M300.9 853.3h7.8M307.2 842.6V852.2M303.3 852.2h7.8M309.5 842.2V854.3M305.6 854.3h7.8M311.9 842.3V851.8M308.0 851.8h7.8M314.2 841.2V852.7M310.3 852.7h7.8M316.6 839.1V850.8M312.7 850.8h7.8M318.9 838.1V847.7M315.0 847.7h7.8M321.2 836.7V848.9M317.4 848.9h7.8M323.6 835.7V845.3M319.7 845.3h7.8M325.9 834.6V844.6M322.1 844.6h7.8M328.3 834.7V844.6M324.4 844.6h7.8M330.7 829.7V839.2M326.8 839.2h7.8M333.0 828.3V836.9M329.1 836.9h7.8" stroke="#0c0c0c" stroke-width="1.2" fill="none"/>
<path d="M52.9 817.7V809.8M49.0 809.8h7.8M55.7 823.6V817.5M51.8 817.5h7.8M58.0 826.1V820.5M54.1 820.5h7.8M60.4 833.9V826.8M56.5 826.8h7.8M62.8 839.5V831.3M58.9 831.3h7.8M65.1 825.4V819.1M61.2 819.1h7.8M67.5 828.0V822.7M63.6 822.7h7.8M69.8 830.4V825.2M65.9 825.2h7.8M72.2 829.0V821.6M68.2 821.6h7.8M74.5 824.0V818.2M70.6 818.2h7.8M76.8 832.1V824.3M72.9 824.3h7.8M79.2 818.7V812.5M75.3 812.5h7.8M81.5 831.1V824.7M77.6 824.7h7.8M83.9 829.0V821.4M80.0 821.4h7.8M86.2 826.8V817.3M82.3 817.3h7.8M88.6 833.9V821.2M84.7 821.2h7.8M91.0 826.8V818.6M87.0 818.6h7.8M93.3 828.7V819.0M89.4 819.0h7.8M95.7 831.5V822.8M91.8 822.8h7.8M98.0 827.5V819.1M94.1 819.1h7.8M100.3 826.1V817.9M96.4 817.9h7.8M102.7 824.0V816.1M98.8 816.1h7.8M105.1 820.5V813.2M101.2 813.2h7.8M107.4 820.1V813.4M103.5 813.4h7.8M109.8 826.8V817.5M105.8 817.5h7.8M112.1 823.6V816.2M108.2 816.2h7.8M114.5 817.7V813.4M110.5 813.4h7.8M116.8 821.9V813.7M112.9 813.7h7.8M119.2 827.5V820.1M115.2 820.1h7.8M121.5 818.7V809.1M117.6 809.1h7.8M123.9 824.0V816.5M120.0 816.5h7.8M126.2 829.7V820.4M122.3 820.4h7.8M128.6 820.1V811.6M124.7 811.6h7.8M130.9 821.9V812.0M127.0 812.0h7.8M133.2 821.5V813.7M129.3 813.7h7.8M135.6 819.5V810.3M131.7 810.3h7.8M137.9 824.7V818.0M134.0 818.0h7.8M140.3 821.2V815.3M136.4 815.3h7.8M142.7 817.7V810.7M138.8 810.7h7.8M145.0 824.4V817.2M141.1 817.2h7.8M147.4 823.7V816.4M143.5 816.4h7.8M149.7 816.3V808.4M145.8 808.4h7.8M152.1 822.2V811.8M148.2 811.8h7.8M154.4 812.0V805.6M150.5 805.6h7.8M156.8 824.0V816.8M152.8 816.8h7.8M159.1 812.7V805.6M155.2 805.6h7.8M161.4 831.7V823.8M157.5 823.8h7.8M163.8 824.0V817.4M159.9 817.4h7.8M166.2 828.3V819.8M162.2 819.8h7.8M168.5 827.1V821.2M164.6 821.2h7.8M170.9 818.4V811.0M167.0 811.0h7.8M173.2 826.1V817.5M169.3 817.5h7.8M175.6 828.3V821.9M171.7 821.9h7.8M177.9 831.5V824.3M174.0 824.3h7.8M180.2 828.3V819.8M176.3 819.8h7.8M182.6 831.1V824.4M178.7 824.4h7.8M185.0 829.7V823.3M181.1 823.3h7.8M187.3 829.7V823.5M183.4 823.5h7.8M189.7 835.0V824.4M185.8 824.4h7.8M192.0 834.6V825.7M188.1 825.7h7.8M194.3 838.8V828.6M190.4 828.6h7.8M196.7 829.7V822.3M192.8 822.3h7.8M199.1 827.5V817.0M195.2 817.0h7.8M201.4 822.3V814.1M197.5 814.1h7.8M203.8 831.7V825.2M199.8 825.2h7.8M206.1 832.5V824.9M202.2 824.9h7.8M208.5 834.6V827.8M204.6 827.8h7.8M210.8 824.7V814.9M206.9 814.9h7.8M213.2 831.7V823.3M209.2 823.3h7.8M215.5 835.3V825.0M211.6 825.0h7.8M217.8 837.8V829.0M213.9 829.0h7.8M220.2 833.2V821.9M216.3 821.9h7.8M222.6 836.4V828.0M218.7 828.0h7.8M224.9 831.7V822.2M221.0 822.2h7.8M227.2 830.4V819.6M223.3 819.6h7.8M229.6 832.5V821.4M225.7 821.4h7.8M232.0 835.3V828.3M228.1 828.3h7.8M234.3 838.8V828.7M230.4 828.7h7.8M236.7 831.7V823.9M232.8 823.9h7.8M239.0 837.4V826.9M235.1 826.9h7.8M241.3 832.5V821.7M237.4 821.7h7.8M243.7 836.7V829.6M239.8 829.6h7.8M246.1 843.1V834.7M242.2 834.7h7.8M248.4 838.1V829.0M244.5 829.0h7.8M250.8 846.0V839.3M246.8 839.3h7.8M253.1 827.5V818.6M249.2 818.6h7.8M255.5 827.5V814.6M251.6 814.6h7.8M257.8 841.9V831.5M253.9 831.5h7.8M260.1 834.6V823.0M256.2 823.0h7.8M262.5 829.7V820.9M258.6 820.9h7.8M264.9 824.0V817.7M261.0 817.7h7.8M267.2 827.1V816.1M263.3 816.1h7.8M269.6 830.4V819.2M265.7 819.2h7.8M271.9 831.7V822.7M268.0 822.7h7.8M274.2 832.5V824.8M270.4 824.8h7.8M276.6 835.0V824.0M272.7 824.0h7.8M279.0 826.6V818.4M275.1 818.4h7.8M281.3 833.9V822.7M277.4 822.7h7.8M283.6 821.5V812.7M279.8 812.7h7.8M286.0 828.5V816.9M282.1 816.9h7.8M288.4 822.6V815.0M284.5 815.0h7.8M290.7 819.4V811.0M286.8 811.0h7.8M293.1 831.7V824.7M289.2 824.7h7.8M295.4 829.7V822.3M291.5 822.3h7.8M297.8 832.7V821.1M293.9 821.1h7.8M300.1 841.9V835.5M296.2 835.5h7.8M302.5 826.1V818.4M298.6 818.4h7.8M304.8 831.1V820.5M300.9 820.5h7.8M307.2 829.7V820.1M303.3 820.1h7.8M309.5 832.9V824.7M305.6 824.7h7.8M311.9 837.7V827.1M308.0 827.1h7.8M314.2 835.6V824.7M310.3 824.7h7.8M316.6 826.6V817.7M312.7 817.7h7.8M318.9 813.4V801.6M315.0 801.6h7.8M321.2 825.4V817.2M317.4 817.2h7.8M323.6 840.2V831.8M319.7 831.8h7.8M325.9 835.6V826.7M322.1 826.7h7.8M328.3 832.1V823.2M324.4 823.2h7.8M330.7 820.5V811.7M326.8 811.7h7.8M333.0 823.3V814.9M329.1 814.9h7.8" stroke="#0c0c0c" stroke-width="1.2" fill="none"/>
<polyline points="52.9,824.0 55.7,825.0 58.0,826.1 60.4,824.7 62.8,822.6 65.1,823.9 67.5,824.0 69.8,824.7 72.2,828.3 74.5,829.7 76.8,831.5 79.2,832.5 81.5,835.3 83.9,833.9 86.2,832.8 88.6,831.2 91.0,829.7 93.3,825.4 95.7,824.0 98.0,818.4 100.3,817.0 102.7,819.8 105.1,818.4 107.4,820.5 109.8,823.3 112.1,824.7 114.5,826.3 116.8,827.5 119.2,828.2 121.5,831.7 123.9,833.9 126.2,832.5 128.6,833.2 130.9,834.6 133.2,832.5 135.6,833.2 137.9,835.3 140.3,837.4 142.7,839.5 145.0,840.9 147.4,839.7 149.7,837.4 152.1,835.7 154.4,834.6 156.8,835.3 159.1,836.7 161.4,838.8 163.8,835.3 166.2,836.0 168.5,837.4 170.9,839.5 173.2,840.9 175.6,842.0 177.9,841.7 180.2,843.1 182.6,844.6 185.0,845.3 187.3,840.9 189.7,840.2 192.0,838.1 194.3,838.8 196.7,846.8 199.1,843.1 201.4,842.4 203.8,844.6 206.1,843.1 208.5,840.9 210.8,841.7 213.2,843.8 215.5,846.0 217.8,843.1 220.2,843.8 222.6,843.1 224.9,841.7 227.2,840.2 229.6,841.7 232.0,843.8 234.3,843.1 236.7,842.4 239.0,841.7 241.3,840.9 243.7,840.9 246.1,841.0 248.4,841.1 250.8,840.7 253.1,839.2 255.5,838.2 257.8,837.7 260.1,838.2 262.5,837.7 264.9,837.7 267.2,838.1 269.6,838.7 271.9,839.1 274.2,838.8 276.6,838.3 279.0,839.4 281.3,838.7 283.6,838.7 286.0,848.8 288.4,836.7 290.7,836.7 293.1,836.2 295.4,836.7 297.8,839.9 300.1,842.7 302.5,843.1 304.8,843.2 307.2,842.6 309.5,842.2 311.9,842.3 314.2,841.2 316.6,839.1 318.9,838.1 321.2,836.7 323.6,835.7 325.9,834.6 328.3,834.7 330.7,829.7 333.0,828.3" stroke="#000" stroke-width="2.2" fill="none" stroke-linejoin="round"/>
<path d="M50.0 824.0L52.9 821.1L55.8 824.0L52.9 826.9ZM52.8 825.0L55.7 822.1L58.6 825.0L55.7 827.9ZM55.1 826.1L58.0 823.2L60.9 826.1L58.0 829.0ZM57.5 824.7L60.4 821.8L63.3 824.7L60.4 827.6ZM59.9 822.6L62.8 819.7L65.7 822.6L62.8 825.5ZM62.2 823.9L65.1 821.0L68.0 823.9L65.1 826.8ZM64.5 824.0L67.5 821.1L70.4 824.0L67.5 826.9ZM66.9 824.7L69.8 821.8L72.7 824.7L69.8 827.6ZM69.2 828.3L72.2 825.4L75.1 828.3L72.2 831.2ZM71.6 829.7L74.5 826.8L77.4 829.7L74.5 832.6ZM73.9 831.5L76.8 828.6L79.8 831.5L76.8 834.4ZM76.3 832.5L79.2 829.6L82.1 832.5L79.2 835.4ZM78.6 835.3L81.5 832.4L84.5 835.3L81.5 838.2ZM81.0 833.9L83.9 831.0L86.8 833.9L83.9 836.8ZM83.3 832.8L86.2 829.9L89.2 832.8L86.2 835.7ZM85.7 831.2L88.6 828.3L91.5 831.2L88.6 834.1ZM88.0 829.7L91.0 826.8L93.9 829.7L91.0 832.6ZM90.4 825.4L93.3 822.5L96.2 825.4L93.3 828.3ZM92.8 824.0L95.7 821.1L98.6 824.0L95.7 826.9ZM95.1 818.4L98.0 815.5L100.9 818.4L98.0 821.3ZM97.4 817.0L100.3 814.1L103.2 817.0L100.3 819.9ZM99.8 819.8L102.7 816.9L105.6 819.8L102.7 822.7ZM102.2 818.4L105.1 815.5L108.0 818.4L105.1 821.3ZM104.5 820.5L107.4 817.6L110.3 820.5L107.4 823.4ZM106.8 823.3L109.8 820.4L112.7 823.3L109.8 826.2ZM109.2 824.7L112.1 821.8L115.0 824.7L112.1 827.6ZM111.5 826.3L114.5 823.4L117.4 826.3L114.5 829.2ZM113.9 827.5L116.8 824.6L119.7 827.5L116.8 830.4ZM116.2 828.2L119.2 825.3L122.1 828.2L119.2 831.1ZM118.6 831.7L121.5 828.8L124.4 831.7L121.5 834.6ZM121.0 833.9L123.9 831.0L126.8 833.9L123.9 836.8ZM123.3 832.5L126.2 829.6L129.1 832.5L126.2 835.4ZM125.7 833.2L128.6 830.3L131.5 833.2L128.6 836.1ZM128.0 834.6L130.9 831.7L133.8 834.6L130.9 837.5ZM130.3 832.5L133.2 829.6L136.2 832.5L133.2 835.4ZM132.7 833.2L135.6 830.3L138.5 833.2L135.6 836.1ZM135.0 835.3L137.9 832.4L140.8 835.3L137.9 838.2ZM137.4 837.4L140.3 834.5L143.2 837.4L140.3 840.3ZM139.8 839.5L142.7 836.6L145.6 839.5L142.7 842.4ZM142.1 840.9L145.0 838.0L147.9 840.9L145.0 843.8ZM144.5 839.7L147.4 836.8L150.3 839.7L147.4 842.6ZM146.8 837.4L149.7 834.5L152.6 837.4L149.7 840.3ZM149.2 835.7L152.1 832.8L155.0 835.7L152.1 838.6ZM151.5 834.6L154.4 831.7L157.3 834.6L154.4 837.5ZM153.8 835.3L156.8 832.4L159.7 835.3L156.8 838.2ZM156.2 836.7L159.1 833.8L162.0 836.7L159.1 839.6ZM158.5 838.8L161.4 835.9L164.3 838.8L161.4 841.7ZM160.9 835.3L163.8 832.4L166.7 835.3L163.8 838.2ZM163.2 836.0L166.2 833.1L169.1 836.0L166.2 838.9ZM165.6 837.4L168.5 834.5L171.4 837.4L168.5 840.3ZM168.0 839.5L170.9 836.6L173.8 839.5L170.9 842.4ZM170.3 840.9L173.2 838.0L176.1 840.9L173.2 843.8ZM172.7 842.0L175.6 839.1L178.5 842.0L175.6 844.9ZM175.0 841.7L177.9 838.8L180.8 841.7L177.9 844.6ZM177.3 843.1L180.2 840.2L183.2 843.1L180.2 846.0ZM179.7 844.6L182.6 841.7L185.5 844.6L182.6 847.5ZM182.1 845.3L185.0 842.4L187.9 845.3L185.0 848.2ZM184.4 840.9L187.3 838.0L190.2 840.9L187.3 843.8ZM186.8 840.2L189.7 837.3L192.6 840.2L189.7 843.1ZM189.1 838.1L192.0 835.2L194.9 838.1L192.0 841.0ZM191.4 838.8L194.3 835.9L197.2 838.8L194.3 841.7ZM193.8 846.8L196.7 843.9L199.6 846.8L196.7 849.7ZM196.2 843.1L199.1 840.2L202.0 843.1L199.1 846.0ZM198.5 842.4L201.4 839.5L204.3 842.4L201.4 845.3ZM200.8 844.6L203.8 841.7L206.7 844.6L203.8 847.5ZM203.2 843.1L206.1 840.2L209.0 843.1L206.1 846.0ZM205.6 840.9L208.5 838.0L211.4 840.9L208.5 843.8ZM207.9 841.7L210.8 838.8L213.7 841.7L210.8 844.6ZM210.2 843.8L213.2 840.9L216.1 843.8L213.2 846.7ZM212.6 846.0L215.5 843.1L218.4 846.0L215.5 848.9ZM214.9 843.1L217.8 840.2L220.8 843.1L217.8 846.0ZM217.3 843.8L220.2 840.9L223.1 843.8L220.2 846.7ZM219.7 843.1L222.6 840.2L225.5 843.1L222.6 846.0ZM222.0 841.7L224.9 838.8L227.8 841.7L224.9 844.6ZM224.3 840.2L227.2 837.3L230.2 840.2L227.2 843.1ZM226.7 841.7L229.6 838.8L232.5 841.7L229.6 844.6ZM229.1 843.8L232.0 840.9L234.9 843.8L232.0 846.7ZM231.4 843.1L234.3 840.2L237.2 843.1L234.3 846.0ZM233.8 842.4L236.7 839.5L239.6 842.4L236.7 845.3ZM236.1 841.7L239.0 838.8L241.9 841.7L239.0 844.6ZM238.4 840.9L241.3 838.0L244.2 840.9L241.3 843.8ZM240.8 840.9L243.7 838.0L246.6 840.9L243.7 843.8ZM243.2 841.0L246.1 838.1L249.0 841.0L246.1 843.9ZM245.5 841.1L248.4 838.2L251.3 841.1L248.4 844.0ZM247.8 840.7L250.8 837.8L253.7 840.7L250.8 843.6ZM250.2 839.2L253.1 836.3L256.0 839.2L253.1 842.1ZM252.6 838.2L255.5 835.3L258.4 838.2L255.5 841.1ZM254.9 837.7L257.8 834.8L260.7 837.7L257.8 840.6ZM257.2 838.2L260.1 835.3L263.0 838.2L260.1 841.1ZM259.6 837.7L262.5 834.8L265.4 837.7L262.5 840.6ZM262.0 837.7L264.9 834.8L267.8 837.7L264.9 840.6ZM264.3 838.1L267.2 835.2L270.1 838.1L267.2 841.0ZM266.7 838.7L269.6 835.8L272.4 838.7L269.6 841.6ZM269.0 839.1L271.9 836.2L274.8 839.1L271.9 842.0ZM271.4 838.8L274.2 835.9L277.1 838.8L274.2 841.7ZM273.7 838.3L276.6 835.4L279.5 838.3L276.6 841.2ZM276.1 839.4L279.0 836.5L281.9 839.4L279.0 842.3ZM278.4 838.7L281.3 835.8L284.2 838.7L281.3 841.6ZM280.8 838.7L283.6 835.8L286.5 838.7L283.6 841.6ZM283.1 848.8L286.0 845.9L288.9 848.8L286.0 851.7ZM285.5 836.7L288.4 833.8L291.2 836.7L288.4 839.6ZM287.8 836.7L290.7 833.8L293.6 836.7L290.7 839.6ZM290.2 836.2L293.1 833.3L295.9 836.2L293.1 839.1ZM292.5 836.7L295.4 833.8L298.3 836.7L295.4 839.6ZM294.9 839.9L297.8 837.0L300.6 839.9L297.8 842.8ZM297.2 842.7L300.1 839.8L303.0 842.7L300.1 845.6ZM299.6 843.1L302.5 840.2L305.4 843.1L302.5 846.0ZM301.9 843.2L304.8 840.3L307.7 843.2L304.8 846.1ZM304.3 842.6L307.2 839.7L310.1 842.6L307.2 845.5ZM306.6 842.2L309.5 839.3L312.4 842.2L309.5 845.1ZM309.0 842.3L311.9 839.4L314.8 842.3L311.9 845.2ZM311.3 841.2L314.2 838.3L317.1 841.2L314.2 844.1ZM313.7 839.1L316.6 836.2L319.4 839.1L316.6 842.0ZM316.0 838.1L318.9 835.2L321.8 838.1L318.9 841.0ZM318.4 836.7L321.2 833.8L324.1 836.7L321.2 839.6ZM320.7 835.7L323.6 832.8L326.5 835.7L323.6 838.6ZM323.1 834.6L325.9 831.7L328.8 834.6L325.9 837.5ZM325.4 834.7L328.3 831.8L331.2 834.7L328.3 837.6ZM327.8 829.7L330.7 826.8L333.6 829.7L330.7 832.6ZM330.1 828.3L333.0 825.4L335.9 828.3L333.0 831.2Z" fill="#000"/>
<polyline points="52.9,817.7 55.7,823.6 58.0,826.1 60.4,833.9 62.8,839.5 65.1,825.4 67.5,828.0 69.8,830.4 72.2,829.0 74.5,824.0 76.8,832.1 79.2,818.7 81.5,831.1 83.9,829.0 86.2,826.8 88.6,833.9 91.0,826.8 93.3,828.7 95.7,831.5 98.0,827.5 100.3,826.1 102.7,824.0 105.1,820.5 107.4,820.1 109.8,826.8 112.1,823.6 114.5,817.7 116.8,821.9 119.2,827.5 121.5,818.7 123.9,824.0 126.2,829.7 128.6,820.1 130.9,821.9 133.2,821.5 135.6,819.5 137.9,824.7 140.3,821.2 142.7,817.7 145.0,824.4 147.4,823.7 149.7,816.3 152.1,822.2 154.4,812.0 156.8,824.0 159.1,812.7 161.4,831.7 163.8,824.0 166.2,828.3 168.5,827.1 170.9,818.4 173.2,826.1 175.6,828.3 177.9,831.5 180.2,828.3 182.6,831.1 185.0,829.7 187.3,829.7 189.7,835.0 192.0,834.6 194.3,838.8 196.7,829.7 199.1,827.5 201.4,822.3 203.8,831.7 206.1,832.5 208.5,834.6 210.8,824.7 213.2,831.7 215.5,835.3 217.8,837.8 220.2,833.2 222.6,836.4 224.9,831.7 227.2,830.4 229.6,832.5 232.0,835.3 234.3,838.8 236.7,831.7 239.0,837.4 241.3,832.5 243.7,836.7 246.1,843.1 248.4,838.1 250.8,846.0 253.1,827.5 255.5,827.5 257.8,841.9 260.1,834.6 262.5,829.7 264.9,824.0 267.2,827.1 269.6,830.4 271.9,831.7 274.2,832.5 276.6,835.0 279.0,826.6 281.3,833.9 283.6,821.5 286.0,828.5 288.4,822.6 290.7,819.4 293.1,831.7 295.4,829.7 297.8,832.7 300.1,841.9 302.5,826.1 304.8,831.1 307.2,829.7 309.5,832.9 311.9,837.7 314.2,835.6 316.6,826.6 318.9,813.4 321.2,825.4 323.6,840.2 325.9,835.6 328.3,832.1 330.7,820.5 333.0,823.3" stroke="#000" stroke-width="1.2" fill="none"/>
<circle cx="52.9" cy="817.7" r="2.5" fill="#fff" stroke="#000" stroke-width="1.9"/>
<circle cx="55.7" cy="823.6" r="2.5" fill="#fff" stroke="#000" stroke-width="1.9"/>
<circle cx="58.0" cy="826.1" r="2.5" fill="#fff" stroke="#000" stroke-width="1.9"/>
<circle cx="60.4" cy="833.9" r="2.5" fill="#fff" stroke="#000" stroke-width="1.9"/>
<circle cx="62.8" cy="839.5" r="2.5" fill="#fff" stroke="#000" stroke-width="1.9"/>
<circle cx="65.1" cy="825.4" r="2.5" fill="#fff" stroke="#000" stroke-width="1.9"/>
<circle cx="67.5" cy="828.0" r="2.5" fill="#fff" stroke="#000" stroke-width="1.9"/>
<circle cx="69.8" cy="830.4" r="2.5" fill="#fff" stroke="#000" stroke-width="1.9"/>
<circle cx="72.2" cy="829.0" r="2.5" fill="#fff" stroke="#000" stroke-width="1.9"/>
<circle cx="74.5" cy="824.0" r="2.5" fill="#fff" stroke="#000" stroke-width="1.9"/>
<circle cx="76.8" cy="832.1" r="2.5" fill="#fff" stroke="#000" stroke-width="1.9"/>
<circle cx="79.2" cy="818.7" r="2.5" fill="#fff" stroke="#000" stroke-width="1.9"/>
<circle cx="81.5" cy="831.1" r="2.5" fill="#fff" stroke="#000" stroke-width="1.9"/>
<circle cx="83.9" cy="829.0" r="2.5" fill="#fff" stroke="#000" stroke-width="1.9"/>
<circle cx="86.2" cy="826.8" r="2.5" fill="#fff" stroke="#000" stroke-width="1.9"/>
<circle cx="88.6" cy="833.9" r="2.5" fill="#fff" stroke="#000" stroke-width="1.9"/>
<circle cx="91.0" cy="826.8" r="2.5" fill="#fff" stroke="#000" stroke-width="1.9"/>
<circle cx="93.3" cy="828.7" r="2.5" fill="#fff" stroke="#000" stroke-width="1.9"/>
<circle cx="95.7" cy="831.5" r="2.5" fill="#fff" stroke="#000" stroke-width="1.9"/>
<circle cx="98.0" cy="827.5" r="2.5" fill="#fff" stroke="#000" stroke-width="1.9"/>
<circle cx="100.3" cy="826.1" r="2.5" fill="#fff" stroke="#000" stroke-width="1.9"/>
<circle cx="102.7" cy="824.0" r="2.5" fill="#fff" stroke="#000" stroke-width="1.9"/>
<circle cx="105.1" cy="820.5" r="2.5" fill="#fff" stroke="#000" stroke-width="1.9"/>
<circle cx="107.4" cy="820.1" r="2.5" fill="#fff" stroke="#000" stroke-width="1.9"/>
<circle cx="109.8" cy="826.8" r="2.5" fill="#fff" stroke="#000" stroke-width="1.9"/>
<circle cx="112.1" cy="823.6" r="2.5" fill="#fff" stroke="#000" stroke-width="1.9"/>
<circle cx="114.5" cy="817.7" r="2.5" fill="#fff" stroke="#000" stroke-width="1.9"/>
<circle cx="116.8" cy="821.9" r="2.5" fill="#fff" stroke="#000" stroke-width="1.9"/>
<circle cx="119.2" cy="827.5" r="2.5" fill="#fff" stroke="#000" stroke-width="1.9"/>
<circle cx="121.5" cy="818.7" r="2.5" fill="#fff" stroke="#000" stroke-width="1.9"/>
<circle cx="123.9" cy="824.0" r="2.5" fill="#fff" stroke="#000" stroke-width="1.9"/>
<circle cx="126.2" cy="829.7" r="2.5" fill="#fff" stroke="#000" stroke-width="1.9"/>
<circle cx="128.6" cy="820.1" r="2.5" fill="#fff" stroke="#000" stroke-width="1.9"/>
<circle cx="130.9" cy="821.9" r="2.5" fill="#fff" stroke="#000" stroke-width="1.9"/>
<circle cx="133.2" cy="821.5" r="2.5" fill="#fff" stroke="#000" stroke-width="1.9"/>
<circle cx="135.6" cy="819.5" r="2.5" fill="#fff" stroke="#000" stroke-width="1.9"/>
<circle cx="137.9" cy="824.7" r="2.5" fill="#fff" stroke="#000" stroke-width="1.9"/>
<circle cx="140.3" cy="821.2" r="2.5" fill="#fff" stroke="#000" stroke-width="1.9"/>
<circle cx="142.7" cy="817.7" r="2.5" fill="#fff" stroke="#000" stroke-width="1.9"/>
<circle cx="145.0" cy="824.4" r="2.5" fill="#fff" stroke="#000" stroke-width="1.9"/>
<circle cx="147.4" cy="823.7" r="2.5" fill="#fff" stroke="#000" stroke-width="1.9"/>
<circle cx="149.7" cy="816.3" r="2.5" fill="#fff" stroke="#000" stroke-width="1.9"/>
<circle cx="152.1" cy="822.2" r="2.5" fill="#fff" stroke="#000" stroke-width="1.9"/>
<circle cx="154.4" cy="812.0" r="2.5" fill="#fff" stroke="#000" stroke-width="1.9"/>
<circle cx="156.8" cy="824.0" r="2.5" fill="#fff" stroke="#000" stroke-width="1.9"/>
<circle cx="159.1" cy="812.7" r="2.5" fill="#fff" stroke="#000" stroke-width="1.9"/>
<circle cx="161.4" cy="831.7" r="2.5" fill="#fff" stroke="#000" stroke-width="1.9"/>
<circle cx="163.8" cy="824.0" r="2.5" fill="#fff" stroke="#000" stroke-width="1.9"/>
<circle cx="166.2" cy="828.3" r="2.5" fill="#fff" stroke="#000" stroke-width="1.9"/>
<circle cx="168.5" cy="827.1" r="2.5" fill="#fff" stroke="#000" stroke-width="1.9"/>
<circle cx="170.9" cy="818.4" r="2.5" fill="#fff" stroke="#000" stroke-width="1.9"/>
<circle cx="173.2" cy="826.1" r="2.5" fill="#fff" stroke="#000" stroke-width="1.9"/>
<circle cx="175.6" cy="828.3" r="2.5" fill="#fff" stroke="#000" stroke-width="1.9"/>
<circle cx="177.9" cy="831.5" r="2.5" fill="#fff" stroke="#000" stroke-width="1.9"/>
<circle cx="180.2" cy="828.3" r="2.5" fill="#fff" stroke="#000" stroke-width="1.9"/>
<circle cx="182.6" cy="831.1" r="2.5" fill="#fff" stroke="#000" stroke-width="1.9"/>
<circle cx="185.0" cy="829.7" r="2.5" fill="#fff" stroke="#000" stroke-width="1.9"/>
<circle cx="187.3" cy="829.7" r="2.5" fill="#fff" stroke="#000" stroke-width="1.9"/>
<circle cx="189.7" cy="835.0" r="2.5" fill="#fff" stroke="#000" stroke-width="1.9"/>
<circle cx="192.0" cy="834.6" r="2.5" fill="#fff" stroke="#000" stroke-width="1.9"/>
<circle cx="194.3" cy="838.8" r="2.5" fill="#fff" stroke="#000" stroke-width="1.9"/>
<circle cx="196.7" cy="829.7" r="2.5" fill="#fff" stroke="#000" stroke-width="1.9"/>
<circle cx="199.1" cy="827.5" r="2.5" fill="#fff" stroke="#000" stroke-width="1.9"/>
<circle cx="201.4" cy="822.3" r="2.5" fill="#fff" stroke="#000" stroke-width="1.9"/>
<circle cx="203.8" cy="831.7" r="2.5" fill="#fff" stroke="#000" stroke-width="1.9"/>
<circle cx="206.1" cy="832.5" r="2.5" fill="#fff" stroke="#000" stroke-width="1.9"/>
<circle cx="208.5" cy="834.6" r="2.5" fill="#fff" stroke="#000" stroke-width="1.9"/>
<circle cx="210.8" cy="824.7" r="2.5" fill="#fff" stroke="#000" stroke-width="1.9"/>
<circle cx="213.2" cy="831.7" r="2.5" fill="#fff" stroke="#000" stroke-width="1.9"/>
<circle cx="215.5" cy="835.3" r="2.5" fill="#fff" stroke="#000" stroke-width="1.9"/>
<circle cx="217.8" cy="837.8" r="2.5" fill="#fff" stroke="#000" stroke-width="1.9"/>
<circle cx="220.2" cy="833.2" r="2.5" fill="#fff" stroke="#000" stroke-width="1.9"/>
<circle cx="222.6" cy="836.4" r="2.5" fill="#fff" stroke="#000" stroke-width="1.9"/>
<circle cx="224.9" cy="831.7" r="2.5" fill="#fff" stroke="#000" stroke-width="1.9"/>
<circle cx="227.2" cy="830.4" r="2.5" fill="#fff" stroke="#000" stroke-width="1.9"/>
<circle cx="229.6" cy="832.5" r="2.5" fill="#fff" stroke="#000" stroke-width="1.9"/>
<circle cx="232.0" cy="835.3" r="2.5" fill="#fff" stroke="#000" stroke-width="1.9"/>
<circle cx="234.3" cy="838.8" r="2.5" fill="#fff" stroke="#000" stroke-width="1.9"/>
<circle cx="236.7" cy="831.7" r="2.5" fill="#fff" stroke="#000" stroke-width="1.9"/>
<circle cx="239.0" cy="837.4" r="2.5" fill="#fff" stroke="#000" stroke-width="1.9"/>
<circle cx="241.3" cy="832.5" r="2.5" fill="#fff" stroke="#000" stroke-width="1.9"/>
<circle cx="243.7" cy="836.7" r="2.5" fill="#fff" stroke="#000" stroke-width="1.9"/>
<circle cx="246.1" cy="843.1" r="2.5" fill="#fff" stroke="#000" stroke-width="1.9"/>
<circle cx="248.4" cy="838.1" r="2.5" fill="#fff" stroke="#000" stroke-width="1.9"/>
<circle cx="250.8" cy="846.0" r="2.5" fill="#fff" stroke="#000" stroke-width="1.9"/>
<circle cx="253.1" cy="827.5" r="2.5" fill="#fff" stroke="#000" stroke-width="1.9"/>
<circle cx="255.5" cy="827.5" r="2.5" fill="#fff" stroke="#000" stroke-width="1.9"/>
<circle cx="257.8" cy="841.9" r="2.5" fill="#fff" stroke="#000" stroke-width="1.9"/>
<circle cx="260.1" cy="834.6" r="2.5" fill="#fff" stroke="#000" stroke-width="1.9"/>
<circle cx="262.5" cy="829.7" r="2.5" fill="#fff" stroke="#000" stroke-width="1.9"/>
<circle cx="264.9" cy="824.0" r="2.5" fill="#fff" stroke="#000" stroke-width="1.9"/>
<circle cx="267.2" cy="827.1" r="2.5" fill="#fff" stroke="#000" stroke-width="1.9"/>
<circle cx="269.6" cy="830.4" r="2.5" fill="#fff" stroke="#000" stroke-width="1.9"/>
<circle cx="271.9" cy="831.7" r="2.5" fill="#fff" stroke="#000" stroke-width="1.9"/>
<circle cx="274.2" cy="832.5" r="2.5" fill="#fff" stroke="#000" stroke-width="1.9"/>
<circle cx="276.6" cy="835.0" r="2.5" fill="#fff" stroke="#000" stroke-width="1.9"/>
<circle cx="279.0" cy="826.6" r="2.5" fill="#fff" stroke="#000" stroke-width="1.9"/>
<circle cx="281.3" cy="833.9" r="2.5" fill="#fff" stroke="#000" stroke-width="1.9"/>
<circle cx="283.6" cy="821.5" r="2.5" fill="#fff" stroke="#000" stroke-width="1.9"/>
<circle cx="286.0" cy="828.5" r="2.5" fill="#fff" stroke="#000" stroke-width="1.9"/>
<circle cx="288.4" cy="822.6" r="2.5" fill="#fff" stroke="#000" stroke-width="1.9"/>
<circle cx="290.7" cy="819.4" r="2.5" fill="#fff" stroke="#000" stroke-width="1.9"/>
<circle cx="293.1" cy="831.7" r="2.5" fill="#fff" stroke="#000" stroke-width="1.9"/>
<circle cx="295.4" cy="829.7" r="2.5" fill="#fff" stroke="#000" stroke-width="1.9"/>
<circle cx="297.8" cy="832.7" r="2.5" fill="#fff" stroke="#000" stroke-width="1.9"/>
<circle cx="300.1" cy="841.9" r="2.5" fill="#fff" stroke="#000" stroke-width="1.9"/>
<circle cx="302.5" cy="826.1" r="2.5" fill="#fff" stroke="#000" stroke-width="1.9"/>
<circle cx="304.8" cy="831.1" r="2.5" fill="#fff" stroke="#000" stroke-width="1.9"/>
<circle cx="307.2" cy="829.7" r="2.5" fill="#fff" stroke="#000" stroke-width="1.9"/>
<circle cx="309.5" cy="832.9" r="2.5" fill="#fff" stroke="#000" stroke-width="1.9"/>
<circle cx="311.9" cy="837.7" r="2.5" fill="#fff" stroke="#000" stroke-width="1.9"/>
<circle cx="314.2" cy="835.6" r="2.5" fill="#fff" stroke="#000" stroke-width="1.9"/>
<circle cx="316.6" cy="826.6" r="2.5" fill="#fff" stroke="#000" stroke-width="1.9"/>
<circle cx="318.9" cy="813.4" r="2.5" fill="#fff" stroke="#000" stroke-width="1.9"/>
<circle cx="321.2" cy="825.4" r="2.5" fill="#fff" stroke="#000" stroke-width="1.9"/>
<circle cx="323.6" cy="840.2" r="2.5" fill="#fff" stroke="#000" stroke-width="1.9"/>
<circle cx="325.9" cy="835.6" r="2.5" fill="#fff" stroke="#000" stroke-width="1.9"/>
<circle cx="328.3" cy="832.1" r="2.5" fill="#fff" stroke="#000" stroke-width="1.9"/>
<circle cx="330.7" cy="820.5" r="2.5" fill="#fff" stroke="#000" stroke-width="1.9"/>
<circle cx="333.0" cy="823.3" r="2.5" fill="#fff" stroke="#000" stroke-width="1.9"/>
<rect x="125.4" y="729.3" width="73.3" height="202.7" fill="#b2b2b2" fill-opacity="0.57"/>
<path d="M163.50 741.00L163.50 750.00M159.60 743.25L167.40 747.75M167.40 743.25L159.60 747.75" stroke="#0a0a0a" stroke-width="1.53" fill="none"/>
<text x="267.0" y="913.8" font-size="12.7" fill="#262626">N</text>
<text x="276.6" y="916.8" font-size="10.4" fill="#262626" textLength="21" lengthAdjust="spacingAndGlyphs">Term</text>
<text x="300.3" y="913.8" font-size="12.7" fill="#262626">=</text>
<text x="311.6" y="913.8" font-size="12.7" fill="#262626">10</text>
<text x="267.0" y="931.9" font-size="12.7" fill="#262626">N</text>
<text x="276.6" y="934.9" font-size="10.4" fill="#262626" textLength="33.5" lengthAdjust="spacingAndGlyphs">Preterm</text>
<text x="310.7" y="931.9" font-size="12.7" fill="#262626">=</text>
<text x="320.6" y="931.9" font-size="12.7" fill="#262626">20</text>
</g>
<g id="p6">
<path d="M427.5 721.0V930.0" stroke="#8a8a8a" stroke-width="1" fill="none"/>
<path d="M422.3 721.5H427.7" stroke="#8a8a8a" stroke-width="1"/>
<text x="412.1" y="726.5" font-size="15" text-anchor="end" fill="#262626">10</text>
<path d="M422.3 773.5H427.7" stroke="#8a8a8a" stroke-width="1"/>
<text x="412.1" y="778.7" font-size="15" text-anchor="end" fill="#262626">5</text>
<path d="M422.3 825.5H427.7" stroke="#8a8a8a" stroke-width="1"/>
<text x="412.1" y="830.8" font-size="15" text-anchor="end" fill="#262626">0</text>
<path d="M422.3 877.5H427.7" stroke="#8a8a8a" stroke-width="1"/>
<text x="412.1" y="883.0" font-size="15" text-anchor="end" fill="#262626">-5</text>
<path d="M422.3 929.5H427.7" stroke="#8a8a8a" stroke-width="1"/>
<text x="412.1" y="935.1" font-size="15" text-anchor="end" fill="#262626">-10</text>
<path d="M427.3 825.5H728.2" stroke="#8a8a8a" stroke-width="1"/>
<path d="M426.5 825.5v5" stroke="#8a8a8a" stroke-width="1"/>
<text x="427.6" y="955.2" font-size="15" text-anchor="middle" fill="#262626">0</text>
<path d="M464.5 825.5v5" stroke="#8a8a8a" stroke-width="1"/>
<text x="465.1" y="955.2" font-size="15" text-anchor="middle" fill="#262626">15</text>
<path d="M501.5 825.5v5" stroke="#8a8a8a" stroke-width="1"/>
<text x="502.6" y="955.2" font-size="15" text-anchor="middle" fill="#262626">30</text>
<path d="M539.5 825.5v5" stroke="#8a8a8a" stroke-width="1"/>
<text x="540.1" y="955.2" font-size="15" text-anchor="middle" fill="#262626">45</text>
<path d="M576.5 825.5v5" stroke="#8a8a8a" stroke-width="1"/>
<text x="577.6" y="955.2" font-size="15" text-anchor="middle" fill="#262626">60</text>
<path d="M614.5 825.5v5" stroke="#8a8a8a" stroke-width="1"/>
<text x="615.1" y="955.2" font-size="15" text-anchor="middle" fill="#262626">75</text>
<path d="M652.5 825.5v5" stroke="#8a8a8a" stroke-width="1"/>
<text x="652.6" y="955.2" font-size="15" text-anchor="middle" fill="#262626">90</text>
<path d="M689.5 825.5v5" stroke="#8a8a8a" stroke-width="1"/>
<text x="690.1" y="955.2" font-size="15" text-anchor="middle" fill="#262626">105</text>
<path d="M727.5 825.5v5" stroke="#8a8a8a" stroke-width="1"/>
<text x="727.6" y="955.2" font-size="15" text-anchor="middle" fill="#262626">120</text>
<text x="577.0" y="972.9" font-size="14.2" font-weight="bold" text-anchor="middle" fill="#111" stroke="#111" stroke-width="0.3">Beat</text>
<text transform="translate(398.9 826.2) rotate(-90)" font-size="14" font-weight="bold" text-anchor="middle" fill="#111" stroke="#111" stroke-width="0.3">% Change</text>
<path d="M503.0 729.3V926.4" stroke="#0a0a0a" stroke-width="2" stroke-dasharray="6.1 5.1" fill="none"/>
<path d="M428.8 825.6V839.5M424.9 839.5h7.8M431.8 828.7V839.2M427.9 839.2h7.8M434.3 830.3V840.7M430.4 840.7h7.8M436.8 824.5V838.4M432.9 838.4h7.8M439.3 825.1V835.7M435.4 835.7h7.8M441.8 824.5V835.9M437.9 835.9h7.8M444.4 825.2V836.1M440.5 836.1h7.8M446.9 825.6V838.9M443.0 838.9h7.8M449.4 827.4V839.5M445.5 839.5h7.8M451.9 828.4V842.0M448.0 842.0h7.8M454.4 828.7V842.8M450.5 842.8h7.8M456.9 830.3V843.7M453.0 843.7h7.8M459.4 820.1V834.3M455.5 834.3h7.8M461.9 820.8V833.3M458.0 833.3h7.8M464.4 824.5V838.5M460.5 838.5h7.8M466.9 821.5V833.2M463.0 833.2h7.8M469.4 823.7V838.0M465.5 838.0h7.8M471.9 826.6V840.0M468.0 840.0h7.8M474.5 820.1V834.6M470.6 834.6h7.8M477.0 823.0V835.9M473.1 835.9h7.8M479.5 823.7V837.5M475.6 837.5h7.8M482.0 825.6V836.0M478.1 836.0h7.8M484.5 828.7V838.8M480.6 838.8h7.8M487.0 829.6V840.9M483.1 840.9h7.8M489.5 828.1V836.9M485.6 836.9h7.8M492.0 826.6V838.1M488.1 838.1h7.8M494.5 828.7V839.4M490.6 839.4h7.8M497.0 825.6V835.9M493.1 835.9h7.8M499.5 827.4V835.3M495.6 835.3h7.8M502.0 831.8V839.6M498.1 839.6h7.8M504.5 825.2V835.0M500.6 835.0h7.8M507.1 822.3V833.0M503.2 833.0h7.8M509.6 821.5V832.8M505.7 832.8h7.8M512.1 820.8V831.6M508.2 831.6h7.8M514.6 818.6V831.0M510.7 831.0h7.8M517.1 815.7V832.7M513.2 832.7h7.8M519.6 812.8V829.3M515.7 829.3h7.8M522.1 811.3V823.1M518.2 823.1h7.8M524.6 807.7V822.6M520.7 822.6h7.8M527.1 805.5V817.0M523.2 817.0h7.8M529.6 803.3V815.0M525.7 815.0h7.8M532.1 801.8V816.3M528.2 816.3h7.8M534.6 801.7V814.0M530.7 814.0h7.8M537.2 801.6V818.0M533.3 818.0h7.8M539.7 801.9V817.8M535.8 817.8h7.8M542.2 803.1V816.2M538.3 816.2h7.8M544.7 802.4V816.1M540.8 816.1h7.8M547.2 803.1V819.3M543.3 819.3h7.8M549.7 800.9V814.5M545.8 814.5h7.8M552.2 803.1V815.0M548.3 815.0h7.8M554.7 803.4V818.0M550.8 818.0h7.8M557.2 803.8V817.9M553.3 817.9h7.8M559.7 804.0V816.9M555.8 816.9h7.8M562.2 804.5V818.8M558.3 818.8h7.8M564.7 805.8V817.7M560.8 817.7h7.8M567.2 806.0V818.3M563.3 818.3h7.8M569.8 806.0V817.6M565.9 817.6h7.8M572.3 805.3V817.8M568.4 817.8h7.8M574.8 804.6V819.0M570.9 819.0h7.8M577.3 804.5V819.3M573.4 819.3h7.8M579.8 805.6V820.3M575.9 820.3h7.8M582.3 806.8V822.4M578.4 822.4h7.8M584.8 807.9V820.9M580.9 820.9h7.8M587.3 808.2V820.0M583.4 820.0h7.8M589.8 808.1V823.4M585.9 823.4h7.8M592.3 807.5V820.8M588.4 820.8h7.8M594.8 807.0V821.7M590.9 821.7h7.8M597.3 806.8V820.7M593.4 820.7h7.8M599.9 806.2V818.6M596.0 818.6h7.8M602.4 805.3V817.7M598.5 817.7h7.8M604.9 806.0V818.5M601.0 818.5h7.8M607.4 806.0V819.8M603.5 819.8h7.8M609.9 806.2V821.7M606.0 821.7h7.8M612.4 806.8V819.6M608.5 819.6h7.8M614.9 806.5V818.6M611.0 818.6h7.8M617.4 806.0V819.7M613.5 819.7h7.8M619.9 805.0V819.2M616.0 819.2h7.8M622.4 804.5V816.9M618.5 816.9h7.8M624.9 804.4V815.2M621.0 815.2h7.8M627.4 803.8V814.0M623.5 814.0h7.8M629.9 803.5V816.1M626.0 816.1h7.8M632.5 803.1V812.6M628.6 812.6h7.8M635.0 802.6V811.8M631.1 811.8h7.8M637.5 801.6V811.0M633.6 811.0h7.8M640.0 802.3V814.3M636.1 814.3h7.8M642.5 801.6V812.3M638.6 812.3h7.8M645.0 799.5V812.1M641.1 812.1h7.8M647.5 801.6V814.8M643.6 814.8h7.8M650.0 800.1V811.2M646.1 811.2h7.8M652.5 798.0V808.8M648.6 808.8h7.8M655.0 797.2V812.7M651.1 812.7h7.8M657.5 792.8V807.0M653.6 807.0h7.8M660.0 791.4V808.1M656.1 808.1h7.8M662.6 793.6V810.9M658.7 810.9h7.8M665.1 789.9V804.6M661.2 804.6h7.8M667.6 790.7V804.1M663.7 804.1h7.8M670.1 793.6V810.3M666.2 810.3h7.8M672.6 795.8V813.4M668.7 813.4h7.8M675.1 790.1V806.0M671.2 806.0h7.8M677.6 780.4V797.7M673.7 797.7h7.8M680.1 795.8V809.5M676.2 809.5h7.8M682.6 795.0V807.4M678.7 807.4h7.8M685.1 796.5V812.6M681.2 812.6h7.8M687.6 792.8V808.7M683.7 808.7h7.8M690.1 792.2V807.3M686.2 807.3h7.8M692.6 795.0V809.3M688.7 809.3h7.8M695.2 792.2V806.6M691.3 806.6h7.8M697.7 792.2V803.2M693.8 803.2h7.8M700.2 795.8V809.9M696.3 809.9h7.8M702.7 790.7V803.3M698.8 803.3h7.8M705.2 789.9V800.2M701.3 800.2h7.8M707.7 790.7V803.6M703.8 803.6h7.8M710.2 792.2V806.1M706.3 806.1h7.8M712.7 793.6V805.1M708.8 805.1h7.8M715.2 793.6V804.2M711.3 804.2h7.8M717.7 795.0V806.6M713.8 806.6h7.8M720.2 796.5V809.4M716.3 809.4h7.8M722.7 797.2V810.2M718.8 810.2h7.8M725.3 791.4V805.8M721.4 805.8h7.8M727.8 790.7V807.3M723.9 807.3h7.8" stroke="#0c0c0c" stroke-width="1.2" fill="none"/>
<path d="M428.8 824.1V813.8M424.9 813.8h7.8M431.8 841.2V831.6M427.9 831.6h7.8M434.3 855.1V845.0M430.4 845.0h7.8M436.8 830.3V821.8M432.9 821.8h7.8M439.3 836.9V827.2M435.4 827.2h7.8M441.8 838.3V827.8M437.9 827.8h7.8M444.4 830.3V820.8M440.5 820.8h7.8M446.9 827.4V818.7M443.0 818.7h7.8M449.4 818.6V806.5M445.5 806.5h7.8M451.9 815.7V806.9M448.0 806.9h7.8M454.4 815.0V804.0M450.5 804.0h7.8M456.9 815.4V806.5M453.0 806.5h7.8M459.4 809.1V796.9M455.5 796.9h7.8M461.9 828.8V816.4M458.0 816.4h7.8M464.4 814.2V805.9M460.5 805.9h7.8M466.9 811.3V798.9M463.0 798.9h7.8M469.4 820.8V808.8M465.5 808.8h7.8M471.9 838.3V825.9M468.0 825.9h7.8M474.5 817.2V805.2M470.6 805.2h7.8M477.0 821.8V811.2M473.1 811.2h7.8M479.5 825.6V814.2M475.6 814.2h7.8M482.0 818.3V808.7M478.1 808.7h7.8M484.5 833.2V821.2M480.6 821.2h7.8M487.0 824.1V816.0M483.1 816.0h7.8M489.5 814.2V800.6M485.6 800.6h7.8M492.0 818.3V804.7M488.1 804.7h7.8M494.5 825.9V817.1M490.6 817.1h7.8M497.0 829.6V819.6M493.1 819.6h7.8M499.5 835.4V823.2M495.6 823.2h7.8M502.0 831.0V821.3M498.1 821.3h7.8M504.5 827.4V814.0M500.6 814.0h7.8M507.1 839.1V826.2M503.2 826.2h7.8M509.6 842.0V830.8M505.7 830.8h7.8M512.1 810.2V799.5M508.2 799.5h7.8M514.6 811.3V799.7M510.7 799.7h7.8M517.1 815.4V800.8M513.2 800.8h7.8M519.6 822.3V810.1M515.7 810.1h7.8M522.1 802.2V789.4M518.2 789.4h7.8M524.6 817.2V806.3M520.7 806.3h7.8M527.1 803.3V793.3M523.2 793.3h7.8M529.6 777.0V762.6M525.7 762.6h7.8M532.1 787.2V771.1M528.2 771.1h7.8M534.6 801.6V787.5M530.7 787.5h7.8M537.2 781.5V769.0M533.3 769.0h7.8M539.7 767.7V751.2M535.8 751.2h7.8M542.2 791.2V779.1M538.3 779.1h7.8M544.7 805.6V788.6M540.8 788.6h7.8M547.2 793.3V782.3M543.3 782.3h7.8M549.7 775.3V759.9M545.8 759.9h7.8M552.2 776.6V760.9M548.3 760.9h7.8M554.7 801.6V786.0M550.8 786.0h7.8M557.2 792.4V773.5M553.3 773.5h7.8M559.7 797.2V779.7M555.8 779.7h7.8M562.2 795.8V776.6M558.3 776.6h7.8M564.7 805.3V791.6M560.8 791.6h7.8M567.2 805.6V787.1M563.3 787.1h7.8M569.8 800.2V787.8M565.9 787.8h7.8M572.3 787.7V770.9M568.4 770.9h7.8M574.8 795.8V782.8M570.9 782.8h7.8M577.3 791.0V779.7M573.4 779.7h7.8M579.8 803.1V788.6M575.9 788.6h7.8M582.3 816.0V796.0M578.4 796.0h7.8M584.8 820.9V801.5M580.9 801.5h7.8M587.3 804.5V776.8M583.4 776.8h7.8M589.8 818.0V800.9M585.9 800.9h7.8M592.3 812.6V798.3M588.4 798.3h7.8M594.8 801.6V784.1M590.9 784.1h7.8M597.3 811.1V799.4M593.4 799.4h7.8M599.9 808.2V797.0M596.0 797.0h7.8M602.4 803.4V781.9M598.5 781.9h7.8M604.9 808.2V790.6M601.0 790.6h7.8M607.4 822.1V805.4M603.5 805.4h7.8M609.9 821.3V804.0M606.0 804.0h7.8M612.4 813.3V797.7M608.5 797.7h7.8M614.9 809.6V791.8M611.0 791.8h7.8M617.4 809.6V795.8M613.5 795.8h7.8M619.9 821.3V808.4M616.0 808.4h7.8M622.4 816.0V801.3M618.5 801.3h7.8M624.9 809.2V793.8M621.0 793.8h7.8M627.4 791.8V777.6M623.5 777.6h7.8M629.9 781.2V762.0M626.0 762.0h7.8M632.5 801.4V782.8M628.6 782.8h7.8M635.0 810.4V792.2M631.1 792.2h7.8M637.5 819.1V803.1M633.6 803.1h7.8M640.0 821.3V802.6M636.1 802.6h7.8M642.5 814.1V801.1M638.6 801.1h7.8M645.0 804.7V790.4M641.1 790.4h7.8M647.5 803.1V786.0M643.6 786.0h7.8M650.0 831.1V820.6M646.1 820.6h7.8M652.5 825.0V806.2M648.6 806.2h7.8M655.0 814.1V801.4M651.1 801.4h7.8M657.5 825.5V814.6M653.6 814.6h7.8M660.0 819.1V804.8M656.1 804.8h7.8M662.6 816.9V804.3M658.7 804.3h7.8M665.1 819.1V801.1M661.2 801.1h7.8M667.6 824.8V807.8M663.7 807.8h7.8M670.1 816.9V800.3M666.2 800.3h7.8M672.6 796.2V782.8M668.7 782.8h7.8M675.1 817.7V805.6M671.2 805.6h7.8M677.6 815.2V801.7M673.7 801.7h7.8M680.1 822.4V806.9M676.2 806.9h7.8M682.6 830.1V818.2M678.7 818.2h7.8M685.1 811.4V795.7M681.2 795.7h7.8M687.6 819.1V806.9M683.7 806.9h7.8M690.1 804.1V785.5M686.2 785.5h7.8M692.6 814.1V795.1M688.7 795.1h7.8M695.2 806.5V790.1M691.3 790.1h7.8M697.7 820.2V804.6M693.8 804.6h7.8M700.2 820.6V809.4M696.3 809.4h7.8M702.7 824.2V812.4M698.8 812.4h7.8M705.2 809.6V787.7M701.3 787.7h7.8M707.7 821.3V803.5M703.8 803.5h7.8M710.2 819.1V801.8M706.3 801.8h7.8M712.7 812.9V800.2M708.8 800.2h7.8M715.2 832.3V820.4M711.3 820.4h7.8M717.7 813.6V796.6M713.8 796.6h7.8M720.2 793.6V777.6M716.3 777.6h7.8M722.7 802.3V789.1M718.8 789.1h7.8M725.3 816.9V800.4M721.4 800.4h7.8M727.8 804.1V789.1M723.9 789.1h7.8" stroke="#0c0c0c" stroke-width="1.2" fill="none"/>
<polyline points="428.8,825.6 431.8,828.7 434.3,830.3 436.8,824.5 439.3,825.1 441.8,824.5 444.4,825.2 446.9,825.6 449.4,827.4 451.9,828.4 454.4,828.7 456.9,830.3 459.4,820.1 461.9,820.8 464.4,824.5 466.9,821.5 469.4,823.7 471.9,826.6 474.5,820.1 477.0,823.0 479.5,823.7 482.0,825.6 484.5,828.7 487.0,829.6 489.5,828.1 492.0,826.6 494.5,828.7 497.0,825.6 499.5,827.4 502.0,831.8 504.5,825.2 507.1,822.3 509.6,821.5 512.1,820.8 514.6,818.6 517.1,815.7 519.6,812.8 522.1,811.3 524.6,807.7 527.1,805.5 529.6,803.3 532.1,801.8 534.6,801.7 537.2,801.6 539.7,801.9 542.2,803.1 544.7,802.4 547.2,803.1 549.7,800.9 552.2,803.1 554.7,803.4 557.2,803.8 559.7,804.0 562.2,804.5 564.7,805.8 567.2,806.0 569.8,806.0 572.3,805.3 574.8,804.6 577.3,804.5 579.8,805.6 582.3,806.8 584.8,807.9 587.3,808.2 589.8,808.1 592.3,807.5 594.8,807.0 597.3,806.8 599.9,806.2 602.4,805.3 604.9,806.0 607.4,806.0 609.9,806.2 612.4,806.8 614.9,806.5 617.4,806.0 619.9,805.0 622.4,804.5 624.9,804.4 627.4,803.8 629.9,803.5 632.5,803.1 635.0,802.6 637.5,801.6 640.0,802.3 642.5,801.6 645.0,799.5 647.5,801.6 650.0,800.1 652.5,798.0 655.0,797.2 657.5,792.8 660.0,791.4 662.6,793.6 665.1,789.9 667.6,790.7 670.1,793.6 672.6,795.8 675.1,790.1 677.6,780.4 680.1,795.8 682.6,795.0 685.1,796.5 687.6,792.8 690.1,792.2 692.6,795.0 695.2,792.2 697.7,792.2 700.2,795.8 702.7,790.7 705.2,789.9 707.7,790.7 710.2,792.2 712.7,793.6 715.2,793.6 717.7,795.0 720.2,796.5 722.7,797.2 725.3,791.4 727.8,790.7" stroke="#000" stroke-width="2.2" fill="none" stroke-linejoin="round"/>
<path d="M425.9 825.6L428.8 822.7L431.7 825.6L428.8 828.5ZM428.9 828.7L431.8 825.8L434.7 828.7L431.8 831.6ZM431.4 830.3L434.3 827.4L437.2 830.3L434.3 833.2ZM433.9 824.5L436.8 821.6L439.7 824.5L436.8 827.4ZM436.4 825.1L439.3 822.2L442.2 825.1L439.3 828.0ZM438.9 824.5L441.8 821.6L444.7 824.5L441.8 827.4ZM441.5 825.2L444.4 822.3L447.3 825.2L444.4 828.1ZM444.0 825.6L446.9 822.7L449.8 825.6L446.9 828.5ZM446.5 827.4L449.4 824.5L452.3 827.4L449.4 830.3ZM449.0 828.4L451.9 825.5L454.8 828.4L451.9 831.3ZM451.5 828.7L454.4 825.8L457.3 828.7L454.4 831.6ZM454.0 830.3L456.9 827.4L459.8 830.3L456.9 833.2ZM456.5 820.1L459.4 817.2L462.3 820.1L459.4 823.0ZM459.0 820.8L461.9 817.9L464.8 820.8L461.9 823.7ZM461.5 824.5L464.4 821.6L467.3 824.5L464.4 827.4ZM464.0 821.5L466.9 818.6L469.8 821.5L466.9 824.4ZM466.5 823.7L469.4 820.8L472.3 823.7L469.4 826.6ZM469.0 826.6L471.9 823.7L474.8 826.6L471.9 829.5ZM471.6 820.1L474.5 817.2L477.4 820.1L474.5 823.0ZM474.1 823.0L477.0 820.1L479.9 823.0L477.0 825.9ZM476.6 823.7L479.5 820.8L482.4 823.7L479.5 826.6ZM479.1 825.6L482.0 822.7L484.9 825.6L482.0 828.5ZM481.6 828.7L484.5 825.8L487.4 828.7L484.5 831.6ZM484.1 829.6L487.0 826.7L489.9 829.6L487.0 832.5ZM486.6 828.1L489.5 825.2L492.4 828.1L489.5 831.0ZM489.1 826.6L492.0 823.7L494.9 826.6L492.0 829.5ZM491.6 828.7L494.5 825.8L497.4 828.7L494.5 831.6ZM494.1 825.6L497.0 822.7L499.9 825.6L497.0 828.5ZM496.6 827.4L499.5 824.5L502.4 827.4L499.5 830.3ZM499.1 831.8L502.0 828.9L504.9 831.8L502.0 834.7ZM501.6 825.2L504.5 822.3L507.4 825.2L504.5 828.1ZM504.2 822.3L507.1 819.4L510.0 822.3L507.1 825.2ZM506.7 821.5L509.6 818.6L512.5 821.5L509.6 824.4ZM509.2 820.8L512.1 817.9L515.0 820.8L512.1 823.7ZM511.7 818.6L514.6 815.7L517.5 818.6L514.6 821.5ZM514.2 815.7L517.1 812.8L520.0 815.7L517.1 818.6ZM516.7 812.8L519.6 809.9L522.5 812.8L519.6 815.7ZM519.2 811.3L522.1 808.4L525.0 811.3L522.1 814.2ZM521.7 807.7L524.6 804.8L527.5 807.7L524.6 810.6ZM524.2 805.5L527.1 802.6L530.0 805.5L527.1 808.4ZM526.7 803.3L529.6 800.4L532.5 803.3L529.6 806.2ZM529.2 801.8L532.1 798.9L535.0 801.8L532.1 804.7ZM531.7 801.7L534.6 798.8L537.5 801.7L534.6 804.6ZM534.3 801.6L537.2 798.7L540.1 801.6L537.2 804.5ZM536.8 801.9L539.7 799.0L542.6 801.9L539.7 804.8ZM539.3 803.1L542.2 800.2L545.1 803.1L542.2 806.0ZM541.8 802.4L544.7 799.5L547.6 802.4L544.7 805.3ZM544.3 803.1L547.2 800.2L550.1 803.1L547.2 806.0ZM546.8 800.9L549.7 798.0L552.6 800.9L549.7 803.8ZM549.3 803.1L552.2 800.2L555.1 803.1L552.2 806.0ZM551.8 803.4L554.7 800.5L557.6 803.4L554.7 806.3ZM554.3 803.8L557.2 800.9L560.1 803.8L557.2 806.7ZM556.8 804.0L559.7 801.1L562.6 804.0L559.7 806.9ZM559.3 804.5L562.2 801.6L565.1 804.5L562.2 807.4ZM561.8 805.8L564.7 802.9L567.6 805.8L564.7 808.7ZM564.3 806.0L567.2 803.1L570.1 806.0L567.2 808.9ZM566.9 806.0L569.8 803.1L572.7 806.0L569.8 808.9ZM569.4 805.3L572.3 802.4L575.2 805.3L572.3 808.2ZM571.9 804.6L574.8 801.7L577.7 804.6L574.8 807.5ZM574.4 804.5L577.3 801.6L580.2 804.5L577.3 807.4ZM576.9 805.6L579.8 802.7L582.7 805.6L579.8 808.5ZM579.4 806.8L582.3 803.9L585.2 806.8L582.3 809.7ZM581.9 807.9L584.8 805.0L587.7 807.9L584.8 810.8ZM584.4 808.2L587.3 805.3L590.2 808.2L587.3 811.1ZM586.9 808.1L589.8 805.2L592.7 808.1L589.8 811.0ZM589.4 807.5L592.3 804.6L595.2 807.5L592.3 810.4ZM591.9 807.0L594.8 804.1L597.7 807.0L594.8 809.9ZM594.4 806.8L597.3 803.9L600.2 806.8L597.3 809.7ZM597.0 806.2L599.9 803.3L602.8 806.2L599.9 809.1ZM599.5 805.3L602.4 802.4L605.3 805.3L602.4 808.2ZM602.0 806.0L604.9 803.1L607.8 806.0L604.9 808.9ZM604.5 806.0L607.4 803.1L610.3 806.0L607.4 808.9ZM607.0 806.2L609.9 803.3L612.8 806.2L609.9 809.1ZM609.5 806.8L612.4 803.9L615.3 806.8L612.4 809.7ZM612.0 806.5L614.9 803.6L617.8 806.5L614.9 809.4ZM614.5 806.0L617.4 803.1L620.3 806.0L617.4 808.9ZM617.0 805.0L619.9 802.1L622.8 805.0L619.9 807.9ZM619.5 804.5L622.4 801.6L625.3 804.5L622.4 807.4ZM622.0 804.4L624.9 801.5L627.8 804.4L624.9 807.3ZM624.5 803.8L627.4 800.9L630.3 803.8L627.4 806.7ZM627.0 803.5L629.9 800.6L632.8 803.5L629.9 806.4ZM629.6 803.1L632.5 800.2L635.4 803.1L632.5 806.0ZM632.1 802.6L635.0 799.7L637.9 802.6L635.0 805.5ZM634.6 801.6L637.5 798.7L640.4 801.6L637.5 804.5ZM637.1 802.3L640.0 799.4L642.9 802.3L640.0 805.2ZM639.6 801.6L642.5 798.7L645.4 801.6L642.5 804.5ZM642.1 799.5L645.0 796.6L647.9 799.5L645.0 802.4ZM644.6 801.6L647.5 798.7L650.4 801.6L647.5 804.5ZM647.1 800.1L650.0 797.2L652.9 800.1L650.0 803.0ZM649.6 798.0L652.5 795.1L655.4 798.0L652.5 800.9ZM652.1 797.2L655.0 794.3L657.9 797.2L655.0 800.1ZM654.6 792.8L657.5 789.9L660.4 792.8L657.5 795.7ZM657.1 791.4L660.0 788.5L662.9 791.4L660.0 794.3ZM659.7 793.6L662.6 790.7L665.5 793.6L662.6 796.5ZM662.2 789.9L665.1 787.0L668.0 789.9L665.1 792.8ZM664.7 790.7L667.6 787.8L670.5 790.7L667.6 793.6ZM667.2 793.6L670.1 790.7L673.0 793.6L670.1 796.5ZM669.7 795.8L672.6 792.9L675.5 795.8L672.6 798.7ZM672.2 790.1L675.1 787.2L678.0 790.1L675.1 793.0ZM674.7 780.4L677.6 777.5L680.5 780.4L677.6 783.3ZM677.2 795.8L680.1 792.9L683.0 795.8L680.1 798.7ZM679.7 795.0L682.6 792.1L685.5 795.0L682.6 797.9ZM682.2 796.5L685.1 793.6L688.0 796.5L685.1 799.4ZM684.7 792.8L687.6 789.9L690.5 792.8L687.6 795.7ZM687.2 792.2L690.1 789.3L693.0 792.2L690.1 795.1ZM689.7 795.0L692.6 792.1L695.5 795.0L692.6 797.9ZM692.3 792.2L695.2 789.3L698.1 792.2L695.2 795.1ZM694.8 792.2L697.7 789.3L700.6 792.2L697.7 795.1ZM697.3 795.8L700.2 792.9L703.1 795.8L700.2 798.7ZM699.8 790.7L702.7 787.8L705.6 790.7L702.7 793.6ZM702.3 789.9L705.2 787.0L708.1 789.9L705.2 792.8ZM704.8 790.7L707.7 787.8L710.6 790.7L707.7 793.6ZM707.3 792.2L710.2 789.3L713.1 792.2L710.2 795.1ZM709.8 793.6L712.7 790.7L715.6 793.6L712.7 796.5ZM712.3 793.6L715.2 790.7L718.1 793.6L715.2 796.5ZM714.8 795.0L717.7 792.1L720.6 795.0L717.7 797.9ZM717.3 796.5L720.2 793.6L723.1 796.5L720.2 799.4ZM719.8 797.2L722.7 794.3L725.6 797.2L722.7 800.1ZM722.4 791.4L725.3 788.5L728.2 791.4L725.3 794.3ZM724.9 790.7L727.8 787.8L730.7 790.7L727.8 793.6Z" fill="#000"/>
<polyline points="428.8,824.1 431.8,841.2 434.3,855.1 436.8,830.3 439.3,836.9 441.8,838.3 444.4,830.3 446.9,827.4 449.4,818.6 451.9,815.7 454.4,815.0 456.9,815.4 459.4,809.1 461.9,828.8 464.4,814.2 466.9,811.3 469.4,820.8 471.9,838.3 474.5,817.2 477.0,821.8 479.5,825.6 482.0,818.3 484.5,833.2 487.0,824.1 489.5,814.2 492.0,818.3 494.5,825.9 497.0,829.6 499.5,835.4 502.0,831.0 504.5,827.4 507.1,839.1 509.6,842.0 512.1,810.2 514.6,811.3 517.1,815.4 519.6,822.3 522.1,802.2 524.6,817.2 527.1,803.3 529.6,777.0 532.1,787.2 534.6,801.6 537.2,781.5 539.7,767.7 542.2,791.2 544.7,805.6 547.2,793.3 549.7,775.3 552.2,776.6 554.7,801.6 557.2,792.4 559.7,797.2 562.2,795.8 564.7,805.3 567.2,805.6 569.8,800.2 572.3,787.7 574.8,795.8 577.3,791.0 579.8,803.1 582.3,816.0 584.8,820.9 587.3,804.5 589.8,818.0 592.3,812.6 594.8,801.6 597.3,811.1 599.9,808.2 602.4,803.4 604.9,808.2 607.4,822.1 609.9,821.3 612.4,813.3 614.9,809.6 617.4,809.6 619.9,821.3 622.4,816.0 624.9,809.2 627.4,791.8 629.9,781.2 632.5,801.4 635.0,810.4 637.5,819.1 640.0,821.3 642.5,814.1 645.0,804.7 647.5,803.1 650.0,831.1 652.5,825.0 655.0,814.1 657.5,825.5 660.0,819.1 662.6,816.9 665.1,819.1 667.6,824.8 670.1,816.9 672.6,796.2 675.1,817.7 677.6,815.2 680.1,822.4 682.6,830.1 685.1,811.4 687.6,819.1 690.1,804.1 692.6,814.1 695.2,806.5 697.7,820.2 700.2,820.6 702.7,824.2 705.2,809.6 707.7,821.3 710.2,819.1 712.7,812.9 715.2,832.3 717.7,813.6 720.2,793.6 722.7,802.3 725.3,816.9 727.8,804.1" stroke="#000" stroke-width="1.2" fill="none"/>
<circle cx="428.8" cy="824.1" r="2.5" fill="#fff" stroke="#000" stroke-width="1.9"/>
<circle cx="431.8" cy="841.2" r="2.5" fill="#fff" stroke="#000" stroke-width="1.9"/>
<circle cx="434.3" cy="855.1" r="2.5" fill="#fff" stroke="#000" stroke-width="1.9"/>
<circle cx="436.8" cy="830.3" r="2.5" fill="#fff" stroke="#000" stroke-width="1.9"/>
<circle cx="439.3" cy="836.9" r="2.5" fill="#fff" stroke="#000" stroke-width="1.9"/>
<circle cx="441.8" cy="838.3" r="2.5" fill="#fff" stroke="#000" stroke-width="1.9"/>
<circle cx="444.4" cy="830.3" r="2.5" fill="#fff" stroke="#000" stroke-width="1.9"/>
<circle cx="446.9" cy="827.4" r="2.5" fill="#fff" stroke="#000" stroke-width="1.9"/>
<circle cx="449.4" cy="818.6" r="2.5" fill="#fff" stroke="#000" stroke-width="1.9"/>
<circle cx="451.9" cy="815.7" r="2.5" fill="#fff" stroke="#000" stroke-width="1.9"/>
<circle cx="454.4" cy="815.0" r="2.5" fill="#fff" stroke="#000" stroke-width="1.9"/>
<circle cx="456.9" cy="815.4" r="2.5" fill="#fff" stroke="#000" stroke-width="1.9"/>
<circle cx="459.4" cy="809.1" r="2.5" fill="#fff" stroke="#000" stroke-width="1.9"/>
<circle cx="461.9" cy="828.8" r="2.5" fill="#fff" stroke="#000" stroke-width="1.9"/>
<circle cx="464.4" cy="814.2" r="2.5" fill="#fff" stroke="#000" stroke-width="1.9"/>
<circle cx="466.9" cy="811.3" r="2.5" fill="#fff" stroke="#000" stroke-width="1.9"/>
<circle cx="469.4" cy="820.8" r="2.5" fill="#fff" stroke="#000" stroke-width="1.9"/>
<circle cx="471.9" cy="838.3" r="2.5" fill="#fff" stroke="#000" stroke-width="1.9"/>
<circle cx="474.5" cy="817.2" r="2.5" fill="#fff" stroke="#000" stroke-width="1.9"/>
<circle cx="477.0" cy="821.8" r="2.5" fill="#fff" stroke="#000" stroke-width="1.9"/>
<circle cx="479.5" cy="825.6" r="2.5" fill="#fff" stroke="#000" stroke-width="1.9"/>
<circle cx="482.0" cy="818.3" r="2.5" fill="#fff" stroke="#000" stroke-width="1.9"/>
<circle cx="484.5" cy="833.2" r="2.5" fill="#fff" stroke="#000" stroke-width="1.9"/>
<circle cx="487.0" cy="824.1" r="2.5" fill="#fff" stroke="#000" stroke-width="1.9"/>
<circle cx="489.5" cy="814.2" r="2.5" fill="#fff" stroke="#000" stroke-width="1.9"/>
<circle cx="492.0" cy="818.3" r="2.5" fill="#fff" stroke="#000" stroke-width="1.9"/>
<circle cx="494.5" cy="825.9" r="2.5" fill="#fff" stroke="#000" stroke-width="1.9"/>
<circle cx="497.0" cy="829.6" r="2.5" fill="#fff" stroke="#000" stroke-width="1.9"/>
<circle cx="499.5" cy="835.4" r="2.5" fill="#fff" stroke="#000" stroke-width="1.9"/>
<circle cx="502.0" cy="831.0" r="2.5" fill="#fff" stroke="#000" stroke-width="1.9"/>
<circle cx="504.5" cy="827.4" r="2.5" fill="#fff" stroke="#000" stroke-width="1.9"/>
<circle cx="507.1" cy="839.1" r="2.5" fill="#fff" stroke="#000" stroke-width="1.9"/>
<circle cx="509.6" cy="842.0" r="2.5" fill="#fff" stroke="#000" stroke-width="1.9"/>
<circle cx="512.1" cy="810.2" r="2.5" fill="#fff" stroke="#000" stroke-width="1.9"/>
<circle cx="514.6" cy="811.3" r="2.5" fill="#fff" stroke="#000" stroke-width="1.9"/>
<circle cx="517.1" cy="815.4" r="2.5" fill="#fff" stroke="#000" stroke-width="1.9"/>
<circle cx="519.6" cy="822.3" r="2.5" fill="#fff" stroke="#000" stroke-width="1.9"/>
<circle cx="522.1" cy="802.2" r="2.5" fill="#fff" stroke="#000" stroke-width="1.9"/>
<circle cx="524.6" cy="817.2" r="2.5" fill="#fff" stroke="#000" stroke-width="1.9"/>
<circle cx="527.1" cy="803.3" r="2.5" fill="#fff" stroke="#000" stroke-width="1.9"/>
<circle cx="529.6" cy="777.0" r="2.5" fill="#fff" stroke="#000" stroke-width="1.9"/>
<circle cx="532.1" cy="787.2" r="2.5" fill="#fff" stroke="#000" stroke-width="1.9"/>
<circle cx="534.6" cy="801.6" r="2.5" fill="#fff" stroke="#000" stroke-width="1.9"/>
<circle cx="537.2" cy="781.5" r="2.5" fill="#fff" stroke="#000" stroke-width="1.9"/>
<circle cx="539.7" cy="767.7" r="2.5" fill="#fff" stroke="#000" stroke-width="1.9"/>
<circle cx="542.2" cy="791.2" r="2.5" fill="#fff" stroke="#000" stroke-width="1.9"/>
<circle cx="544.7" cy="805.6" r="2.5" fill="#fff" stroke="#000" stroke-width="1.9"/>
<circle cx="547.2" cy="793.3" r="2.5" fill="#fff" stroke="#000" stroke-width="1.9"/>
<circle cx="549.7" cy="775.3" r="2.5" fill="#fff" stroke="#000" stroke-width="1.9"/>
<circle cx="552.2" cy="776.6" r="2.5" fill="#fff" stroke="#000" stroke-width="1.9"/>
<circle cx="554.7" cy="801.6" r="2.5" fill="#fff" stroke="#000" stroke-width="1.9"/>
<circle cx="557.2" cy="792.4" r="2.5" fill="#fff" stroke="#000" stroke-width="1.9"/>
<circle cx="559.7" cy="797.2" r="2.5" fill="#fff" stroke="#000" stroke-width="1.9"/>
<circle cx="562.2" cy="795.8" r="2.5" fill="#fff" stroke="#000" stroke-width="1.9"/>
<circle cx="564.7" cy="805.3" r="2.5" fill="#fff" stroke="#000" stroke-width="1.9"/>
<circle cx="567.2" cy="805.6" r="2.5" fill="#fff" stroke="#000" stroke-width="1.9"/>
<circle cx="569.8" cy="800.2" r="2.5" fill="#fff" stroke="#000" stroke-width="1.9"/>
<circle cx="572.3" cy="787.7" r="2.5" fill="#fff" stroke="#000" stroke-width="1.9"/>
<circle cx="574.8" cy="795.8" r="2.5" fill="#fff" stroke="#000" stroke-width="1.9"/>
<circle cx="577.3" cy="791.0" r="2.5" fill="#fff" stroke="#000" stroke-width="1.9"/>
<circle cx="579.8" cy="803.1" r="2.5" fill="#fff" stroke="#000" stroke-width="1.9"/>
<circle cx="582.3" cy="816.0" r="2.5" fill="#fff" stroke="#000" stroke-width="1.9"/>
<circle cx="584.8" cy="820.9" r="2.5" fill="#fff" stroke="#000" stroke-width="1.9"/>
<circle cx="587.3" cy="804.5" r="2.5" fill="#fff" stroke="#000" stroke-width="1.9"/>
<circle cx="589.8" cy="818.0" r="2.5" fill="#fff" stroke="#000" stroke-width="1.9"/>
<circle cx="592.3" cy="812.6" r="2.5" fill="#fff" stroke="#000" stroke-width="1.9"/>
<circle cx="594.8" cy="801.6" r="2.5" fill="#fff" stroke="#000" stroke-width="1.9"/>
<circle cx="597.3" cy="811.1" r="2.5" fill="#fff" stroke="#000" stroke-width="1.9"/>
<circle cx="599.9" cy="808.2" r="2.5" fill="#fff" stroke="#000" stroke-width="1.9"/>
<circle cx="602.4" cy="803.4" r="2.5" fill="#fff" stroke="#000" stroke-width="1.9"/>
<circle cx="604.9" cy="808.2" r="2.5" fill="#fff" stroke="#000" stroke-width="1.9"/>
<circle cx="607.4" cy="822.1" r="2.5" fill="#fff" stroke="#000" stroke-width="1.9"/>
<circle cx="609.9" cy="821.3" r="2.5" fill="#fff" stroke="#000" stroke-width="1.9"/>
<circle cx="612.4" cy="813.3" r="2.5" fill="#fff" stroke="#000" stroke-width="1.9"/>
<circle cx="614.9" cy="809.6" r="2.5" fill="#fff" stroke="#000" stroke-width="1.9"/>
<circle cx="617.4" cy="809.6" r="2.5" fill="#fff" stroke="#000" stroke-width="1.9"/>
<circle cx="619.9" cy="821.3" r="2.5" fill="#fff" stroke="#000" stroke-width="1.9"/>
<circle cx="622.4" cy="816.0" r="2.5" fill="#fff" stroke="#000" stroke-width="1.9"/>
<circle cx="624.9" cy="809.2" r="2.5" fill="#fff" stroke="#000" stroke-width="1.9"/>
<circle cx="627.4" cy="791.8" r="2.5" fill="#fff" stroke="#000" stroke-width="1.9"/>
<circle cx="629.9" cy="781.2" r="2.5" fill="#fff" stroke="#000" stroke-width="1.9"/>
<circle cx="632.5" cy="801.4" r="2.5" fill="#fff" stroke="#000" stroke-width="1.9"/>
<circle cx="635.0" cy="810.4" r="2.5" fill="#fff" stroke="#000" stroke-width="1.9"/>
<circle cx="637.5" cy="819.1" r="2.5" fill="#fff" stroke="#000" stroke-width="1.9"/>
<circle cx="640.0" cy="821.3" r="2.5" fill="#fff" stroke="#000" stroke-width="1.9"/>
<circle cx="642.5" cy="814.1" r="2.5" fill="#fff" stroke="#000" stroke-width="1.9"/>
<circle cx="645.0" cy="804.7" r="2.5" fill="#fff" stroke="#000" stroke-width="1.9"/>
<circle cx="647.5" cy="803.1" r="2.5" fill="#fff" stroke="#000" stroke-width="1.9"/>
<circle cx="650.0" cy="831.1" r="2.5" fill="#fff" stroke="#000" stroke-width="1.9"/>
<circle cx="652.5" cy="825.0" r="2.5" fill="#fff" stroke="#000" stroke-width="1.9"/>
<circle cx="655.0" cy="814.1" r="2.5" fill="#fff" stroke="#000" stroke-width="1.9"/>
<circle cx="657.5" cy="825.5" r="2.5" fill="#fff" stroke="#000" stroke-width="1.9"/>
<circle cx="660.0" cy="819.1" r="2.5" fill="#fff" stroke="#000" stroke-width="1.9"/>
<circle cx="662.6" cy="816.9" r="2.5" fill="#fff" stroke="#000" stroke-width="1.9"/>
<circle cx="665.1" cy="819.1" r="2.5" fill="#fff" stroke="#000" stroke-width="1.9"/>
<circle cx="667.6" cy="824.8" r="2.5" fill="#fff" stroke="#000" stroke-width="1.9"/>
<circle cx="670.1" cy="816.9" r="2.5" fill="#fff" stroke="#000" stroke-width="1.9"/>
<circle cx="672.6" cy="796.2" r="2.5" fill="#fff" stroke="#000" stroke-width="1.9"/>
<circle cx="675.1" cy="817.7" r="2.5" fill="#fff" stroke="#000" stroke-width="1.9"/>
<circle cx="677.6" cy="815.2" r="2.5" fill="#fff" stroke="#000" stroke-width="1.9"/>
<circle cx="680.1" cy="822.4" r="2.5" fill="#fff" stroke="#000" stroke-width="1.9"/>
<circle cx="682.6" cy="830.1" r="2.5" fill="#fff" stroke="#000" stroke-width="1.9"/>
<circle cx="685.1" cy="811.4" r="2.5" fill="#fff" stroke="#000" stroke-width="1.9"/>
<circle cx="687.6" cy="819.1" r="2.5" fill="#fff" stroke="#000" stroke-width="1.9"/>
<circle cx="690.1" cy="804.1" r="2.5" fill="#fff" stroke="#000" stroke-width="1.9"/>
<circle cx="692.6" cy="814.1" r="2.5" fill="#fff" stroke="#000" stroke-width="1.9"/>
<circle cx="695.2" cy="806.5" r="2.5" fill="#fff" stroke="#000" stroke-width="1.9"/>
<circle cx="697.7" cy="820.2" r="2.5" fill="#fff" stroke="#000" stroke-width="1.9"/>
<circle cx="700.2" cy="820.6" r="2.5" fill="#fff" stroke="#000" stroke-width="1.9"/>
<circle cx="702.7" cy="824.2" r="2.5" fill="#fff" stroke="#000" stroke-width="1.9"/>
<circle cx="705.2" cy="809.6" r="2.5" fill="#fff" stroke="#000" stroke-width="1.9"/>
<circle cx="707.7" cy="821.3" r="2.5" fill="#fff" stroke="#000" stroke-width="1.9"/>
<circle cx="710.2" cy="819.1" r="2.5" fill="#fff" stroke="#000" stroke-width="1.9"/>
<circle cx="712.7" cy="812.9" r="2.5" fill="#fff" stroke="#000" stroke-width="1.9"/>
<circle cx="715.2" cy="832.3" r="2.5" fill="#fff" stroke="#000" stroke-width="1.9"/>
<circle cx="717.7" cy="813.6" r="2.5" fill="#fff" stroke="#000" stroke-width="1.9"/>
<circle cx="720.2" cy="793.6" r="2.5" fill="#fff" stroke="#000" stroke-width="1.9"/>
<circle cx="722.7" cy="802.3" r="2.5" fill="#fff" stroke="#000" stroke-width="1.9"/>
<circle cx="725.3" cy="816.9" r="2.5" fill="#fff" stroke="#000" stroke-width="1.9"/>
<circle cx="727.8" cy="804.1" r="2.5" fill="#fff" stroke="#000" stroke-width="1.9"/>
<text x="653.5" y="911.9" font-size="12.7" fill="#262626">N</text>
<text x="663.1" y="914.9" font-size="10.4" fill="#262626" textLength="21" lengthAdjust="spacingAndGlyphs">Term</text>
<text x="686.8" y="911.9" font-size="12.7" fill="#262626">=</text>
<text x="698.1" y="911.9" font-size="12.7" fill="#262626">12</text>
<text x="653.5" y="930.3" font-size="12.7" fill="#262626">N</text>
<text x="663.1" y="933.3" font-size="10.4" fill="#262626" textLength="33.5" lengthAdjust="spacingAndGlyphs">Preterm</text>
<text x="697.2" y="930.3" font-size="12.7" fill="#262626">=</text>
<text x="707.1" y="930.3" font-size="12.7" fill="#262626">17</text>
</g>
<text x="322.3" y="14.5" font-size="18" font-weight="bold" fill="#000" textLength="96.9" lengthAdjust="spacingAndGlyphs">Active Sleep</text>
<text x="333.1" y="40.0" font-size="15.6" font-weight="bold" fill="#000" textLength="70.6" lengthAdjust="spacingAndGlyphs">2–4 Weeks</text>
<text x="330.3" y="367.0" font-size="15.6" font-weight="bold" fill="#000" textLength="76.4" lengthAdjust="spacingAndGlyphs">2–3 Months</text>
<text x="329.8" y="705.1" font-size="15.6" font-weight="bold" fill="#000" textLength="77.6" lengthAdjust="spacingAndGlyphs">5–6 Months</text>
<text x="157.7" y="56.8" font-size="17.4" font-weight="bold" fill="#000" textLength="55.3" lengthAdjust="spacingAndGlyphs">Supine</text>
<text x="546.0" y="62.9" font-size="17.4" font-weight="bold" fill="#000" textLength="47.9" lengthAdjust="spacingAndGlyphs">Prone</text>
</svg>
</div>
</body></html>
